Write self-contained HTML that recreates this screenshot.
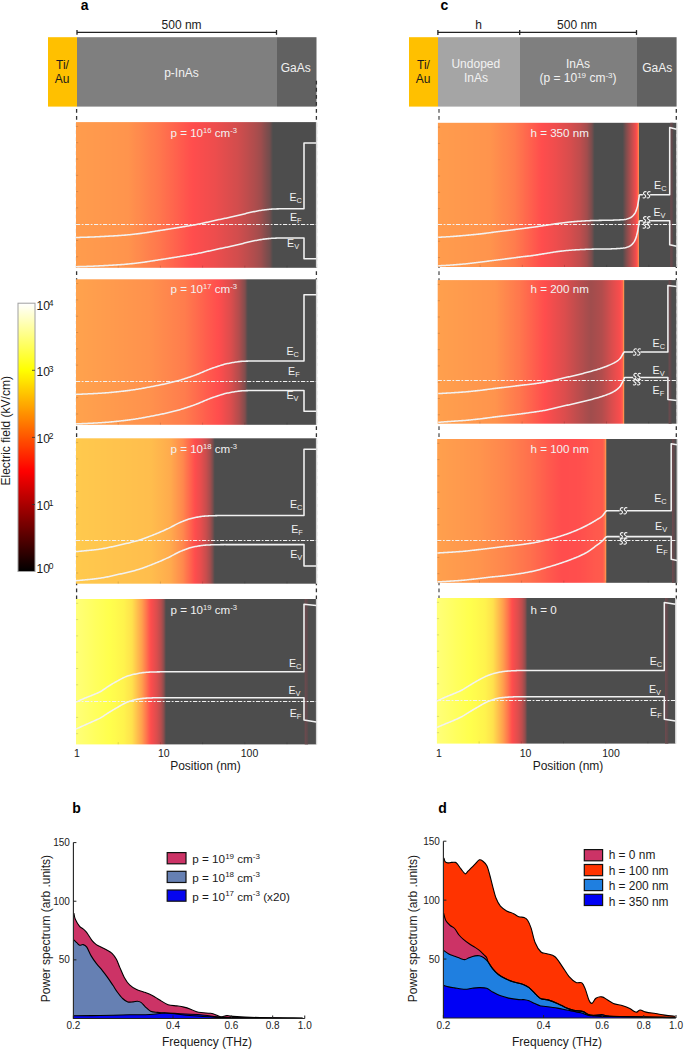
<!DOCTYPE html>
<html><head><meta charset="utf-8"><style>
html,body{margin:0;padding:0;background:#fff;width:685px;height:1049px;overflow:hidden}
svg{display:block;font-family:"Liberation Sans", sans-serif}
</style></head><body>
<svg width="685" height="1049" viewBox="0 0 685 1049" font-family='"Liberation Sans", sans-serif'><defs>
<linearGradient id="cb" x1="0" y1="0" x2="0" y2="1"><stop offset="0.000" stop-color="#ffffff"/><stop offset="0.010" stop-color="#fffff5"/><stop offset="0.020" stop-color="#ffffeb"/><stop offset="0.030" stop-color="#ffffe0"/><stop offset="0.040" stop-color="#ffffd6"/><stop offset="0.050" stop-color="#ffffcc"/><stop offset="0.060" stop-color="#ffffc2"/><stop offset="0.070" stop-color="#ffffb8"/><stop offset="0.080" stop-color="#ffffad"/><stop offset="0.090" stop-color="#ffffa3"/><stop offset="0.100" stop-color="#ffff99"/><stop offset="0.110" stop-color="#ffff8f"/><stop offset="0.120" stop-color="#ffff85"/><stop offset="0.130" stop-color="#ffff7a"/><stop offset="0.140" stop-color="#ffff70"/><stop offset="0.150" stop-color="#ffff66"/><stop offset="0.160" stop-color="#ffff5c"/><stop offset="0.170" stop-color="#ffff52"/><stop offset="0.180" stop-color="#ffff47"/><stop offset="0.190" stop-color="#ffff3d"/><stop offset="0.200" stop-color="#ffff33"/><stop offset="0.210" stop-color="#ffff29"/><stop offset="0.220" stop-color="#ffff1f"/><stop offset="0.230" stop-color="#ffff14"/><stop offset="0.240" stop-color="#ffff0a"/><stop offset="0.250" stop-color="#ffff00"/><stop offset="0.260" stop-color="#fff800"/><stop offset="0.270" stop-color="#fff100"/><stop offset="0.280" stop-color="#ffeb00"/><stop offset="0.290" stop-color="#ffe400"/><stop offset="0.300" stop-color="#ffdd00"/><stop offset="0.310" stop-color="#ffd600"/><stop offset="0.320" stop-color="#ffcf00"/><stop offset="0.330" stop-color="#ffc900"/><stop offset="0.340" stop-color="#ffc200"/><stop offset="0.350" stop-color="#ffbb00"/><stop offset="0.360" stop-color="#ffb400"/><stop offset="0.370" stop-color="#ffad00"/><stop offset="0.380" stop-color="#ffa700"/><stop offset="0.390" stop-color="#ffa000"/><stop offset="0.400" stop-color="#ff9900"/><stop offset="0.410" stop-color="#ff9200"/><stop offset="0.420" stop-color="#ff8b00"/><stop offset="0.430" stop-color="#ff8500"/><stop offset="0.440" stop-color="#ff7e00"/><stop offset="0.450" stop-color="#ff7700"/><stop offset="0.460" stop-color="#ff7000"/><stop offset="0.470" stop-color="#ff6900"/><stop offset="0.480" stop-color="#ff6300"/><stop offset="0.490" stop-color="#ff5c00"/><stop offset="0.500" stop-color="#ff5500"/><stop offset="0.510" stop-color="#ff4e00"/><stop offset="0.520" stop-color="#ff4700"/><stop offset="0.530" stop-color="#ff4100"/><stop offset="0.540" stop-color="#ff3a00"/><stop offset="0.550" stop-color="#ff3300"/><stop offset="0.560" stop-color="#ff2c00"/><stop offset="0.570" stop-color="#ff2500"/><stop offset="0.580" stop-color="#ff1f00"/><stop offset="0.590" stop-color="#ff1800"/><stop offset="0.600" stop-color="#ff1100"/><stop offset="0.610" stop-color="#ff0a00"/><stop offset="0.620" stop-color="#ff0300"/><stop offset="0.630" stop-color="#fc0000"/><stop offset="0.640" stop-color="#f50000"/><stop offset="0.650" stop-color="#ee0000"/><stop offset="0.660" stop-color="#e70000"/><stop offset="0.670" stop-color="#e00000"/><stop offset="0.680" stop-color="#da0000"/><stop offset="0.690" stop-color="#d30000"/><stop offset="0.700" stop-color="#cc0000"/><stop offset="0.710" stop-color="#c50000"/><stop offset="0.720" stop-color="#be0000"/><stop offset="0.730" stop-color="#b80000"/><stop offset="0.740" stop-color="#b10000"/><stop offset="0.750" stop-color="#aa0000"/><stop offset="0.760" stop-color="#a30000"/><stop offset="0.770" stop-color="#9c0000"/><stop offset="0.780" stop-color="#960000"/><stop offset="0.790" stop-color="#8f0000"/><stop offset="0.800" stop-color="#880000"/><stop offset="0.810" stop-color="#810000"/><stop offset="0.820" stop-color="#7a0000"/><stop offset="0.830" stop-color="#740000"/><stop offset="0.840" stop-color="#6d0000"/><stop offset="0.850" stop-color="#660000"/><stop offset="0.860" stop-color="#5f0000"/><stop offset="0.870" stop-color="#580000"/><stop offset="0.880" stop-color="#520000"/><stop offset="0.890" stop-color="#4b0000"/><stop offset="0.900" stop-color="#440000"/><stop offset="0.910" stop-color="#3d0000"/><stop offset="0.920" stop-color="#360000"/><stop offset="0.930" stop-color="#300000"/><stop offset="0.940" stop-color="#290000"/><stop offset="0.950" stop-color="#220000"/><stop offset="0.960" stop-color="#1b0000"/><stop offset="0.970" stop-color="#140000"/><stop offset="0.980" stop-color="#0e0000"/><stop offset="0.990" stop-color="#070000"/><stop offset="1.000" stop-color="#000000"/></linearGradient>
<linearGradient id="g1" x1="0" y1="0" x2="1" y2="0"><stop offset="0.0000" stop-color="#ff9c4d"/><stop offset="0.0042" stop-color="#ff9c4d"/><stop offset="0.0083" stop-color="#ff9c4d"/><stop offset="0.0125" stop-color="#ff9c4d"/><stop offset="0.0167" stop-color="#ff9c4d"/><stop offset="0.0208" stop-color="#ff9b4d"/><stop offset="0.0250" stop-color="#ff9b4d"/><stop offset="0.0292" stop-color="#ff9b4d"/><stop offset="0.0333" stop-color="#ff9b4d"/><stop offset="0.0375" stop-color="#ff9b4d"/><stop offset="0.0417" stop-color="#ff9b4d"/><stop offset="0.0458" stop-color="#ff9a4d"/><stop offset="0.0500" stop-color="#ff9a4d"/><stop offset="0.0542" stop-color="#ff9a4d"/><stop offset="0.0583" stop-color="#ff9a4d"/><stop offset="0.0625" stop-color="#ff9a4d"/><stop offset="0.0667" stop-color="#ff9a4d"/><stop offset="0.0708" stop-color="#ff9a4d"/><stop offset="0.0750" stop-color="#ff994d"/><stop offset="0.0792" stop-color="#ff994d"/><stop offset="0.0833" stop-color="#ff994d"/><stop offset="0.0875" stop-color="#ff994d"/><stop offset="0.0917" stop-color="#ff994d"/><stop offset="0.0958" stop-color="#ff994d"/><stop offset="0.1000" stop-color="#ff984d"/><stop offset="0.1042" stop-color="#ff984d"/><stop offset="0.1083" stop-color="#ff984d"/><stop offset="0.1125" stop-color="#ff984d"/><stop offset="0.1167" stop-color="#ff984d"/><stop offset="0.1208" stop-color="#ff984d"/><stop offset="0.1250" stop-color="#ff974d"/><stop offset="0.1292" stop-color="#ff974d"/><stop offset="0.1333" stop-color="#ff974d"/><stop offset="0.1375" stop-color="#ff974d"/><stop offset="0.1417" stop-color="#ff974d"/><stop offset="0.1458" stop-color="#ff974d"/><stop offset="0.1500" stop-color="#ff964d"/><stop offset="0.1542" stop-color="#ff964d"/><stop offset="0.1583" stop-color="#ff964d"/><stop offset="0.1625" stop-color="#ff964d"/><stop offset="0.1667" stop-color="#ff964d"/><stop offset="0.1708" stop-color="#ff964d"/><stop offset="0.1750" stop-color="#ff954d"/><stop offset="0.1792" stop-color="#ff954d"/><stop offset="0.1833" stop-color="#ff954d"/><stop offset="0.1875" stop-color="#ff954d"/><stop offset="0.1917" stop-color="#ff954d"/><stop offset="0.1958" stop-color="#ff954d"/><stop offset="0.2000" stop-color="#ff954d"/><stop offset="0.2042" stop-color="#ff944d"/><stop offset="0.2083" stop-color="#ff944d"/><stop offset="0.2125" stop-color="#ff944d"/><stop offset="0.2167" stop-color="#ff944d"/><stop offset="0.2208" stop-color="#ff934d"/><stop offset="0.2250" stop-color="#ff924d"/><stop offset="0.2292" stop-color="#ff914d"/><stop offset="0.2333" stop-color="#ff904d"/><stop offset="0.2375" stop-color="#ff8f4d"/><stop offset="0.2417" stop-color="#ff8e4d"/><stop offset="0.2458" stop-color="#ff8d4d"/><stop offset="0.2500" stop-color="#ff8c4d"/><stop offset="0.2542" stop-color="#ff8b4d"/><stop offset="0.2583" stop-color="#ff8b4d"/><stop offset="0.2625" stop-color="#ff8a4d"/><stop offset="0.2667" stop-color="#ff894d"/><stop offset="0.2708" stop-color="#ff884d"/><stop offset="0.2750" stop-color="#ff874d"/><stop offset="0.2792" stop-color="#ff864d"/><stop offset="0.2833" stop-color="#ff854d"/><stop offset="0.2875" stop-color="#ff844d"/><stop offset="0.2917" stop-color="#ff834d"/><stop offset="0.2958" stop-color="#ff824d"/><stop offset="0.3000" stop-color="#ff814d"/><stop offset="0.3042" stop-color="#ff804d"/><stop offset="0.3083" stop-color="#ff7f4d"/><stop offset="0.3125" stop-color="#ff7e4d"/><stop offset="0.3167" stop-color="#ff7d4d"/><stop offset="0.3208" stop-color="#ff7d4d"/><stop offset="0.3250" stop-color="#ff7c4d"/><stop offset="0.3292" stop-color="#ff7b4d"/><stop offset="0.3333" stop-color="#ff7a4d"/><stop offset="0.3375" stop-color="#ff794d"/><stop offset="0.3417" stop-color="#ff784d"/><stop offset="0.3458" stop-color="#ff774d"/><stop offset="0.3500" stop-color="#ff764d"/><stop offset="0.3542" stop-color="#ff754d"/><stop offset="0.3583" stop-color="#ff734d"/><stop offset="0.3625" stop-color="#ff724d"/><stop offset="0.3667" stop-color="#ff714d"/><stop offset="0.3708" stop-color="#ff704d"/><stop offset="0.3750" stop-color="#ff6e4d"/><stop offset="0.3792" stop-color="#ff6d4d"/><stop offset="0.3833" stop-color="#ff6c4d"/><stop offset="0.3875" stop-color="#ff6b4d"/><stop offset="0.3917" stop-color="#ff694d"/><stop offset="0.3958" stop-color="#ff684d"/><stop offset="0.4000" stop-color="#ff674d"/><stop offset="0.4042" stop-color="#ff664d"/><stop offset="0.4083" stop-color="#ff644d"/><stop offset="0.4125" stop-color="#ff634d"/><stop offset="0.4167" stop-color="#ff624d"/><stop offset="0.4208" stop-color="#ff614d"/><stop offset="0.4250" stop-color="#ff5f4d"/><stop offset="0.4292" stop-color="#ff5e4d"/><stop offset="0.4333" stop-color="#ff5d4d"/><stop offset="0.4375" stop-color="#ff5b4d"/><stop offset="0.4417" stop-color="#ff5a4d"/><stop offset="0.4458" stop-color="#ff594d"/><stop offset="0.4500" stop-color="#ff584d"/><stop offset="0.4542" stop-color="#ff564d"/><stop offset="0.4583" stop-color="#ff554d"/><stop offset="0.4625" stop-color="#ff544d"/><stop offset="0.4667" stop-color="#ff534d"/><stop offset="0.4708" stop-color="#ff514d"/><stop offset="0.4750" stop-color="#ff504d"/><stop offset="0.4792" stop-color="#ff4f4d"/><stop offset="0.4833" stop-color="#ff4e4d"/><stop offset="0.4875" stop-color="#ff4d4d"/><stop offset="0.4917" stop-color="#fe4d4d"/><stop offset="0.4958" stop-color="#fd4d4d"/><stop offset="0.5000" stop-color="#fc4d4d"/><stop offset="0.5042" stop-color="#fc4d4d"/><stop offset="0.5083" stop-color="#fb4d4d"/><stop offset="0.5125" stop-color="#fa4d4d"/><stop offset="0.5167" stop-color="#f94d4d"/><stop offset="0.5208" stop-color="#f84d4d"/><stop offset="0.5250" stop-color="#f84d4d"/><stop offset="0.5292" stop-color="#f74d4d"/><stop offset="0.5333" stop-color="#f64d4d"/><stop offset="0.5375" stop-color="#f54d4d"/><stop offset="0.5417" stop-color="#f44d4d"/><stop offset="0.5458" stop-color="#f44d4d"/><stop offset="0.5500" stop-color="#f34d4d"/><stop offset="0.5542" stop-color="#f24d4d"/><stop offset="0.5583" stop-color="#f14d4d"/><stop offset="0.5625" stop-color="#f04d4d"/><stop offset="0.5667" stop-color="#ef4d4d"/><stop offset="0.5708" stop-color="#ef4d4d"/><stop offset="0.5750" stop-color="#ee4d4d"/><stop offset="0.5792" stop-color="#ed4d4d"/><stop offset="0.5833" stop-color="#ec4d4d"/><stop offset="0.5875" stop-color="#eb4d4d"/><stop offset="0.5917" stop-color="#e94d4d"/><stop offset="0.5958" stop-color="#e84d4d"/><stop offset="0.6000" stop-color="#e74d4d"/><stop offset="0.6042" stop-color="#e64d4d"/><stop offset="0.6083" stop-color="#e54d4d"/><stop offset="0.6125" stop-color="#e34d4d"/><stop offset="0.6167" stop-color="#e24d4d"/><stop offset="0.6208" stop-color="#e14d4d"/><stop offset="0.6250" stop-color="#e04d4d"/><stop offset="0.6292" stop-color="#df4d4d"/><stop offset="0.6333" stop-color="#dd4d4d"/><stop offset="0.6375" stop-color="#dc4d4d"/><stop offset="0.6417" stop-color="#db4d4d"/><stop offset="0.6458" stop-color="#da4d4d"/><stop offset="0.6500" stop-color="#d94d4d"/><stop offset="0.6542" stop-color="#d74d4d"/><stop offset="0.6583" stop-color="#d64d4d"/><stop offset="0.6625" stop-color="#d54d4d"/><stop offset="0.6667" stop-color="#d44d4d"/><stop offset="0.6708" stop-color="#d34d4d"/><stop offset="0.6750" stop-color="#d14d4d"/><stop offset="0.6792" stop-color="#cf4d4d"/><stop offset="0.6833" stop-color="#cd4d4d"/><stop offset="0.6875" stop-color="#cb4d4d"/><stop offset="0.6917" stop-color="#c94d4d"/><stop offset="0.6958" stop-color="#c74d4d"/><stop offset="0.7000" stop-color="#c54d4d"/><stop offset="0.7042" stop-color="#c34d4d"/><stop offset="0.7083" stop-color="#c14d4d"/><stop offset="0.7125" stop-color="#bf4d4d"/><stop offset="0.7167" stop-color="#bd4d4d"/><stop offset="0.7208" stop-color="#ba4d4d"/><stop offset="0.7250" stop-color="#b84d4d"/><stop offset="0.7292" stop-color="#b64d4d"/><stop offset="0.7333" stop-color="#b44d4d"/><stop offset="0.7375" stop-color="#b24d4d"/><stop offset="0.7417" stop-color="#b04d4d"/><stop offset="0.7458" stop-color="#ad4d4d"/><stop offset="0.7500" stop-color="#ab4d4d"/><stop offset="0.7542" stop-color="#a84d4d"/><stop offset="0.7583" stop-color="#a54d4d"/><stop offset="0.7625" stop-color="#a24d4d"/><stop offset="0.7667" stop-color="#a04d4d"/><stop offset="0.7708" stop-color="#9c4d4d"/><stop offset="0.7750" stop-color="#974d4d"/><stop offset="0.7792" stop-color="#914d4d"/><stop offset="0.7833" stop-color="#8c4d4d"/><stop offset="0.7875" stop-color="#874d4d"/><stop offset="0.7917" stop-color="#824d4d"/><stop offset="0.7958" stop-color="#7d4d4d"/><stop offset="0.8000" stop-color="#794d4d"/><stop offset="0.8042" stop-color="#744d4d"/><stop offset="0.8083" stop-color="#6d4d4d"/><stop offset="0.8125" stop-color="#614d4d"/><stop offset="0.8167" stop-color="#554d4d"/><stop offset="0.8208" stop-color="#4d4d4d"/><stop offset="0.8250" stop-color="#4d4d4d"/><stop offset="0.8292" stop-color="#4d4d4d"/><stop offset="0.8333" stop-color="#4d4d4d"/><stop offset="0.8375" stop-color="#4d4d4d"/><stop offset="0.8417" stop-color="#4d4d4d"/><stop offset="0.8458" stop-color="#4d4d4d"/><stop offset="0.8500" stop-color="#4d4d4d"/><stop offset="0.8542" stop-color="#4d4d4d"/><stop offset="0.8583" stop-color="#4d4d4d"/><stop offset="0.8625" stop-color="#4d4d4d"/><stop offset="0.8667" stop-color="#4d4d4d"/><stop offset="0.8708" stop-color="#4d4d4d"/><stop offset="0.8750" stop-color="#4d4d4d"/><stop offset="0.8792" stop-color="#4d4d4d"/><stop offset="0.8833" stop-color="#4d4d4d"/><stop offset="0.8875" stop-color="#4d4d4d"/><stop offset="0.8917" stop-color="#4d4d4d"/><stop offset="0.8958" stop-color="#4d4d4d"/><stop offset="0.9000" stop-color="#4d4d4d"/><stop offset="0.9042" stop-color="#4d4d4d"/><stop offset="0.9083" stop-color="#4d4d4d"/><stop offset="0.9125" stop-color="#4d4d4d"/><stop offset="0.9167" stop-color="#4d4d4d"/><stop offset="0.9208" stop-color="#4d4d4d"/><stop offset="0.9250" stop-color="#4d4d4d"/><stop offset="0.9292" stop-color="#4d4d4d"/><stop offset="0.9333" stop-color="#4d4d4d"/><stop offset="0.9375" stop-color="#4d4d4d"/><stop offset="0.9417" stop-color="#4d4d4d"/><stop offset="0.9458" stop-color="#4d4d4d"/><stop offset="0.9500" stop-color="#4d4d4d"/><stop offset="0.9542" stop-color="#4d4d4d"/><stop offset="0.9583" stop-color="#4d4d4d"/><stop offset="0.9625" stop-color="#4d4d4d"/><stop offset="0.9667" stop-color="#4d4d4d"/><stop offset="0.9708" stop-color="#4d4d4d"/><stop offset="0.9750" stop-color="#4d4d4d"/><stop offset="0.9792" stop-color="#4d4d4d"/><stop offset="0.9833" stop-color="#4d4d4d"/><stop offset="0.9875" stop-color="#4d4d4d"/><stop offset="0.9917" stop-color="#4d4d4d"/><stop offset="0.9958" stop-color="#4d4d4d"/><stop offset="1.0000" stop-color="#4d4d4d"/></linearGradient>
<linearGradient id="g2" x1="0" y1="0" x2="1" y2="0"><stop offset="0.0000" stop-color="#ffa24d"/><stop offset="0.0042" stop-color="#ffa24d"/><stop offset="0.0083" stop-color="#ffa24d"/><stop offset="0.0125" stop-color="#ffa24d"/><stop offset="0.0167" stop-color="#ffa14d"/><stop offset="0.0208" stop-color="#ffa14d"/><stop offset="0.0250" stop-color="#ffa14d"/><stop offset="0.0292" stop-color="#ffa14d"/><stop offset="0.0333" stop-color="#ffa04d"/><stop offset="0.0375" stop-color="#ffa04d"/><stop offset="0.0417" stop-color="#ffa04d"/><stop offset="0.0458" stop-color="#ffa04d"/><stop offset="0.0500" stop-color="#ff9f4d"/><stop offset="0.0542" stop-color="#ff9f4d"/><stop offset="0.0583" stop-color="#ff9f4d"/><stop offset="0.0625" stop-color="#ff9f4d"/><stop offset="0.0667" stop-color="#ff9f4d"/><stop offset="0.0708" stop-color="#ff9e4d"/><stop offset="0.0750" stop-color="#ff9e4d"/><stop offset="0.0792" stop-color="#ff9e4d"/><stop offset="0.0833" stop-color="#ff9e4d"/><stop offset="0.0875" stop-color="#ff9d4d"/><stop offset="0.0917" stop-color="#ff9d4d"/><stop offset="0.0958" stop-color="#ff9d4d"/><stop offset="0.1000" stop-color="#ff9d4d"/><stop offset="0.1042" stop-color="#ff9d4d"/><stop offset="0.1083" stop-color="#ff9c4d"/><stop offset="0.1125" stop-color="#ff9c4d"/><stop offset="0.1167" stop-color="#ff9c4d"/><stop offset="0.1208" stop-color="#ff9c4d"/><stop offset="0.1250" stop-color="#ff9b4d"/><stop offset="0.1292" stop-color="#ff9b4d"/><stop offset="0.1333" stop-color="#ff9b4d"/><stop offset="0.1375" stop-color="#ff9b4d"/><stop offset="0.1417" stop-color="#ff9b4d"/><stop offset="0.1458" stop-color="#ff9a4d"/><stop offset="0.1500" stop-color="#ff9a4d"/><stop offset="0.1542" stop-color="#ff9a4d"/><stop offset="0.1583" stop-color="#ff9a4d"/><stop offset="0.1625" stop-color="#ff994d"/><stop offset="0.1667" stop-color="#ff994d"/><stop offset="0.1708" stop-color="#ff994d"/><stop offset="0.1750" stop-color="#ff994d"/><stop offset="0.1792" stop-color="#ff984d"/><stop offset="0.1833" stop-color="#ff984d"/><stop offset="0.1875" stop-color="#ff984d"/><stop offset="0.1917" stop-color="#ff984d"/><stop offset="0.1958" stop-color="#ff984d"/><stop offset="0.2000" stop-color="#ff974d"/><stop offset="0.2042" stop-color="#ff974d"/><stop offset="0.2083" stop-color="#ff974d"/><stop offset="0.2125" stop-color="#ff974d"/><stop offset="0.2167" stop-color="#ff964d"/><stop offset="0.2208" stop-color="#ff964d"/><stop offset="0.2250" stop-color="#ff964d"/><stop offset="0.2292" stop-color="#ff964d"/><stop offset="0.2333" stop-color="#ff964d"/><stop offset="0.2375" stop-color="#ff954d"/><stop offset="0.2417" stop-color="#ff954d"/><stop offset="0.2458" stop-color="#ff954d"/><stop offset="0.2500" stop-color="#ff954d"/><stop offset="0.2542" stop-color="#ff944d"/><stop offset="0.2583" stop-color="#ff944d"/><stop offset="0.2625" stop-color="#ff944d"/><stop offset="0.2667" stop-color="#ff944d"/><stop offset="0.2708" stop-color="#ff944d"/><stop offset="0.2750" stop-color="#ff934d"/><stop offset="0.2792" stop-color="#ff934d"/><stop offset="0.2833" stop-color="#ff934d"/><stop offset="0.2875" stop-color="#ff934d"/><stop offset="0.2917" stop-color="#ff924d"/><stop offset="0.2958" stop-color="#ff924d"/><stop offset="0.3000" stop-color="#ff924d"/><stop offset="0.3042" stop-color="#ff924d"/><stop offset="0.3083" stop-color="#ff914d"/><stop offset="0.3125" stop-color="#ff914d"/><stop offset="0.3167" stop-color="#ff904d"/><stop offset="0.3208" stop-color="#ff904d"/><stop offset="0.3250" stop-color="#ff8f4d"/><stop offset="0.3292" stop-color="#ff8e4d"/><stop offset="0.3333" stop-color="#ff8e4d"/><stop offset="0.3375" stop-color="#ff8d4d"/><stop offset="0.3417" stop-color="#ff8d4d"/><stop offset="0.3458" stop-color="#ff8c4d"/><stop offset="0.3500" stop-color="#ff8b4d"/><stop offset="0.3542" stop-color="#ff8b4d"/><stop offset="0.3583" stop-color="#ff8a4d"/><stop offset="0.3625" stop-color="#ff894d"/><stop offset="0.3667" stop-color="#ff894d"/><stop offset="0.3708" stop-color="#ff884d"/><stop offset="0.3750" stop-color="#ff884d"/><stop offset="0.3792" stop-color="#ff874d"/><stop offset="0.3833" stop-color="#ff864d"/><stop offset="0.3875" stop-color="#ff864d"/><stop offset="0.3917" stop-color="#ff854d"/><stop offset="0.3958" stop-color="#ff854d"/><stop offset="0.4000" stop-color="#ff844d"/><stop offset="0.4042" stop-color="#ff834d"/><stop offset="0.4083" stop-color="#ff834d"/><stop offset="0.4125" stop-color="#ff824d"/><stop offset="0.4167" stop-color="#ff824d"/><stop offset="0.4208" stop-color="#ff814d"/><stop offset="0.4250" stop-color="#ff804d"/><stop offset="0.4292" stop-color="#ff804d"/><stop offset="0.4333" stop-color="#ff7f4d"/><stop offset="0.4375" stop-color="#ff7e4d"/><stop offset="0.4417" stop-color="#ff7e4d"/><stop offset="0.4458" stop-color="#ff7d4d"/><stop offset="0.4500" stop-color="#ff7d4d"/><stop offset="0.4542" stop-color="#ff7c4d"/><stop offset="0.4583" stop-color="#ff7a4d"/><stop offset="0.4625" stop-color="#ff794d"/><stop offset="0.4667" stop-color="#ff784d"/><stop offset="0.4708" stop-color="#ff764d"/><stop offset="0.4750" stop-color="#ff754d"/><stop offset="0.4792" stop-color="#ff734d"/><stop offset="0.4833" stop-color="#ff724d"/><stop offset="0.4875" stop-color="#ff704d"/><stop offset="0.4917" stop-color="#ff6f4d"/><stop offset="0.4958" stop-color="#ff6e4d"/><stop offset="0.5000" stop-color="#ff6c4d"/><stop offset="0.5042" stop-color="#ff6b4d"/><stop offset="0.5083" stop-color="#ff694d"/><stop offset="0.5125" stop-color="#ff684d"/><stop offset="0.5167" stop-color="#ff664d"/><stop offset="0.5208" stop-color="#ff654d"/><stop offset="0.5250" stop-color="#ff644d"/><stop offset="0.5292" stop-color="#ff624d"/><stop offset="0.5333" stop-color="#ff614d"/><stop offset="0.5375" stop-color="#ff5f4d"/><stop offset="0.5417" stop-color="#ff5e4d"/><stop offset="0.5458" stop-color="#ff5c4d"/><stop offset="0.5500" stop-color="#ff5b4d"/><stop offset="0.5542" stop-color="#ff5a4d"/><stop offset="0.5583" stop-color="#ff584d"/><stop offset="0.5625" stop-color="#ff574d"/><stop offset="0.5667" stop-color="#ff564d"/><stop offset="0.5708" stop-color="#ff544d"/><stop offset="0.5750" stop-color="#ff534d"/><stop offset="0.5792" stop-color="#ff524d"/><stop offset="0.5833" stop-color="#ff504d"/><stop offset="0.5875" stop-color="#ff4f4d"/><stop offset="0.5917" stop-color="#ff4e4d"/><stop offset="0.5958" stop-color="#fe4d4d"/><stop offset="0.6000" stop-color="#fb4d4d"/><stop offset="0.6042" stop-color="#f94d4d"/><stop offset="0.6083" stop-color="#f64d4d"/><stop offset="0.6125" stop-color="#f34d4d"/><stop offset="0.6167" stop-color="#f04d4d"/><stop offset="0.6208" stop-color="#ed4d4d"/><stop offset="0.6250" stop-color="#ea4d4d"/><stop offset="0.6292" stop-color="#e74d4d"/><stop offset="0.6333" stop-color="#e44d4d"/><stop offset="0.6375" stop-color="#e14d4d"/><stop offset="0.6417" stop-color="#de4d4d"/><stop offset="0.6458" stop-color="#da4d4d"/><stop offset="0.6500" stop-color="#d54d4d"/><stop offset="0.6542" stop-color="#d04d4d"/><stop offset="0.6583" stop-color="#cb4d4d"/><stop offset="0.6625" stop-color="#c54d4d"/><stop offset="0.6667" stop-color="#c04d4d"/><stop offset="0.6708" stop-color="#bb4d4d"/><stop offset="0.6750" stop-color="#b64d4d"/><stop offset="0.6792" stop-color="#b04d4d"/><stop offset="0.6833" stop-color="#a84d4d"/><stop offset="0.6875" stop-color="#a04d4d"/><stop offset="0.6917" stop-color="#984d4d"/><stop offset="0.6958" stop-color="#904d4d"/><stop offset="0.7000" stop-color="#884d4d"/><stop offset="0.7042" stop-color="#7e4d4d"/><stop offset="0.7083" stop-color="#694d4d"/><stop offset="0.7125" stop-color="#554d4d"/><stop offset="0.7167" stop-color="#4d4d4d"/><stop offset="0.7208" stop-color="#4d4d4d"/><stop offset="0.7250" stop-color="#4d4d4d"/><stop offset="0.7292" stop-color="#4d4d4d"/><stop offset="0.7333" stop-color="#4d4d4d"/><stop offset="0.7375" stop-color="#4d4d4d"/><stop offset="0.7417" stop-color="#4d4d4d"/><stop offset="0.7458" stop-color="#4d4d4d"/><stop offset="0.7500" stop-color="#4d4d4d"/><stop offset="0.7542" stop-color="#4d4d4d"/><stop offset="0.7583" stop-color="#4d4d4d"/><stop offset="0.7625" stop-color="#4d4d4d"/><stop offset="0.7667" stop-color="#4d4d4d"/><stop offset="0.7708" stop-color="#4d4d4d"/><stop offset="0.7750" stop-color="#4d4d4d"/><stop offset="0.7792" stop-color="#4d4d4d"/><stop offset="0.7833" stop-color="#4d4d4d"/><stop offset="0.7875" stop-color="#4d4d4d"/><stop offset="0.7917" stop-color="#4d4d4d"/><stop offset="0.7958" stop-color="#4d4d4d"/><stop offset="0.8000" stop-color="#4d4d4d"/><stop offset="0.8042" stop-color="#4d4d4d"/><stop offset="0.8083" stop-color="#4d4d4d"/><stop offset="0.8125" stop-color="#4d4d4d"/><stop offset="0.8167" stop-color="#4d4d4d"/><stop offset="0.8208" stop-color="#4d4d4d"/><stop offset="0.8250" stop-color="#4d4d4d"/><stop offset="0.8292" stop-color="#4d4d4d"/><stop offset="0.8333" stop-color="#4d4d4d"/><stop offset="0.8375" stop-color="#4d4d4d"/><stop offset="0.8417" stop-color="#4d4d4d"/><stop offset="0.8458" stop-color="#4d4d4d"/><stop offset="0.8500" stop-color="#4d4d4d"/><stop offset="0.8542" stop-color="#4d4d4d"/><stop offset="0.8583" stop-color="#4d4d4d"/><stop offset="0.8625" stop-color="#4d4d4d"/><stop offset="0.8667" stop-color="#4d4d4d"/><stop offset="0.8708" stop-color="#4d4d4d"/><stop offset="0.8750" stop-color="#4d4d4d"/><stop offset="0.8792" stop-color="#4d4d4d"/><stop offset="0.8833" stop-color="#4d4d4d"/><stop offset="0.8875" stop-color="#4d4d4d"/><stop offset="0.8917" stop-color="#4d4d4d"/><stop offset="0.8958" stop-color="#4d4d4d"/><stop offset="0.9000" stop-color="#4d4d4d"/><stop offset="0.9042" stop-color="#4d4d4d"/><stop offset="0.9083" stop-color="#4d4d4d"/><stop offset="0.9125" stop-color="#4d4d4d"/><stop offset="0.9167" stop-color="#4d4d4d"/><stop offset="0.9208" stop-color="#4d4d4d"/><stop offset="0.9250" stop-color="#4d4d4d"/><stop offset="0.9292" stop-color="#4d4d4d"/><stop offset="0.9333" stop-color="#4d4d4d"/><stop offset="0.9375" stop-color="#4d4d4d"/><stop offset="0.9417" stop-color="#4d4d4d"/><stop offset="0.9458" stop-color="#4d4d4d"/><stop offset="0.9500" stop-color="#4d4d4d"/><stop offset="0.9542" stop-color="#4d4d4d"/><stop offset="0.9583" stop-color="#4d4d4d"/><stop offset="0.9625" stop-color="#4d4d4d"/><stop offset="0.9667" stop-color="#4d4d4d"/><stop offset="0.9708" stop-color="#4d4d4d"/><stop offset="0.9750" stop-color="#4d4d4d"/><stop offset="0.9792" stop-color="#4d4d4d"/><stop offset="0.9833" stop-color="#4d4d4d"/><stop offset="0.9875" stop-color="#4d4d4d"/><stop offset="0.9917" stop-color="#4d4d4d"/><stop offset="0.9958" stop-color="#4d4d4d"/><stop offset="1.0000" stop-color="#4d4d4d"/></linearGradient>
<linearGradient id="g3" x1="0" y1="0" x2="1" y2="0"><stop offset="0.0000" stop-color="#ffc94d"/><stop offset="0.0042" stop-color="#ffc94d"/><stop offset="0.0083" stop-color="#ffc94d"/><stop offset="0.0125" stop-color="#ffc94d"/><stop offset="0.0167" stop-color="#ffc94d"/><stop offset="0.0208" stop-color="#ffc94d"/><stop offset="0.0250" stop-color="#ffc84d"/><stop offset="0.0292" stop-color="#ffc84d"/><stop offset="0.0333" stop-color="#ffc84d"/><stop offset="0.0375" stop-color="#ffc84d"/><stop offset="0.0417" stop-color="#ffc84d"/><stop offset="0.0458" stop-color="#ffc84d"/><stop offset="0.0500" stop-color="#ffc84d"/><stop offset="0.0542" stop-color="#ffc74d"/><stop offset="0.0583" stop-color="#ffc74d"/><stop offset="0.0625" stop-color="#ffc74d"/><stop offset="0.0667" stop-color="#ffc74d"/><stop offset="0.0708" stop-color="#ffc74d"/><stop offset="0.0750" stop-color="#ffc74d"/><stop offset="0.0792" stop-color="#ffc64d"/><stop offset="0.0833" stop-color="#ffc64d"/><stop offset="0.0875" stop-color="#ffc64d"/><stop offset="0.0917" stop-color="#ffc64d"/><stop offset="0.0958" stop-color="#ffc64d"/><stop offset="0.1000" stop-color="#ffc64d"/><stop offset="0.1042" stop-color="#ffc54d"/><stop offset="0.1083" stop-color="#ffc54d"/><stop offset="0.1125" stop-color="#ffc54d"/><stop offset="0.1167" stop-color="#ffc54d"/><stop offset="0.1208" stop-color="#ffc54d"/><stop offset="0.1250" stop-color="#ffc54d"/><stop offset="0.1292" stop-color="#ffc44d"/><stop offset="0.1333" stop-color="#ffc44d"/><stop offset="0.1375" stop-color="#ffc44d"/><stop offset="0.1417" stop-color="#ffc44d"/><stop offset="0.1458" stop-color="#ffc44d"/><stop offset="0.1500" stop-color="#ffc44d"/><stop offset="0.1542" stop-color="#ffc34d"/><stop offset="0.1583" stop-color="#ffc34d"/><stop offset="0.1625" stop-color="#ffc34d"/><stop offset="0.1667" stop-color="#ffc34d"/><stop offset="0.1708" stop-color="#ffc34d"/><stop offset="0.1750" stop-color="#ffc34d"/><stop offset="0.1792" stop-color="#ffc34d"/><stop offset="0.1833" stop-color="#ffc24d"/><stop offset="0.1875" stop-color="#ffc24d"/><stop offset="0.1917" stop-color="#ffc24d"/><stop offset="0.1958" stop-color="#ffc24d"/><stop offset="0.2000" stop-color="#ffc24d"/><stop offset="0.2042" stop-color="#ffc24d"/><stop offset="0.2083" stop-color="#ffc14d"/><stop offset="0.2125" stop-color="#ffc14d"/><stop offset="0.2167" stop-color="#ffc14d"/><stop offset="0.2208" stop-color="#ffc14d"/><stop offset="0.2250" stop-color="#ffc14d"/><stop offset="0.2292" stop-color="#ffc14d"/><stop offset="0.2333" stop-color="#ffc04d"/><stop offset="0.2375" stop-color="#ffc04d"/><stop offset="0.2417" stop-color="#ffc04d"/><stop offset="0.2458" stop-color="#ffc04d"/><stop offset="0.2500" stop-color="#ffc04d"/><stop offset="0.2542" stop-color="#ffc04d"/><stop offset="0.2583" stop-color="#ffbf4d"/><stop offset="0.2625" stop-color="#ffbf4d"/><stop offset="0.2667" stop-color="#ffbf4d"/><stop offset="0.2708" stop-color="#ffbf4d"/><stop offset="0.2750" stop-color="#ffbf4d"/><stop offset="0.2792" stop-color="#ffbf4d"/><stop offset="0.2833" stop-color="#ffbf4d"/><stop offset="0.2875" stop-color="#ffbe4d"/><stop offset="0.2917" stop-color="#ffbe4d"/><stop offset="0.2958" stop-color="#ffbe4d"/><stop offset="0.3000" stop-color="#ffbe4d"/><stop offset="0.3042" stop-color="#ffbe4d"/><stop offset="0.3083" stop-color="#ffbd4d"/><stop offset="0.3125" stop-color="#ffbd4d"/><stop offset="0.3167" stop-color="#ffbc4d"/><stop offset="0.3208" stop-color="#ffbb4d"/><stop offset="0.3250" stop-color="#ffba4d"/><stop offset="0.3292" stop-color="#ffb94d"/><stop offset="0.3333" stop-color="#ffb84d"/><stop offset="0.3375" stop-color="#ffb74d"/><stop offset="0.3417" stop-color="#ffb64d"/><stop offset="0.3458" stop-color="#ffb54d"/><stop offset="0.3500" stop-color="#ffb54d"/><stop offset="0.3542" stop-color="#ffb44d"/><stop offset="0.3583" stop-color="#ffb34d"/><stop offset="0.3625" stop-color="#ffb24d"/><stop offset="0.3667" stop-color="#ffb14d"/><stop offset="0.3708" stop-color="#ffb04d"/><stop offset="0.3750" stop-color="#ffaf4d"/><stop offset="0.3792" stop-color="#ffae4d"/><stop offset="0.3833" stop-color="#ffad4d"/><stop offset="0.3875" stop-color="#ffac4d"/><stop offset="0.3917" stop-color="#ffab4d"/><stop offset="0.3958" stop-color="#ffa94d"/><stop offset="0.4000" stop-color="#ffa64d"/><stop offset="0.4042" stop-color="#ffa34d"/><stop offset="0.4083" stop-color="#ffa04d"/><stop offset="0.4125" stop-color="#ff9e4d"/><stop offset="0.4167" stop-color="#ff9b4d"/><stop offset="0.4208" stop-color="#ff984d"/><stop offset="0.4250" stop-color="#ff954d"/><stop offset="0.4292" stop-color="#ff934d"/><stop offset="0.4333" stop-color="#ff904d"/><stop offset="0.4375" stop-color="#ff8d4d"/><stop offset="0.4417" stop-color="#ff8a4d"/><stop offset="0.4458" stop-color="#ff874d"/><stop offset="0.4500" stop-color="#ff824d"/><stop offset="0.4542" stop-color="#ff7d4d"/><stop offset="0.4583" stop-color="#ff784d"/><stop offset="0.4625" stop-color="#ff734d"/><stop offset="0.4667" stop-color="#ff6f4d"/><stop offset="0.4708" stop-color="#ff6a4d"/><stop offset="0.4750" stop-color="#ff654d"/><stop offset="0.4792" stop-color="#ff604d"/><stop offset="0.4833" stop-color="#ff5b4d"/><stop offset="0.4875" stop-color="#ff564d"/><stop offset="0.4917" stop-color="#ff514d"/><stop offset="0.4958" stop-color="#fe4d4d"/><stop offset="0.5000" stop-color="#fa4d4d"/><stop offset="0.5042" stop-color="#f64d4d"/><stop offset="0.5083" stop-color="#f24d4d"/><stop offset="0.5125" stop-color="#ef4d4d"/><stop offset="0.5167" stop-color="#eb4d4d"/><stop offset="0.5208" stop-color="#e64d4d"/><stop offset="0.5250" stop-color="#e04d4d"/><stop offset="0.5292" stop-color="#da4d4d"/><stop offset="0.5333" stop-color="#d44d4d"/><stop offset="0.5375" stop-color="#ce4d4d"/><stop offset="0.5417" stop-color="#c84d4d"/><stop offset="0.5458" stop-color="#bf4d4d"/><stop offset="0.5500" stop-color="#b64d4d"/><stop offset="0.5542" stop-color="#ad4d4d"/><stop offset="0.5583" stop-color="#a34d4d"/><stop offset="0.5625" stop-color="#934d4d"/><stop offset="0.5667" stop-color="#834d4d"/><stop offset="0.5708" stop-color="#724d4d"/><stop offset="0.5750" stop-color="#574d4d"/><stop offset="0.5792" stop-color="#4d4d4d"/><stop offset="0.5833" stop-color="#4d4d4d"/><stop offset="0.5875" stop-color="#4d4d4d"/><stop offset="0.5917" stop-color="#4d4d4d"/><stop offset="0.5958" stop-color="#4d4d4d"/><stop offset="0.6000" stop-color="#4d4d4d"/><stop offset="0.6042" stop-color="#4d4d4d"/><stop offset="0.6083" stop-color="#4d4d4d"/><stop offset="0.6125" stop-color="#4d4d4d"/><stop offset="0.6167" stop-color="#4d4d4d"/><stop offset="0.6208" stop-color="#4d4d4d"/><stop offset="0.6250" stop-color="#4d4d4d"/><stop offset="0.6292" stop-color="#4d4d4d"/><stop offset="0.6333" stop-color="#4d4d4d"/><stop offset="0.6375" stop-color="#4d4d4d"/><stop offset="0.6417" stop-color="#4d4d4d"/><stop offset="0.6458" stop-color="#4d4d4d"/><stop offset="0.6500" stop-color="#4d4d4d"/><stop offset="0.6542" stop-color="#4d4d4d"/><stop offset="0.6583" stop-color="#4d4d4d"/><stop offset="0.6625" stop-color="#4d4d4d"/><stop offset="0.6667" stop-color="#4d4d4d"/><stop offset="0.6708" stop-color="#4d4d4d"/><stop offset="0.6750" stop-color="#4d4d4d"/><stop offset="0.6792" stop-color="#4d4d4d"/><stop offset="0.6833" stop-color="#4d4d4d"/><stop offset="0.6875" stop-color="#4d4d4d"/><stop offset="0.6917" stop-color="#4d4d4d"/><stop offset="0.6958" stop-color="#4d4d4d"/><stop offset="0.7000" stop-color="#4d4d4d"/><stop offset="0.7042" stop-color="#4d4d4d"/><stop offset="0.7083" stop-color="#4d4d4d"/><stop offset="0.7125" stop-color="#4d4d4d"/><stop offset="0.7167" stop-color="#4d4d4d"/><stop offset="0.7208" stop-color="#4d4d4d"/><stop offset="0.7250" stop-color="#4d4d4d"/><stop offset="0.7292" stop-color="#4d4d4d"/><stop offset="0.7333" stop-color="#4d4d4d"/><stop offset="0.7375" stop-color="#4d4d4d"/><stop offset="0.7417" stop-color="#4d4d4d"/><stop offset="0.7458" stop-color="#4d4d4d"/><stop offset="0.7500" stop-color="#4d4d4d"/><stop offset="0.7542" stop-color="#4d4d4d"/><stop offset="0.7583" stop-color="#4d4d4d"/><stop offset="0.7625" stop-color="#4d4d4d"/><stop offset="0.7667" stop-color="#4d4d4d"/><stop offset="0.7708" stop-color="#4d4d4d"/><stop offset="0.7750" stop-color="#4d4d4d"/><stop offset="0.7792" stop-color="#4d4d4d"/><stop offset="0.7833" stop-color="#4d4d4d"/><stop offset="0.7875" stop-color="#4d4d4d"/><stop offset="0.7917" stop-color="#4d4d4d"/><stop offset="0.7958" stop-color="#4d4d4d"/><stop offset="0.8000" stop-color="#4d4d4d"/><stop offset="0.8042" stop-color="#4d4d4d"/><stop offset="0.8083" stop-color="#4d4d4d"/><stop offset="0.8125" stop-color="#4d4d4d"/><stop offset="0.8167" stop-color="#4d4d4d"/><stop offset="0.8208" stop-color="#4d4d4d"/><stop offset="0.8250" stop-color="#4d4d4d"/><stop offset="0.8292" stop-color="#4d4d4d"/><stop offset="0.8333" stop-color="#4d4d4d"/><stop offset="0.8375" stop-color="#4d4d4d"/><stop offset="0.8417" stop-color="#4d4d4d"/><stop offset="0.8458" stop-color="#4d4d4d"/><stop offset="0.8500" stop-color="#4d4d4d"/><stop offset="0.8542" stop-color="#4d4d4d"/><stop offset="0.8583" stop-color="#4d4d4d"/><stop offset="0.8625" stop-color="#4d4d4d"/><stop offset="0.8667" stop-color="#4d4d4d"/><stop offset="0.8708" stop-color="#4d4d4d"/><stop offset="0.8750" stop-color="#4d4d4d"/><stop offset="0.8792" stop-color="#4d4d4d"/><stop offset="0.8833" stop-color="#4d4d4d"/><stop offset="0.8875" stop-color="#4d4d4d"/><stop offset="0.8917" stop-color="#4d4d4d"/><stop offset="0.8958" stop-color="#4d4d4d"/><stop offset="0.9000" stop-color="#4d4d4d"/><stop offset="0.9042" stop-color="#4d4d4d"/><stop offset="0.9083" stop-color="#4d4d4d"/><stop offset="0.9125" stop-color="#4d4d4d"/><stop offset="0.9167" stop-color="#4d4d4d"/><stop offset="0.9208" stop-color="#4d4d4d"/><stop offset="0.9250" stop-color="#4d4d4d"/><stop offset="0.9292" stop-color="#4d4d4d"/><stop offset="0.9333" stop-color="#4d4d4d"/><stop offset="0.9375" stop-color="#4d4d4d"/><stop offset="0.9417" stop-color="#4d4d4d"/><stop offset="0.9458" stop-color="#4d4d4d"/><stop offset="0.9500" stop-color="#4d4d4d"/><stop offset="0.9542" stop-color="#4d4d4d"/><stop offset="0.9583" stop-color="#4d4d4d"/><stop offset="0.9625" stop-color="#4d4d4d"/><stop offset="0.9667" stop-color="#4d4d4d"/><stop offset="0.9708" stop-color="#4d4d4d"/><stop offset="0.9750" stop-color="#4d4d4d"/><stop offset="0.9792" stop-color="#4d4d4d"/><stop offset="0.9833" stop-color="#4d4d4d"/><stop offset="0.9875" stop-color="#4d4d4d"/><stop offset="0.9917" stop-color="#4d4d4d"/><stop offset="0.9958" stop-color="#4d4d4d"/><stop offset="1.0000" stop-color="#4d4d4d"/></linearGradient>
<linearGradient id="g4" x1="0" y1="0" x2="1" y2="0"><stop offset="0.0000" stop-color="#ffff79"/><stop offset="0.0042" stop-color="#ffff78"/><stop offset="0.0083" stop-color="#ffff76"/><stop offset="0.0125" stop-color="#ffff75"/><stop offset="0.0167" stop-color="#ffff73"/><stop offset="0.0208" stop-color="#ffff72"/><stop offset="0.0250" stop-color="#ffff71"/><stop offset="0.0292" stop-color="#ffff6f"/><stop offset="0.0333" stop-color="#ffff6e"/><stop offset="0.0375" stop-color="#ffff6c"/><stop offset="0.0417" stop-color="#ffff6b"/><stop offset="0.0458" stop-color="#ffff6a"/><stop offset="0.0500" stop-color="#ffff68"/><stop offset="0.0542" stop-color="#ffff67"/><stop offset="0.0583" stop-color="#ffff65"/><stop offset="0.0625" stop-color="#ffff64"/><stop offset="0.0667" stop-color="#ffff63"/><stop offset="0.0708" stop-color="#ffff61"/><stop offset="0.0750" stop-color="#ffff60"/><stop offset="0.0792" stop-color="#ffff5e"/><stop offset="0.0833" stop-color="#ffff5d"/><stop offset="0.0875" stop-color="#ffff5c"/><stop offset="0.0917" stop-color="#ffff5b"/><stop offset="0.0958" stop-color="#ffff5a"/><stop offset="0.1000" stop-color="#ffff58"/><stop offset="0.1042" stop-color="#ffff57"/><stop offset="0.1083" stop-color="#ffff56"/><stop offset="0.1125" stop-color="#ffff55"/><stop offset="0.1167" stop-color="#ffff54"/><stop offset="0.1208" stop-color="#ffff52"/><stop offset="0.1250" stop-color="#ffff51"/><stop offset="0.1292" stop-color="#ffff50"/><stop offset="0.1333" stop-color="#ffff4f"/><stop offset="0.1375" stop-color="#ffff4e"/><stop offset="0.1417" stop-color="#ffff4d"/><stop offset="0.1458" stop-color="#fffe4d"/><stop offset="0.1500" stop-color="#fffd4d"/><stop offset="0.1542" stop-color="#fffc4d"/><stop offset="0.1583" stop-color="#fffc4d"/><stop offset="0.1625" stop-color="#fffb4d"/><stop offset="0.1667" stop-color="#fffa4d"/><stop offset="0.1708" stop-color="#fff94d"/><stop offset="0.1750" stop-color="#fff84d"/><stop offset="0.1792" stop-color="#fff74d"/><stop offset="0.1833" stop-color="#fff64d"/><stop offset="0.1875" stop-color="#fff64d"/><stop offset="0.1917" stop-color="#fff54d"/><stop offset="0.1958" stop-color="#fff44d"/><stop offset="0.2000" stop-color="#fff34d"/><stop offset="0.2042" stop-color="#fff14d"/><stop offset="0.2083" stop-color="#ffee4d"/><stop offset="0.2125" stop-color="#ffec4d"/><stop offset="0.2167" stop-color="#ffea4d"/><stop offset="0.2208" stop-color="#ffe84d"/><stop offset="0.2250" stop-color="#ffe64d"/><stop offset="0.2292" stop-color="#ffe34d"/><stop offset="0.2333" stop-color="#ffe14d"/><stop offset="0.2375" stop-color="#ffda4d"/><stop offset="0.2417" stop-color="#ffd44d"/><stop offset="0.2458" stop-color="#ffcd4d"/><stop offset="0.2500" stop-color="#ffc74d"/><stop offset="0.2542" stop-color="#ffc04d"/><stop offset="0.2583" stop-color="#ffb94d"/><stop offset="0.2625" stop-color="#ffb34d"/><stop offset="0.2667" stop-color="#ffac4d"/><stop offset="0.2708" stop-color="#ffa64d"/><stop offset="0.2750" stop-color="#ff9f4d"/><stop offset="0.2792" stop-color="#ff954d"/><stop offset="0.2833" stop-color="#ff8c4d"/><stop offset="0.2875" stop-color="#ff824d"/><stop offset="0.2917" stop-color="#ff794d"/><stop offset="0.2958" stop-color="#ff6f4d"/><stop offset="0.3000" stop-color="#ff654d"/><stop offset="0.3042" stop-color="#ff5b4d"/><stop offset="0.3083" stop-color="#ff524d"/><stop offset="0.3125" stop-color="#fc4d4d"/><stop offset="0.3167" stop-color="#f64d4d"/><stop offset="0.3208" stop-color="#f14d4d"/><stop offset="0.3250" stop-color="#eb4d4d"/><stop offset="0.3292" stop-color="#e54d4d"/><stop offset="0.3333" stop-color="#df4d4d"/><stop offset="0.3375" stop-color="#d94d4d"/><stop offset="0.3417" stop-color="#d04d4d"/><stop offset="0.3458" stop-color="#c84d4d"/><stop offset="0.3500" stop-color="#bf4d4d"/><stop offset="0.3542" stop-color="#b64d4d"/><stop offset="0.3583" stop-color="#a64d4d"/><stop offset="0.3625" stop-color="#964d4d"/><stop offset="0.3667" stop-color="#844d4d"/><stop offset="0.3708" stop-color="#634d4d"/><stop offset="0.3750" stop-color="#4d4d4d"/><stop offset="0.3792" stop-color="#4d4d4d"/><stop offset="0.3833" stop-color="#4d4d4d"/><stop offset="0.3875" stop-color="#4d4d4d"/><stop offset="0.3917" stop-color="#4d4d4d"/><stop offset="0.3958" stop-color="#4d4d4d"/><stop offset="0.4000" stop-color="#4d4d4d"/><stop offset="0.4042" stop-color="#4d4d4d"/><stop offset="0.4083" stop-color="#4d4d4d"/><stop offset="0.4125" stop-color="#4d4d4d"/><stop offset="0.4167" stop-color="#4d4d4d"/><stop offset="0.4208" stop-color="#4d4d4d"/><stop offset="0.4250" stop-color="#4d4d4d"/><stop offset="0.4292" stop-color="#4d4d4d"/><stop offset="0.4333" stop-color="#4d4d4d"/><stop offset="0.4375" stop-color="#4d4d4d"/><stop offset="0.4417" stop-color="#4d4d4d"/><stop offset="0.4458" stop-color="#4d4d4d"/><stop offset="0.4500" stop-color="#4d4d4d"/><stop offset="0.4542" stop-color="#4d4d4d"/><stop offset="0.4583" stop-color="#4d4d4d"/><stop offset="0.4625" stop-color="#4d4d4d"/><stop offset="0.4667" stop-color="#4d4d4d"/><stop offset="0.4708" stop-color="#4d4d4d"/><stop offset="0.4750" stop-color="#4d4d4d"/><stop offset="0.4792" stop-color="#4d4d4d"/><stop offset="0.4833" stop-color="#4d4d4d"/><stop offset="0.4875" stop-color="#4d4d4d"/><stop offset="0.4917" stop-color="#4d4d4d"/><stop offset="0.4958" stop-color="#4d4d4d"/><stop offset="0.5000" stop-color="#4d4d4d"/><stop offset="0.5042" stop-color="#4d4d4d"/><stop offset="0.5083" stop-color="#4d4d4d"/><stop offset="0.5125" stop-color="#4d4d4d"/><stop offset="0.5167" stop-color="#4d4d4d"/><stop offset="0.5208" stop-color="#4d4d4d"/><stop offset="0.5250" stop-color="#4d4d4d"/><stop offset="0.5292" stop-color="#4d4d4d"/><stop offset="0.5333" stop-color="#4d4d4d"/><stop offset="0.5375" stop-color="#4d4d4d"/><stop offset="0.5417" stop-color="#4d4d4d"/><stop offset="0.5458" stop-color="#4d4d4d"/><stop offset="0.5500" stop-color="#4d4d4d"/><stop offset="0.5542" stop-color="#4d4d4d"/><stop offset="0.5583" stop-color="#4d4d4d"/><stop offset="0.5625" stop-color="#4d4d4d"/><stop offset="0.5667" stop-color="#4d4d4d"/><stop offset="0.5708" stop-color="#4d4d4d"/><stop offset="0.5750" stop-color="#4d4d4d"/><stop offset="0.5792" stop-color="#4d4d4d"/><stop offset="0.5833" stop-color="#4d4d4d"/><stop offset="0.5875" stop-color="#4d4d4d"/><stop offset="0.5917" stop-color="#4d4d4d"/><stop offset="0.5958" stop-color="#4d4d4d"/><stop offset="0.6000" stop-color="#4d4d4d"/><stop offset="0.6042" stop-color="#4d4d4d"/><stop offset="0.6083" stop-color="#4d4d4d"/><stop offset="0.6125" stop-color="#4d4d4d"/><stop offset="0.6167" stop-color="#4d4d4d"/><stop offset="0.6208" stop-color="#4d4d4d"/><stop offset="0.6250" stop-color="#4d4d4d"/><stop offset="0.6292" stop-color="#4d4d4d"/><stop offset="0.6333" stop-color="#4d4d4d"/><stop offset="0.6375" stop-color="#4d4d4d"/><stop offset="0.6417" stop-color="#4d4d4d"/><stop offset="0.6458" stop-color="#4d4d4d"/><stop offset="0.6500" stop-color="#4d4d4d"/><stop offset="0.6542" stop-color="#4d4d4d"/><stop offset="0.6583" stop-color="#4d4d4d"/><stop offset="0.6625" stop-color="#4d4d4d"/><stop offset="0.6667" stop-color="#4d4d4d"/><stop offset="0.6708" stop-color="#4d4d4d"/><stop offset="0.6750" stop-color="#4d4d4d"/><stop offset="0.6792" stop-color="#4d4d4d"/><stop offset="0.6833" stop-color="#4d4d4d"/><stop offset="0.6875" stop-color="#4d4d4d"/><stop offset="0.6917" stop-color="#4d4d4d"/><stop offset="0.6958" stop-color="#4d4d4d"/><stop offset="0.7000" stop-color="#4d4d4d"/><stop offset="0.7042" stop-color="#4d4d4d"/><stop offset="0.7083" stop-color="#4d4d4d"/><stop offset="0.7125" stop-color="#4d4d4d"/><stop offset="0.7167" stop-color="#4d4d4d"/><stop offset="0.7208" stop-color="#4d4d4d"/><stop offset="0.7250" stop-color="#4d4d4d"/><stop offset="0.7292" stop-color="#4d4d4d"/><stop offset="0.7333" stop-color="#4d4d4d"/><stop offset="0.7375" stop-color="#4d4d4d"/><stop offset="0.7417" stop-color="#4d4d4d"/><stop offset="0.7458" stop-color="#4d4d4d"/><stop offset="0.7500" stop-color="#4d4d4d"/><stop offset="0.7542" stop-color="#4d4d4d"/><stop offset="0.7583" stop-color="#4d4d4d"/><stop offset="0.7625" stop-color="#4d4d4d"/><stop offset="0.7667" stop-color="#4d4d4d"/><stop offset="0.7708" stop-color="#4d4d4d"/><stop offset="0.7750" stop-color="#4d4d4d"/><stop offset="0.7792" stop-color="#4d4d4d"/><stop offset="0.7833" stop-color="#4d4d4d"/><stop offset="0.7875" stop-color="#4d4d4d"/><stop offset="0.7917" stop-color="#4d4d4d"/><stop offset="0.7958" stop-color="#4d4d4d"/><stop offset="0.8000" stop-color="#4d4d4d"/><stop offset="0.8042" stop-color="#4d4d4d"/><stop offset="0.8083" stop-color="#4d4d4d"/><stop offset="0.8125" stop-color="#4d4d4d"/><stop offset="0.8167" stop-color="#4d4d4d"/><stop offset="0.8208" stop-color="#4d4d4d"/><stop offset="0.8250" stop-color="#4d4d4d"/><stop offset="0.8292" stop-color="#4d4d4d"/><stop offset="0.8333" stop-color="#4d4d4d"/><stop offset="0.8375" stop-color="#4d4d4d"/><stop offset="0.8417" stop-color="#4d4d4d"/><stop offset="0.8458" stop-color="#4d4d4d"/><stop offset="0.8500" stop-color="#4d4d4d"/><stop offset="0.8542" stop-color="#4d4d4d"/><stop offset="0.8583" stop-color="#4d4d4d"/><stop offset="0.8625" stop-color="#4d4d4d"/><stop offset="0.8667" stop-color="#4d4d4d"/><stop offset="0.8708" stop-color="#4d4d4d"/><stop offset="0.8750" stop-color="#4d4d4d"/><stop offset="0.8792" stop-color="#4d4d4d"/><stop offset="0.8833" stop-color="#4d4d4d"/><stop offset="0.8875" stop-color="#4d4d4d"/><stop offset="0.8917" stop-color="#4d4d4d"/><stop offset="0.8958" stop-color="#4d4d4d"/><stop offset="0.9000" stop-color="#4d4d4d"/><stop offset="0.9042" stop-color="#4d4d4d"/><stop offset="0.9083" stop-color="#4d4d4d"/><stop offset="0.9125" stop-color="#4d4d4d"/><stop offset="0.9167" stop-color="#4d4d4d"/><stop offset="0.9208" stop-color="#4d4d4d"/><stop offset="0.9250" stop-color="#4d4d4d"/><stop offset="0.9292" stop-color="#4d4d4d"/><stop offset="0.9333" stop-color="#4d4d4d"/><stop offset="0.9375" stop-color="#4d4d4d"/><stop offset="0.9417" stop-color="#4d4d4d"/><stop offset="0.9458" stop-color="#4d4d4d"/><stop offset="0.9500" stop-color="#4d4d4d"/><stop offset="0.9542" stop-color="#4d4d4d"/><stop offset="0.9583" stop-color="#4d4d4d"/><stop offset="0.9625" stop-color="#4d4d4d"/><stop offset="0.9667" stop-color="#4d4d4d"/><stop offset="0.9708" stop-color="#4d4d4d"/><stop offset="0.9750" stop-color="#4d4d4d"/><stop offset="0.9792" stop-color="#4d4d4d"/><stop offset="0.9833" stop-color="#4d4d4d"/><stop offset="0.9875" stop-color="#4d4d4d"/><stop offset="0.9917" stop-color="#4d4d4d"/><stop offset="0.9958" stop-color="#4d4d4d"/><stop offset="1.0000" stop-color="#4d4d4d"/></linearGradient>
<linearGradient id="g5" x1="0" y1="0" x2="1" y2="0"><stop offset="0.0000" stop-color="#ff9c4d"/><stop offset="0.0042" stop-color="#ff9c4d"/><stop offset="0.0084" stop-color="#ff9c4d"/><stop offset="0.0126" stop-color="#ff9c4d"/><stop offset="0.0168" stop-color="#ff9b4d"/><stop offset="0.0210" stop-color="#ff9b4d"/><stop offset="0.0252" stop-color="#ff9b4d"/><stop offset="0.0294" stop-color="#ff9b4d"/><stop offset="0.0336" stop-color="#ff9b4d"/><stop offset="0.0378" stop-color="#ff9b4d"/><stop offset="0.0420" stop-color="#ff9b4d"/><stop offset="0.0462" stop-color="#ff9a4d"/><stop offset="0.0504" stop-color="#ff9a4d"/><stop offset="0.0546" stop-color="#ff9a4d"/><stop offset="0.0588" stop-color="#ff9a4d"/><stop offset="0.0630" stop-color="#ff9a4d"/><stop offset="0.0672" stop-color="#ff9a4d"/><stop offset="0.0714" stop-color="#ff994d"/><stop offset="0.0756" stop-color="#ff994d"/><stop offset="0.0798" stop-color="#ff994d"/><stop offset="0.0840" stop-color="#ff994d"/><stop offset="0.0882" stop-color="#ff994d"/><stop offset="0.0924" stop-color="#ff994d"/><stop offset="0.0966" stop-color="#ff984d"/><stop offset="0.1008" stop-color="#ff984d"/><stop offset="0.1050" stop-color="#ff984d"/><stop offset="0.1092" stop-color="#ff984d"/><stop offset="0.1134" stop-color="#ff984d"/><stop offset="0.1176" stop-color="#ff984d"/><stop offset="0.1218" stop-color="#ff984d"/><stop offset="0.1261" stop-color="#ff974d"/><stop offset="0.1303" stop-color="#ff974d"/><stop offset="0.1345" stop-color="#ff974d"/><stop offset="0.1387" stop-color="#ff974d"/><stop offset="0.1429" stop-color="#ff974d"/><stop offset="0.1471" stop-color="#ff974d"/><stop offset="0.1513" stop-color="#ff964d"/><stop offset="0.1555" stop-color="#ff964d"/><stop offset="0.1597" stop-color="#ff964d"/><stop offset="0.1639" stop-color="#ff964d"/><stop offset="0.1681" stop-color="#ff964d"/><stop offset="0.1723" stop-color="#ff964d"/><stop offset="0.1765" stop-color="#ff954d"/><stop offset="0.1807" stop-color="#ff954d"/><stop offset="0.1849" stop-color="#ff954d"/><stop offset="0.1891" stop-color="#ff954d"/><stop offset="0.1933" stop-color="#ff954d"/><stop offset="0.1975" stop-color="#ff954d"/><stop offset="0.2017" stop-color="#ff954d"/><stop offset="0.2059" stop-color="#ff944d"/><stop offset="0.2101" stop-color="#ff944d"/><stop offset="0.2143" stop-color="#ff944d"/><stop offset="0.2185" stop-color="#ff944d"/><stop offset="0.2227" stop-color="#ff934d"/><stop offset="0.2269" stop-color="#ff924d"/><stop offset="0.2311" stop-color="#ff914d"/><stop offset="0.2353" stop-color="#ff904d"/><stop offset="0.2395" stop-color="#ff8f4d"/><stop offset="0.2437" stop-color="#ff8e4d"/><stop offset="0.2479" stop-color="#ff8d4d"/><stop offset="0.2521" stop-color="#ff8c4d"/><stop offset="0.2563" stop-color="#ff8b4d"/><stop offset="0.2605" stop-color="#ff8a4d"/><stop offset="0.2647" stop-color="#ff894d"/><stop offset="0.2689" stop-color="#ff884d"/><stop offset="0.2731" stop-color="#ff874d"/><stop offset="0.2773" stop-color="#ff864d"/><stop offset="0.2815" stop-color="#ff864d"/><stop offset="0.2857" stop-color="#ff854d"/><stop offset="0.2899" stop-color="#ff844d"/><stop offset="0.2941" stop-color="#ff834d"/><stop offset="0.2983" stop-color="#ff824d"/><stop offset="0.3025" stop-color="#ff814d"/><stop offset="0.3067" stop-color="#ff804d"/><stop offset="0.3109" stop-color="#ff7f4d"/><stop offset="0.3151" stop-color="#ff7e4d"/><stop offset="0.3193" stop-color="#ff7d4d"/><stop offset="0.3235" stop-color="#ff7c4d"/><stop offset="0.3277" stop-color="#ff7a4d"/><stop offset="0.3319" stop-color="#ff784d"/><stop offset="0.3361" stop-color="#ff774d"/><stop offset="0.3403" stop-color="#ff754d"/><stop offset="0.3445" stop-color="#ff734d"/><stop offset="0.3487" stop-color="#ff714d"/><stop offset="0.3529" stop-color="#ff704d"/><stop offset="0.3571" stop-color="#ff6e4d"/><stop offset="0.3613" stop-color="#ff6c4d"/><stop offset="0.3655" stop-color="#ff6a4d"/><stop offset="0.3697" stop-color="#ff684d"/><stop offset="0.3739" stop-color="#ff674d"/><stop offset="0.3782" stop-color="#ff654d"/><stop offset="0.3824" stop-color="#ff634d"/><stop offset="0.3866" stop-color="#ff614d"/><stop offset="0.3908" stop-color="#ff604d"/><stop offset="0.3950" stop-color="#ff5e4d"/><stop offset="0.3992" stop-color="#ff5c4d"/><stop offset="0.4034" stop-color="#ff5a4d"/><stop offset="0.4076" stop-color="#ff594d"/><stop offset="0.4118" stop-color="#ff574d"/><stop offset="0.4160" stop-color="#ff554d"/><stop offset="0.4202" stop-color="#ff534d"/><stop offset="0.4244" stop-color="#ff514d"/><stop offset="0.4286" stop-color="#ff504d"/><stop offset="0.4328" stop-color="#ff4e4d"/><stop offset="0.4370" stop-color="#ff4d4d"/><stop offset="0.4412" stop-color="#fe4d4d"/><stop offset="0.4454" stop-color="#fc4d4d"/><stop offset="0.4496" stop-color="#fb4d4d"/><stop offset="0.4538" stop-color="#fa4d4d"/><stop offset="0.4580" stop-color="#f94d4d"/><stop offset="0.4622" stop-color="#f84d4d"/><stop offset="0.4664" stop-color="#f64d4d"/><stop offset="0.4706" stop-color="#f54d4d"/><stop offset="0.4748" stop-color="#f44d4d"/><stop offset="0.4790" stop-color="#f34d4d"/><stop offset="0.4832" stop-color="#f24d4d"/><stop offset="0.4874" stop-color="#f04d4d"/><stop offset="0.4916" stop-color="#ef4d4d"/><stop offset="0.4958" stop-color="#ee4d4d"/><stop offset="0.5000" stop-color="#ec4d4d"/><stop offset="0.5042" stop-color="#ea4d4d"/><stop offset="0.5084" stop-color="#e94d4d"/><stop offset="0.5126" stop-color="#e74d4d"/><stop offset="0.5168" stop-color="#e64d4d"/><stop offset="0.5210" stop-color="#e44d4d"/><stop offset="0.5252" stop-color="#e24d4d"/><stop offset="0.5294" stop-color="#e14d4d"/><stop offset="0.5336" stop-color="#df4d4d"/><stop offset="0.5378" stop-color="#de4d4d"/><stop offset="0.5420" stop-color="#dc4d4d"/><stop offset="0.5462" stop-color="#da4d4d"/><stop offset="0.5504" stop-color="#d94d4d"/><stop offset="0.5546" stop-color="#d74d4d"/><stop offset="0.5588" stop-color="#d54d4d"/><stop offset="0.5630" stop-color="#d24d4d"/><stop offset="0.5672" stop-color="#d04d4d"/><stop offset="0.5714" stop-color="#cd4d4d"/><stop offset="0.5756" stop-color="#cb4d4d"/><stop offset="0.5798" stop-color="#c94d4d"/><stop offset="0.5840" stop-color="#c64d4d"/><stop offset="0.5882" stop-color="#c44d4d"/><stop offset="0.5924" stop-color="#c24d4d"/><stop offset="0.5966" stop-color="#bf4d4d"/><stop offset="0.6008" stop-color="#ba4d4d"/><stop offset="0.6050" stop-color="#b64d4d"/><stop offset="0.6092" stop-color="#b24d4d"/><stop offset="0.6134" stop-color="#ae4d4d"/><stop offset="0.6176" stop-color="#a94d4d"/><stop offset="0.6218" stop-color="#a54d4d"/><stop offset="0.6261" stop-color="#9f4d4d"/><stop offset="0.6303" stop-color="#964d4d"/><stop offset="0.6345" stop-color="#8e4d4d"/><stop offset="0.6387" stop-color="#854d4d"/><stop offset="0.6429" stop-color="#7c4d4d"/><stop offset="0.6471" stop-color="#704d4d"/><stop offset="0.6513" stop-color="#604d4d"/><stop offset="0.6555" stop-color="#504d4d"/><stop offset="0.6597" stop-color="#4d4d4d"/><stop offset="0.6639" stop-color="#4d4d4d"/><stop offset="0.6681" stop-color="#4d4d4d"/><stop offset="0.6723" stop-color="#4d4d4d"/><stop offset="0.6765" stop-color="#4d4d4d"/><stop offset="0.6807" stop-color="#4d4d4d"/><stop offset="0.6849" stop-color="#4d4d4d"/><stop offset="0.6891" stop-color="#4d4d4d"/><stop offset="0.6933" stop-color="#4d4d4d"/><stop offset="0.6975" stop-color="#4d4d4d"/><stop offset="0.7017" stop-color="#4d4d4d"/><stop offset="0.7059" stop-color="#4d4d4d"/><stop offset="0.7101" stop-color="#4d4d4d"/><stop offset="0.7143" stop-color="#4d4d4d"/><stop offset="0.7185" stop-color="#4d4d4d"/><stop offset="0.7227" stop-color="#4d4d4d"/><stop offset="0.7269" stop-color="#4d4d4d"/><stop offset="0.7311" stop-color="#4d4d4d"/><stop offset="0.7353" stop-color="#4d4d4d"/><stop offset="0.7395" stop-color="#4d4d4d"/><stop offset="0.7437" stop-color="#4d4d4d"/><stop offset="0.7479" stop-color="#4d4d4d"/><stop offset="0.7521" stop-color="#4d4d4d"/><stop offset="0.7563" stop-color="#4d4d4d"/><stop offset="0.7605" stop-color="#4d4d4d"/><stop offset="0.7647" stop-color="#4d4d4d"/><stop offset="0.7689" stop-color="#4d4d4d"/><stop offset="0.7731" stop-color="#4d4d4d"/><stop offset="0.7773" stop-color="#584d4d"/><stop offset="0.7815" stop-color="#664d4d"/><stop offset="0.7857" stop-color="#744d4d"/><stop offset="0.7899" stop-color="#814d4d"/><stop offset="0.7941" stop-color="#8d4d4d"/><stop offset="0.7983" stop-color="#994d4d"/><stop offset="0.8025" stop-color="#a54d4d"/><stop offset="0.8067" stop-color="#b14d4d"/><stop offset="0.8109" stop-color="#bd4d4d"/><stop offset="0.8151" stop-color="#c94d4d"/><stop offset="0.8193" stop-color="#d54d4d"/><stop offset="0.8235" stop-color="#e14d4d"/><stop offset="0.8277" stop-color="#ed4d4d"/><stop offset="0.8319" stop-color="#fe4d4d"/><stop offset="0.8361" stop-color="#ff614d"/><stop offset="0.8403" stop-color="#ff844d"/><stop offset="0.8445" stop-color="#4d4d4d"/><stop offset="0.8487" stop-color="#4d4d4d"/><stop offset="0.8529" stop-color="#4d4d4d"/><stop offset="0.8571" stop-color="#4d4d4d"/><stop offset="0.8613" stop-color="#4d4d4d"/><stop offset="0.8655" stop-color="#4d4d4d"/><stop offset="0.8697" stop-color="#4d4d4d"/><stop offset="0.8739" stop-color="#4d4d4d"/><stop offset="0.8782" stop-color="#4d4d4d"/><stop offset="0.8824" stop-color="#4d4d4d"/><stop offset="0.8866" stop-color="#4d4d4d"/><stop offset="0.8908" stop-color="#4d4d4d"/><stop offset="0.8950" stop-color="#4d4d4d"/><stop offset="0.8992" stop-color="#4d4d4d"/><stop offset="0.9034" stop-color="#4d4d4d"/><stop offset="0.9076" stop-color="#4d4d4d"/><stop offset="0.9118" stop-color="#4d4d4d"/><stop offset="0.9160" stop-color="#4d4d4d"/><stop offset="0.9202" stop-color="#4d4d4d"/><stop offset="0.9244" stop-color="#4d4d4d"/><stop offset="0.9286" stop-color="#4d4d4d"/><stop offset="0.9328" stop-color="#4d4d4d"/><stop offset="0.9370" stop-color="#4d4d4d"/><stop offset="0.9412" stop-color="#4d4d4d"/><stop offset="0.9454" stop-color="#4d4d4d"/><stop offset="0.9496" stop-color="#4d4d4d"/><stop offset="0.9538" stop-color="#4d4d4d"/><stop offset="0.9580" stop-color="#4d4d4d"/><stop offset="0.9622" stop-color="#4d4d4d"/><stop offset="0.9664" stop-color="#4d4d4d"/><stop offset="0.9706" stop-color="#4d4d4d"/><stop offset="0.9748" stop-color="#4d4d4d"/><stop offset="0.9790" stop-color="#4d4d4d"/><stop offset="0.9832" stop-color="#4d4d4d"/><stop offset="0.9874" stop-color="#4d4d4d"/><stop offset="0.9916" stop-color="#4d4d4d"/><stop offset="0.9958" stop-color="#4d4d4d"/><stop offset="1.0000" stop-color="#4d4d4d"/></linearGradient>
<linearGradient id="g6" x1="0" y1="0" x2="1" y2="0"><stop offset="0.0000" stop-color="#ffa04d"/><stop offset="0.0042" stop-color="#ff9f4d"/><stop offset="0.0084" stop-color="#ff9f4d"/><stop offset="0.0126" stop-color="#ff9f4d"/><stop offset="0.0167" stop-color="#ff9f4d"/><stop offset="0.0209" stop-color="#ff9f4d"/><stop offset="0.0251" stop-color="#ff9e4d"/><stop offset="0.0293" stop-color="#ff9e4d"/><stop offset="0.0335" stop-color="#ff9e4d"/><stop offset="0.0377" stop-color="#ff9e4d"/><stop offset="0.0418" stop-color="#ff9e4d"/><stop offset="0.0460" stop-color="#ff9d4d"/><stop offset="0.0502" stop-color="#ff9d4d"/><stop offset="0.0544" stop-color="#ff9d4d"/><stop offset="0.0586" stop-color="#ff9d4d"/><stop offset="0.0628" stop-color="#ff9d4d"/><stop offset="0.0669" stop-color="#ff9c4d"/><stop offset="0.0711" stop-color="#ff9c4d"/><stop offset="0.0753" stop-color="#ff9c4d"/><stop offset="0.0795" stop-color="#ff9c4d"/><stop offset="0.0837" stop-color="#ff9c4d"/><stop offset="0.0879" stop-color="#ff9b4d"/><stop offset="0.0921" stop-color="#ff9b4d"/><stop offset="0.0962" stop-color="#ff9b4d"/><stop offset="0.1004" stop-color="#ff9b4d"/><stop offset="0.1046" stop-color="#ff9b4d"/><stop offset="0.1088" stop-color="#ff9a4d"/><stop offset="0.1130" stop-color="#ff9a4d"/><stop offset="0.1172" stop-color="#ff9a4d"/><stop offset="0.1213" stop-color="#ff9a4d"/><stop offset="0.1255" stop-color="#ff9a4d"/><stop offset="0.1297" stop-color="#ff994d"/><stop offset="0.1339" stop-color="#ff994d"/><stop offset="0.1381" stop-color="#ff994d"/><stop offset="0.1423" stop-color="#ff994d"/><stop offset="0.1464" stop-color="#ff984d"/><stop offset="0.1506" stop-color="#ff984d"/><stop offset="0.1548" stop-color="#ff984d"/><stop offset="0.1590" stop-color="#ff984d"/><stop offset="0.1632" stop-color="#ff984d"/><stop offset="0.1674" stop-color="#ff974d"/><stop offset="0.1715" stop-color="#ff974d"/><stop offset="0.1757" stop-color="#ff974d"/><stop offset="0.1799" stop-color="#ff974d"/><stop offset="0.1841" stop-color="#ff974d"/><stop offset="0.1883" stop-color="#ff964d"/><stop offset="0.1925" stop-color="#ff964d"/><stop offset="0.1967" stop-color="#ff964d"/><stop offset="0.2008" stop-color="#ff964d"/><stop offset="0.2050" stop-color="#ff964d"/><stop offset="0.2092" stop-color="#ff954d"/><stop offset="0.2134" stop-color="#ff954d"/><stop offset="0.2176" stop-color="#ff954d"/><stop offset="0.2218" stop-color="#ff954d"/><stop offset="0.2259" stop-color="#ff954d"/><stop offset="0.2301" stop-color="#ff944d"/><stop offset="0.2343" stop-color="#ff944d"/><stop offset="0.2385" stop-color="#ff944d"/><stop offset="0.2427" stop-color="#ff934d"/><stop offset="0.2469" stop-color="#ff924d"/><stop offset="0.2510" stop-color="#ff914d"/><stop offset="0.2552" stop-color="#ff8f4d"/><stop offset="0.2594" stop-color="#ff8e4d"/><stop offset="0.2636" stop-color="#ff8d4d"/><stop offset="0.2678" stop-color="#ff8c4d"/><stop offset="0.2720" stop-color="#ff8b4d"/><stop offset="0.2762" stop-color="#ff8a4d"/><stop offset="0.2803" stop-color="#ff884d"/><stop offset="0.2845" stop-color="#ff874d"/><stop offset="0.2887" stop-color="#ff864d"/><stop offset="0.2929" stop-color="#ff854d"/><stop offset="0.2971" stop-color="#ff844d"/><stop offset="0.3013" stop-color="#ff824d"/><stop offset="0.3054" stop-color="#ff814d"/><stop offset="0.3096" stop-color="#ff804d"/><stop offset="0.3138" stop-color="#ff7f4d"/><stop offset="0.3180" stop-color="#ff7e4d"/><stop offset="0.3222" stop-color="#ff7c4d"/><stop offset="0.3264" stop-color="#ff7b4d"/><stop offset="0.3305" stop-color="#ff7a4d"/><stop offset="0.3347" stop-color="#ff794d"/><stop offset="0.3389" stop-color="#ff784d"/><stop offset="0.3431" stop-color="#ff774d"/><stop offset="0.3473" stop-color="#ff754d"/><stop offset="0.3515" stop-color="#ff734d"/><stop offset="0.3556" stop-color="#ff724d"/><stop offset="0.3598" stop-color="#ff704d"/><stop offset="0.3640" stop-color="#ff6e4d"/><stop offset="0.3682" stop-color="#ff6d4d"/><stop offset="0.3724" stop-color="#ff6b4d"/><stop offset="0.3766" stop-color="#ff694d"/><stop offset="0.3808" stop-color="#ff684d"/><stop offset="0.3849" stop-color="#ff664d"/><stop offset="0.3891" stop-color="#ff644d"/><stop offset="0.3933" stop-color="#ff634d"/><stop offset="0.3975" stop-color="#ff614d"/><stop offset="0.4017" stop-color="#ff5f4d"/><stop offset="0.4059" stop-color="#ff5e4d"/><stop offset="0.4100" stop-color="#ff5c4d"/><stop offset="0.4142" stop-color="#ff5a4d"/><stop offset="0.4184" stop-color="#ff594d"/><stop offset="0.4226" stop-color="#ff574d"/><stop offset="0.4268" stop-color="#ff554d"/><stop offset="0.4310" stop-color="#ff544d"/><stop offset="0.4351" stop-color="#ff524d"/><stop offset="0.4393" stop-color="#ff504d"/><stop offset="0.4435" stop-color="#ff4f4d"/><stop offset="0.4477" stop-color="#ff4d4d"/><stop offset="0.4519" stop-color="#fe4d4d"/><stop offset="0.4561" stop-color="#fc4d4d"/><stop offset="0.4603" stop-color="#fa4d4d"/><stop offset="0.4644" stop-color="#f84d4d"/><stop offset="0.4686" stop-color="#f74d4d"/><stop offset="0.4728" stop-color="#f54d4d"/><stop offset="0.4770" stop-color="#f34d4d"/><stop offset="0.4812" stop-color="#f14d4d"/><stop offset="0.4854" stop-color="#ef4d4d"/><stop offset="0.4895" stop-color="#ee4d4d"/><stop offset="0.4937" stop-color="#ec4d4d"/><stop offset="0.4979" stop-color="#ea4d4d"/><stop offset="0.5021" stop-color="#e84d4d"/><stop offset="0.5063" stop-color="#e74d4d"/><stop offset="0.5105" stop-color="#e54d4d"/><stop offset="0.5146" stop-color="#e34d4d"/><stop offset="0.5188" stop-color="#e14d4d"/><stop offset="0.5230" stop-color="#df4d4d"/><stop offset="0.5272" stop-color="#de4d4d"/><stop offset="0.5314" stop-color="#dc4d4d"/><stop offset="0.5356" stop-color="#da4d4d"/><stop offset="0.5397" stop-color="#d74d4d"/><stop offset="0.5439" stop-color="#d54d4d"/><stop offset="0.5481" stop-color="#d24d4d"/><stop offset="0.5523" stop-color="#d04d4d"/><stop offset="0.5565" stop-color="#ce4d4d"/><stop offset="0.5607" stop-color="#cb4d4d"/><stop offset="0.5649" stop-color="#c94d4d"/><stop offset="0.5690" stop-color="#c74d4d"/><stop offset="0.5732" stop-color="#c44d4d"/><stop offset="0.5774" stop-color="#c24d4d"/><stop offset="0.5816" stop-color="#bf4d4d"/><stop offset="0.5858" stop-color="#bd4d4d"/><stop offset="0.5900" stop-color="#bb4d4d"/><stop offset="0.5941" stop-color="#b84d4d"/><stop offset="0.5983" stop-color="#b64d4d"/><stop offset="0.6025" stop-color="#b44d4d"/><stop offset="0.6067" stop-color="#b24d4d"/><stop offset="0.6109" stop-color="#b04d4d"/><stop offset="0.6151" stop-color="#ad4d4d"/><stop offset="0.6192" stop-color="#ab4d4d"/><stop offset="0.6234" stop-color="#a94d4d"/><stop offset="0.6276" stop-color="#a74d4d"/><stop offset="0.6318" stop-color="#a54d4d"/><stop offset="0.6360" stop-color="#a34d4d"/><stop offset="0.6402" stop-color="#a04d4d"/><stop offset="0.6444" stop-color="#a14d4d"/><stop offset="0.6485" stop-color="#a34d4d"/><stop offset="0.6527" stop-color="#a44d4d"/><stop offset="0.6569" stop-color="#a64d4d"/><stop offset="0.6611" stop-color="#a74d4d"/><stop offset="0.6653" stop-color="#a94d4d"/><stop offset="0.6695" stop-color="#ab4d4d"/><stop offset="0.6736" stop-color="#ac4d4d"/><stop offset="0.6778" stop-color="#ae4d4d"/><stop offset="0.6820" stop-color="#b04d4d"/><stop offset="0.6862" stop-color="#b14d4d"/><stop offset="0.6904" stop-color="#b54d4d"/><stop offset="0.6946" stop-color="#b94d4d"/><stop offset="0.6987" stop-color="#bd4d4d"/><stop offset="0.7029" stop-color="#c14d4d"/><stop offset="0.7071" stop-color="#c54d4d"/><stop offset="0.7113" stop-color="#c94d4d"/><stop offset="0.7155" stop-color="#ce4d4d"/><stop offset="0.7197" stop-color="#d24d4d"/><stop offset="0.7238" stop-color="#d64d4d"/><stop offset="0.7280" stop-color="#da4d4d"/><stop offset="0.7322" stop-color="#de4d4d"/><stop offset="0.7364" stop-color="#e24d4d"/><stop offset="0.7406" stop-color="#e54d4d"/><stop offset="0.7448" stop-color="#e94d4d"/><stop offset="0.7490" stop-color="#ed4d4d"/><stop offset="0.7531" stop-color="#f04d4d"/><stop offset="0.7573" stop-color="#f44d4d"/><stop offset="0.7615" stop-color="#f84d4d"/><stop offset="0.7657" stop-color="#ff4d4d"/><stop offset="0.7699" stop-color="#ff574d"/><stop offset="0.7741" stop-color="#ff614d"/><stop offset="0.7782" stop-color="#ff984d"/><stop offset="0.7824" stop-color="#4d4d4d"/><stop offset="0.7866" stop-color="#4d4d4d"/><stop offset="0.7908" stop-color="#4d4d4d"/><stop offset="0.7950" stop-color="#4d4d4d"/><stop offset="0.7992" stop-color="#4d4d4d"/><stop offset="0.8033" stop-color="#4d4d4d"/><stop offset="0.8075" stop-color="#4d4d4d"/><stop offset="0.8117" stop-color="#4d4d4d"/><stop offset="0.8159" stop-color="#4d4d4d"/><stop offset="0.8201" stop-color="#4d4d4d"/><stop offset="0.8243" stop-color="#4d4d4d"/><stop offset="0.8285" stop-color="#4d4d4d"/><stop offset="0.8326" stop-color="#4d4d4d"/><stop offset="0.8368" stop-color="#4d4d4d"/><stop offset="0.8410" stop-color="#4d4d4d"/><stop offset="0.8452" stop-color="#4d4d4d"/><stop offset="0.8494" stop-color="#4d4d4d"/><stop offset="0.8536" stop-color="#4d4d4d"/><stop offset="0.8577" stop-color="#4d4d4d"/><stop offset="0.8619" stop-color="#4d4d4d"/><stop offset="0.8661" stop-color="#4d4d4d"/><stop offset="0.8703" stop-color="#4d4d4d"/><stop offset="0.8745" stop-color="#4d4d4d"/><stop offset="0.8787" stop-color="#4d4d4d"/><stop offset="0.8828" stop-color="#4d4d4d"/><stop offset="0.8870" stop-color="#4d4d4d"/><stop offset="0.8912" stop-color="#4d4d4d"/><stop offset="0.8954" stop-color="#4d4d4d"/><stop offset="0.8996" stop-color="#4d4d4d"/><stop offset="0.9038" stop-color="#4d4d4d"/><stop offset="0.9079" stop-color="#4d4d4d"/><stop offset="0.9121" stop-color="#4d4d4d"/><stop offset="0.9163" stop-color="#4d4d4d"/><stop offset="0.9205" stop-color="#4d4d4d"/><stop offset="0.9247" stop-color="#4d4d4d"/><stop offset="0.9289" stop-color="#4d4d4d"/><stop offset="0.9331" stop-color="#4d4d4d"/><stop offset="0.9372" stop-color="#4d4d4d"/><stop offset="0.9414" stop-color="#4d4d4d"/><stop offset="0.9456" stop-color="#4d4d4d"/><stop offset="0.9498" stop-color="#4d4d4d"/><stop offset="0.9540" stop-color="#4d4d4d"/><stop offset="0.9582" stop-color="#4d4d4d"/><stop offset="0.9623" stop-color="#4d4d4d"/><stop offset="0.9665" stop-color="#4d4d4d"/><stop offset="0.9707" stop-color="#4d4d4d"/><stop offset="0.9749" stop-color="#4d4d4d"/><stop offset="0.9791" stop-color="#4d4d4d"/><stop offset="0.9833" stop-color="#4d4d4d"/><stop offset="0.9874" stop-color="#4d4d4d"/><stop offset="0.9916" stop-color="#4d4d4d"/><stop offset="0.9958" stop-color="#4d4d4d"/><stop offset="1.0000" stop-color="#4d4d4d"/></linearGradient>
<linearGradient id="g7" x1="0" y1="0" x2="1" y2="0"><stop offset="0.0000" stop-color="#ffa04d"/><stop offset="0.0042" stop-color="#ff9f4d"/><stop offset="0.0084" stop-color="#ff9f4d"/><stop offset="0.0126" stop-color="#ff9f4d"/><stop offset="0.0167" stop-color="#ff9f4d"/><stop offset="0.0209" stop-color="#ff9e4d"/><stop offset="0.0251" stop-color="#ff9e4d"/><stop offset="0.0293" stop-color="#ff9e4d"/><stop offset="0.0335" stop-color="#ff9e4d"/><stop offset="0.0377" stop-color="#ff9d4d"/><stop offset="0.0418" stop-color="#ff9d4d"/><stop offset="0.0460" stop-color="#ff9d4d"/><stop offset="0.0502" stop-color="#ff9c4d"/><stop offset="0.0544" stop-color="#ff9c4d"/><stop offset="0.0586" stop-color="#ff9c4d"/><stop offset="0.0628" stop-color="#ff9c4d"/><stop offset="0.0669" stop-color="#ff9b4d"/><stop offset="0.0711" stop-color="#ff9b4d"/><stop offset="0.0753" stop-color="#ff9b4d"/><stop offset="0.0795" stop-color="#ff9a4d"/><stop offset="0.0837" stop-color="#ff9a4d"/><stop offset="0.0879" stop-color="#ff9a4d"/><stop offset="0.0921" stop-color="#ff9a4d"/><stop offset="0.0962" stop-color="#ff994d"/><stop offset="0.1004" stop-color="#ff994d"/><stop offset="0.1046" stop-color="#ff994d"/><stop offset="0.1088" stop-color="#ff994d"/><stop offset="0.1130" stop-color="#ff984d"/><stop offset="0.1172" stop-color="#ff984d"/><stop offset="0.1213" stop-color="#ff984d"/><stop offset="0.1255" stop-color="#ff974d"/><stop offset="0.1297" stop-color="#ff974d"/><stop offset="0.1339" stop-color="#ff974d"/><stop offset="0.1381" stop-color="#ff974d"/><stop offset="0.1423" stop-color="#ff964d"/><stop offset="0.1464" stop-color="#ff964d"/><stop offset="0.1506" stop-color="#ff964d"/><stop offset="0.1548" stop-color="#ff954d"/><stop offset="0.1590" stop-color="#ff954d"/><stop offset="0.1632" stop-color="#ff954d"/><stop offset="0.1674" stop-color="#ff954d"/><stop offset="0.1715" stop-color="#ff944d"/><stop offset="0.1757" stop-color="#ff944d"/><stop offset="0.1799" stop-color="#ff944d"/><stop offset="0.1841" stop-color="#ff934d"/><stop offset="0.1883" stop-color="#ff934d"/><stop offset="0.1925" stop-color="#ff924d"/><stop offset="0.1967" stop-color="#ff914d"/><stop offset="0.2008" stop-color="#ff914d"/><stop offset="0.2050" stop-color="#ff904d"/><stop offset="0.2092" stop-color="#ff904d"/><stop offset="0.2134" stop-color="#ff8f4d"/><stop offset="0.2176" stop-color="#ff8f4d"/><stop offset="0.2218" stop-color="#ff8e4d"/><stop offset="0.2259" stop-color="#ff8d4d"/><stop offset="0.2301" stop-color="#ff8d4d"/><stop offset="0.2343" stop-color="#ff8c4d"/><stop offset="0.2385" stop-color="#ff8c4d"/><stop offset="0.2427" stop-color="#ff8b4d"/><stop offset="0.2469" stop-color="#ff8b4d"/><stop offset="0.2510" stop-color="#ff8a4d"/><stop offset="0.2552" stop-color="#ff894d"/><stop offset="0.2594" stop-color="#ff894d"/><stop offset="0.2636" stop-color="#ff884d"/><stop offset="0.2678" stop-color="#ff884d"/><stop offset="0.2720" stop-color="#ff874d"/><stop offset="0.2762" stop-color="#ff874d"/><stop offset="0.2803" stop-color="#ff864d"/><stop offset="0.2845" stop-color="#ff854d"/><stop offset="0.2887" stop-color="#ff844d"/><stop offset="0.2929" stop-color="#ff844d"/><stop offset="0.2971" stop-color="#ff834d"/><stop offset="0.3013" stop-color="#ff824d"/><stop offset="0.3054" stop-color="#ff814d"/><stop offset="0.3096" stop-color="#ff804d"/><stop offset="0.3138" stop-color="#ff7f4d"/><stop offset="0.3180" stop-color="#ff7e4d"/><stop offset="0.3222" stop-color="#ff7e4d"/><stop offset="0.3264" stop-color="#ff7d4d"/><stop offset="0.3305" stop-color="#ff7c4d"/><stop offset="0.3347" stop-color="#ff7b4d"/><stop offset="0.3389" stop-color="#ff7a4d"/><stop offset="0.3431" stop-color="#ff794d"/><stop offset="0.3473" stop-color="#ff784d"/><stop offset="0.3515" stop-color="#ff774d"/><stop offset="0.3556" stop-color="#ff774d"/><stop offset="0.3598" stop-color="#ff764d"/><stop offset="0.3640" stop-color="#ff754d"/><stop offset="0.3682" stop-color="#ff744d"/><stop offset="0.3724" stop-color="#ff734d"/><stop offset="0.3766" stop-color="#ff724d"/><stop offset="0.3808" stop-color="#ff714d"/><stop offset="0.3849" stop-color="#ff714d"/><stop offset="0.3891" stop-color="#ff704d"/><stop offset="0.3933" stop-color="#ff6e4d"/><stop offset="0.3975" stop-color="#ff6d4d"/><stop offset="0.4017" stop-color="#ff6c4d"/><stop offset="0.4059" stop-color="#ff6b4d"/><stop offset="0.4100" stop-color="#ff6a4d"/><stop offset="0.4142" stop-color="#ff684d"/><stop offset="0.4184" stop-color="#ff674d"/><stop offset="0.4226" stop-color="#ff664d"/><stop offset="0.4268" stop-color="#ff654d"/><stop offset="0.4310" stop-color="#ff644d"/><stop offset="0.4351" stop-color="#ff624d"/><stop offset="0.4393" stop-color="#ff614d"/><stop offset="0.4435" stop-color="#ff604d"/><stop offset="0.4477" stop-color="#ff5f4d"/><stop offset="0.4519" stop-color="#ff5e4d"/><stop offset="0.4561" stop-color="#ff5c4d"/><stop offset="0.4603" stop-color="#ff5b4d"/><stop offset="0.4644" stop-color="#ff5a4d"/><stop offset="0.4686" stop-color="#ff594d"/><stop offset="0.4728" stop-color="#ff584d"/><stop offset="0.4770" stop-color="#ff574d"/><stop offset="0.4812" stop-color="#ff564d"/><stop offset="0.4854" stop-color="#ff554d"/><stop offset="0.4895" stop-color="#ff544d"/><stop offset="0.4937" stop-color="#ff534d"/><stop offset="0.4979" stop-color="#ff524d"/><stop offset="0.5021" stop-color="#ff514d"/><stop offset="0.5063" stop-color="#ff504d"/><stop offset="0.5105" stop-color="#ff4f4d"/><stop offset="0.5146" stop-color="#ff4e4d"/><stop offset="0.5188" stop-color="#ff4d4d"/><stop offset="0.5230" stop-color="#ff4d4d"/><stop offset="0.5272" stop-color="#ff4d4d"/><stop offset="0.5314" stop-color="#ff4d4d"/><stop offset="0.5356" stop-color="#ff4d4d"/><stop offset="0.5397" stop-color="#ff4d4d"/><stop offset="0.5439" stop-color="#ff4d4d"/><stop offset="0.5481" stop-color="#ff4d4d"/><stop offset="0.5523" stop-color="#ff4e4d"/><stop offset="0.5565" stop-color="#ff4e4d"/><stop offset="0.5607" stop-color="#ff4e4d"/><stop offset="0.5649" stop-color="#ff4e4d"/><stop offset="0.5690" stop-color="#ff4e4d"/><stop offset="0.5732" stop-color="#ff4e4d"/><stop offset="0.5774" stop-color="#ff4e4d"/><stop offset="0.5816" stop-color="#ff4e4d"/><stop offset="0.5858" stop-color="#ff4f4d"/><stop offset="0.5900" stop-color="#ff4f4d"/><stop offset="0.5941" stop-color="#ff4f4d"/><stop offset="0.5983" stop-color="#ff4f4d"/><stop offset="0.6025" stop-color="#ff504d"/><stop offset="0.6067" stop-color="#ff514d"/><stop offset="0.6109" stop-color="#ff514d"/><stop offset="0.6151" stop-color="#ff524d"/><stop offset="0.6192" stop-color="#ff524d"/><stop offset="0.6234" stop-color="#ff534d"/><stop offset="0.6276" stop-color="#ff544d"/><stop offset="0.6318" stop-color="#ff544d"/><stop offset="0.6360" stop-color="#ff554d"/><stop offset="0.6402" stop-color="#ff564d"/><stop offset="0.6444" stop-color="#ff564d"/><stop offset="0.6485" stop-color="#ff574d"/><stop offset="0.6527" stop-color="#ff584d"/><stop offset="0.6569" stop-color="#ff584d"/><stop offset="0.6611" stop-color="#ff594d"/><stop offset="0.6653" stop-color="#ff594d"/><stop offset="0.6695" stop-color="#ff594d"/><stop offset="0.6736" stop-color="#ff5a4d"/><stop offset="0.6778" stop-color="#ff5a4d"/><stop offset="0.6820" stop-color="#ff5a4d"/><stop offset="0.6862" stop-color="#ff5a4d"/><stop offset="0.6904" stop-color="#ff5b4d"/><stop offset="0.6946" stop-color="#ff664d"/><stop offset="0.6987" stop-color="#ff744d"/><stop offset="0.7029" stop-color="#ff984d"/><stop offset="0.7071" stop-color="#4d4d4d"/><stop offset="0.7113" stop-color="#4d4d4d"/><stop offset="0.7155" stop-color="#4d4d4d"/><stop offset="0.7197" stop-color="#4d4d4d"/><stop offset="0.7238" stop-color="#4d4d4d"/><stop offset="0.7280" stop-color="#4d4d4d"/><stop offset="0.7322" stop-color="#4d4d4d"/><stop offset="0.7364" stop-color="#4d4d4d"/><stop offset="0.7406" stop-color="#4d4d4d"/><stop offset="0.7448" stop-color="#4d4d4d"/><stop offset="0.7490" stop-color="#4d4d4d"/><stop offset="0.7531" stop-color="#4d4d4d"/><stop offset="0.7573" stop-color="#4d4d4d"/><stop offset="0.7615" stop-color="#4d4d4d"/><stop offset="0.7657" stop-color="#4d4d4d"/><stop offset="0.7699" stop-color="#4d4d4d"/><stop offset="0.7741" stop-color="#4d4d4d"/><stop offset="0.7782" stop-color="#4d4d4d"/><stop offset="0.7824" stop-color="#4d4d4d"/><stop offset="0.7866" stop-color="#4d4d4d"/><stop offset="0.7908" stop-color="#4d4d4d"/><stop offset="0.7950" stop-color="#4d4d4d"/><stop offset="0.7992" stop-color="#4d4d4d"/><stop offset="0.8033" stop-color="#4d4d4d"/><stop offset="0.8075" stop-color="#4d4d4d"/><stop offset="0.8117" stop-color="#4d4d4d"/><stop offset="0.8159" stop-color="#4d4d4d"/><stop offset="0.8201" stop-color="#4d4d4d"/><stop offset="0.8243" stop-color="#4d4d4d"/><stop offset="0.8285" stop-color="#4d4d4d"/><stop offset="0.8326" stop-color="#4d4d4d"/><stop offset="0.8368" stop-color="#4d4d4d"/><stop offset="0.8410" stop-color="#4d4d4d"/><stop offset="0.8452" stop-color="#4d4d4d"/><stop offset="0.8494" stop-color="#4d4d4d"/><stop offset="0.8536" stop-color="#4d4d4d"/><stop offset="0.8577" stop-color="#4d4d4d"/><stop offset="0.8619" stop-color="#4d4d4d"/><stop offset="0.8661" stop-color="#4d4d4d"/><stop offset="0.8703" stop-color="#4d4d4d"/><stop offset="0.8745" stop-color="#4d4d4d"/><stop offset="0.8787" stop-color="#4d4d4d"/><stop offset="0.8828" stop-color="#4d4d4d"/><stop offset="0.8870" stop-color="#4d4d4d"/><stop offset="0.8912" stop-color="#4d4d4d"/><stop offset="0.8954" stop-color="#4d4d4d"/><stop offset="0.8996" stop-color="#4d4d4d"/><stop offset="0.9038" stop-color="#4d4d4d"/><stop offset="0.9079" stop-color="#4d4d4d"/><stop offset="0.9121" stop-color="#4d4d4d"/><stop offset="0.9163" stop-color="#4d4d4d"/><stop offset="0.9205" stop-color="#4d4d4d"/><stop offset="0.9247" stop-color="#4d4d4d"/><stop offset="0.9289" stop-color="#4d4d4d"/><stop offset="0.9331" stop-color="#4d4d4d"/><stop offset="0.9372" stop-color="#4d4d4d"/><stop offset="0.9414" stop-color="#4d4d4d"/><stop offset="0.9456" stop-color="#4d4d4d"/><stop offset="0.9498" stop-color="#4d4d4d"/><stop offset="0.9540" stop-color="#4d4d4d"/><stop offset="0.9582" stop-color="#4d4d4d"/><stop offset="0.9623" stop-color="#4d4d4d"/><stop offset="0.9665" stop-color="#4d4d4d"/><stop offset="0.9707" stop-color="#4d4d4d"/><stop offset="0.9749" stop-color="#4d4d4d"/><stop offset="0.9791" stop-color="#4d4d4d"/><stop offset="0.9833" stop-color="#4d4d4d"/><stop offset="0.9874" stop-color="#4d4d4d"/><stop offset="0.9916" stop-color="#4d4d4d"/><stop offset="0.9958" stop-color="#4d4d4d"/><stop offset="1.0000" stop-color="#4d4d4d"/></linearGradient>
<linearGradient id="g8" x1="0" y1="0" x2="1" y2="0"><stop offset="0.0000" stop-color="#ffff79"/><stop offset="0.0042" stop-color="#ffff78"/><stop offset="0.0084" stop-color="#ffff76"/><stop offset="0.0126" stop-color="#ffff75"/><stop offset="0.0168" stop-color="#ffff74"/><stop offset="0.0210" stop-color="#ffff72"/><stop offset="0.0252" stop-color="#ffff71"/><stop offset="0.0294" stop-color="#ffff6f"/><stop offset="0.0336" stop-color="#ffff6e"/><stop offset="0.0378" stop-color="#ffff6d"/><stop offset="0.0420" stop-color="#ffff6b"/><stop offset="0.0462" stop-color="#ffff6a"/><stop offset="0.0504" stop-color="#ffff68"/><stop offset="0.0546" stop-color="#ffff67"/><stop offset="0.0588" stop-color="#ffff65"/><stop offset="0.0630" stop-color="#ffff64"/><stop offset="0.0672" stop-color="#ffff63"/><stop offset="0.0714" stop-color="#ffff61"/><stop offset="0.0756" stop-color="#ffff60"/><stop offset="0.0798" stop-color="#ffff5e"/><stop offset="0.0840" stop-color="#ffff5d"/><stop offset="0.0882" stop-color="#ffff5c"/><stop offset="0.0924" stop-color="#ffff5b"/><stop offset="0.0966" stop-color="#ffff5a"/><stop offset="0.1008" stop-color="#ffff58"/><stop offset="0.1050" stop-color="#ffff57"/><stop offset="0.1092" stop-color="#ffff56"/><stop offset="0.1134" stop-color="#ffff55"/><stop offset="0.1176" stop-color="#ffff54"/><stop offset="0.1218" stop-color="#ffff52"/><stop offset="0.1261" stop-color="#ffff51"/><stop offset="0.1303" stop-color="#ffff50"/><stop offset="0.1345" stop-color="#ffff4f"/><stop offset="0.1387" stop-color="#ffff4e"/><stop offset="0.1429" stop-color="#ffff4d"/><stop offset="0.1471" stop-color="#fffe4d"/><stop offset="0.1513" stop-color="#fffd4d"/><stop offset="0.1555" stop-color="#fffc4d"/><stop offset="0.1597" stop-color="#fffc4d"/><stop offset="0.1639" stop-color="#fffb4d"/><stop offset="0.1681" stop-color="#fffa4d"/><stop offset="0.1723" stop-color="#fff94d"/><stop offset="0.1765" stop-color="#fff84d"/><stop offset="0.1807" stop-color="#fff74d"/><stop offset="0.1849" stop-color="#fff64d"/><stop offset="0.1891" stop-color="#fff64d"/><stop offset="0.1933" stop-color="#fff54d"/><stop offset="0.1975" stop-color="#fff44d"/><stop offset="0.2017" stop-color="#fff34d"/><stop offset="0.2059" stop-color="#fff14d"/><stop offset="0.2101" stop-color="#ffef4d"/><stop offset="0.2143" stop-color="#ffec4d"/><stop offset="0.2185" stop-color="#ffea4d"/><stop offset="0.2227" stop-color="#ffe84d"/><stop offset="0.2269" stop-color="#ffe64d"/><stop offset="0.2311" stop-color="#ffe34d"/><stop offset="0.2353" stop-color="#ffe14d"/><stop offset="0.2395" stop-color="#ffda4d"/><stop offset="0.2437" stop-color="#ffd44d"/><stop offset="0.2479" stop-color="#ffcd4d"/><stop offset="0.2521" stop-color="#ffc74d"/><stop offset="0.2563" stop-color="#ffc04d"/><stop offset="0.2605" stop-color="#ffba4d"/><stop offset="0.2647" stop-color="#ffb34d"/><stop offset="0.2689" stop-color="#ffac4d"/><stop offset="0.2731" stop-color="#ffa64d"/><stop offset="0.2773" stop-color="#ff9f4d"/><stop offset="0.2815" stop-color="#ff974d"/><stop offset="0.2857" stop-color="#ff8e4d"/><stop offset="0.2899" stop-color="#ff854d"/><stop offset="0.2941" stop-color="#ff7d4d"/><stop offset="0.2983" stop-color="#ff744d"/><stop offset="0.3025" stop-color="#ff6a4d"/><stop offset="0.3067" stop-color="#ff604d"/><stop offset="0.3109" stop-color="#ff564d"/><stop offset="0.3151" stop-color="#ff4d4d"/><stop offset="0.3193" stop-color="#f94d4d"/><stop offset="0.3235" stop-color="#f34d4d"/><stop offset="0.3277" stop-color="#ee4d4d"/><stop offset="0.3319" stop-color="#e84d4d"/><stop offset="0.3361" stop-color="#e34d4d"/><stop offset="0.3403" stop-color="#dd4d4d"/><stop offset="0.3445" stop-color="#d54d4d"/><stop offset="0.3487" stop-color="#cd4d4d"/><stop offset="0.3529" stop-color="#c54d4d"/><stop offset="0.3571" stop-color="#bc4d4d"/><stop offset="0.3613" stop-color="#ad4d4d"/><stop offset="0.3655" stop-color="#9f4d4d"/><stop offset="0.3697" stop-color="#914d4d"/><stop offset="0.3739" stop-color="#734d4d"/><stop offset="0.3782" stop-color="#524d4d"/><stop offset="0.3824" stop-color="#4d4d4d"/><stop offset="0.3866" stop-color="#4d4d4d"/><stop offset="0.3908" stop-color="#4d4d4d"/><stop offset="0.3950" stop-color="#4d4d4d"/><stop offset="0.3992" stop-color="#4d4d4d"/><stop offset="0.4034" stop-color="#4d4d4d"/><stop offset="0.4076" stop-color="#4d4d4d"/><stop offset="0.4118" stop-color="#4d4d4d"/><stop offset="0.4160" stop-color="#4d4d4d"/><stop offset="0.4202" stop-color="#4d4d4d"/><stop offset="0.4244" stop-color="#4d4d4d"/><stop offset="0.4286" stop-color="#4d4d4d"/><stop offset="0.4328" stop-color="#4d4d4d"/><stop offset="0.4370" stop-color="#4d4d4d"/><stop offset="0.4412" stop-color="#4d4d4d"/><stop offset="0.4454" stop-color="#4d4d4d"/><stop offset="0.4496" stop-color="#4d4d4d"/><stop offset="0.4538" stop-color="#4d4d4d"/><stop offset="0.4580" stop-color="#4d4d4d"/><stop offset="0.4622" stop-color="#4d4d4d"/><stop offset="0.4664" stop-color="#4d4d4d"/><stop offset="0.4706" stop-color="#4d4d4d"/><stop offset="0.4748" stop-color="#4d4d4d"/><stop offset="0.4790" stop-color="#4d4d4d"/><stop offset="0.4832" stop-color="#4d4d4d"/><stop offset="0.4874" stop-color="#4d4d4d"/><stop offset="0.4916" stop-color="#4d4d4d"/><stop offset="0.4958" stop-color="#4d4d4d"/><stop offset="0.5000" stop-color="#4d4d4d"/><stop offset="0.5042" stop-color="#4d4d4d"/><stop offset="0.5084" stop-color="#4d4d4d"/><stop offset="0.5126" stop-color="#4d4d4d"/><stop offset="0.5168" stop-color="#4d4d4d"/><stop offset="0.5210" stop-color="#4d4d4d"/><stop offset="0.5252" stop-color="#4d4d4d"/><stop offset="0.5294" stop-color="#4d4d4d"/><stop offset="0.5336" stop-color="#4d4d4d"/><stop offset="0.5378" stop-color="#4d4d4d"/><stop offset="0.5420" stop-color="#4d4d4d"/><stop offset="0.5462" stop-color="#4d4d4d"/><stop offset="0.5504" stop-color="#4d4d4d"/><stop offset="0.5546" stop-color="#4d4d4d"/><stop offset="0.5588" stop-color="#4d4d4d"/><stop offset="0.5630" stop-color="#4d4d4d"/><stop offset="0.5672" stop-color="#4d4d4d"/><stop offset="0.5714" stop-color="#4d4d4d"/><stop offset="0.5756" stop-color="#4d4d4d"/><stop offset="0.5798" stop-color="#4d4d4d"/><stop offset="0.5840" stop-color="#4d4d4d"/><stop offset="0.5882" stop-color="#4d4d4d"/><stop offset="0.5924" stop-color="#4d4d4d"/><stop offset="0.5966" stop-color="#4d4d4d"/><stop offset="0.6008" stop-color="#4d4d4d"/><stop offset="0.6050" stop-color="#4d4d4d"/><stop offset="0.6092" stop-color="#4d4d4d"/><stop offset="0.6134" stop-color="#4d4d4d"/><stop offset="0.6176" stop-color="#4d4d4d"/><stop offset="0.6218" stop-color="#4d4d4d"/><stop offset="0.6261" stop-color="#4d4d4d"/><stop offset="0.6303" stop-color="#4d4d4d"/><stop offset="0.6345" stop-color="#4d4d4d"/><stop offset="0.6387" stop-color="#4d4d4d"/><stop offset="0.6429" stop-color="#4d4d4d"/><stop offset="0.6471" stop-color="#4d4d4d"/><stop offset="0.6513" stop-color="#4d4d4d"/><stop offset="0.6555" stop-color="#4d4d4d"/><stop offset="0.6597" stop-color="#4d4d4d"/><stop offset="0.6639" stop-color="#4d4d4d"/><stop offset="0.6681" stop-color="#4d4d4d"/><stop offset="0.6723" stop-color="#4d4d4d"/><stop offset="0.6765" stop-color="#4d4d4d"/><stop offset="0.6807" stop-color="#4d4d4d"/><stop offset="0.6849" stop-color="#4d4d4d"/><stop offset="0.6891" stop-color="#4d4d4d"/><stop offset="0.6933" stop-color="#4d4d4d"/><stop offset="0.6975" stop-color="#4d4d4d"/><stop offset="0.7017" stop-color="#4d4d4d"/><stop offset="0.7059" stop-color="#4d4d4d"/><stop offset="0.7101" stop-color="#4d4d4d"/><stop offset="0.7143" stop-color="#4d4d4d"/><stop offset="0.7185" stop-color="#4d4d4d"/><stop offset="0.7227" stop-color="#4d4d4d"/><stop offset="0.7269" stop-color="#4d4d4d"/><stop offset="0.7311" stop-color="#4d4d4d"/><stop offset="0.7353" stop-color="#4d4d4d"/><stop offset="0.7395" stop-color="#4d4d4d"/><stop offset="0.7437" stop-color="#4d4d4d"/><stop offset="0.7479" stop-color="#4d4d4d"/><stop offset="0.7521" stop-color="#4d4d4d"/><stop offset="0.7563" stop-color="#4d4d4d"/><stop offset="0.7605" stop-color="#4d4d4d"/><stop offset="0.7647" stop-color="#4d4d4d"/><stop offset="0.7689" stop-color="#4d4d4d"/><stop offset="0.7731" stop-color="#4d4d4d"/><stop offset="0.7773" stop-color="#4d4d4d"/><stop offset="0.7815" stop-color="#4d4d4d"/><stop offset="0.7857" stop-color="#4d4d4d"/><stop offset="0.7899" stop-color="#4d4d4d"/><stop offset="0.7941" stop-color="#4d4d4d"/><stop offset="0.7983" stop-color="#4d4d4d"/><stop offset="0.8025" stop-color="#4d4d4d"/><stop offset="0.8067" stop-color="#4d4d4d"/><stop offset="0.8109" stop-color="#4d4d4d"/><stop offset="0.8151" stop-color="#4d4d4d"/><stop offset="0.8193" stop-color="#4d4d4d"/><stop offset="0.8235" stop-color="#4d4d4d"/><stop offset="0.8277" stop-color="#4d4d4d"/><stop offset="0.8319" stop-color="#4d4d4d"/><stop offset="0.8361" stop-color="#4d4d4d"/><stop offset="0.8403" stop-color="#4d4d4d"/><stop offset="0.8445" stop-color="#4d4d4d"/><stop offset="0.8487" stop-color="#4d4d4d"/><stop offset="0.8529" stop-color="#4d4d4d"/><stop offset="0.8571" stop-color="#4d4d4d"/><stop offset="0.8613" stop-color="#4d4d4d"/><stop offset="0.8655" stop-color="#4d4d4d"/><stop offset="0.8697" stop-color="#4d4d4d"/><stop offset="0.8739" stop-color="#4d4d4d"/><stop offset="0.8782" stop-color="#4d4d4d"/><stop offset="0.8824" stop-color="#4d4d4d"/><stop offset="0.8866" stop-color="#4d4d4d"/><stop offset="0.8908" stop-color="#4d4d4d"/><stop offset="0.8950" stop-color="#4d4d4d"/><stop offset="0.8992" stop-color="#4d4d4d"/><stop offset="0.9034" stop-color="#4d4d4d"/><stop offset="0.9076" stop-color="#4d4d4d"/><stop offset="0.9118" stop-color="#4d4d4d"/><stop offset="0.9160" stop-color="#4d4d4d"/><stop offset="0.9202" stop-color="#4d4d4d"/><stop offset="0.9244" stop-color="#4d4d4d"/><stop offset="0.9286" stop-color="#4d4d4d"/><stop offset="0.9328" stop-color="#4d4d4d"/><stop offset="0.9370" stop-color="#4d4d4d"/><stop offset="0.9412" stop-color="#4d4d4d"/><stop offset="0.9454" stop-color="#4d4d4d"/><stop offset="0.9496" stop-color="#4d4d4d"/><stop offset="0.9538" stop-color="#4d4d4d"/><stop offset="0.9580" stop-color="#4d4d4d"/><stop offset="0.9622" stop-color="#4d4d4d"/><stop offset="0.9664" stop-color="#4d4d4d"/><stop offset="0.9706" stop-color="#4d4d4d"/><stop offset="0.9748" stop-color="#4d4d4d"/><stop offset="0.9790" stop-color="#4d4d4d"/><stop offset="0.9832" stop-color="#4d4d4d"/><stop offset="0.9874" stop-color="#4d4d4d"/><stop offset="0.9916" stop-color="#4d4d4d"/><stop offset="0.9958" stop-color="#4d4d4d"/><stop offset="1.0000" stop-color="#4d4d4d"/></linearGradient>
<linearGradient id="spk" x1="0" y1="0" x2="1" y2="0"><stop offset="0" stop-color="#6e4a4e"/><stop offset="1" stop-color="#584a4c"/></linearGradient>
</defs>
<rect x="0" y="0" width="685" height="1049" fill="#ffffff"/>
<rect x="48" y="37.20" width="29" height="69.40" fill="#ffc000"/>
<rect x="77" y="37.20" width="200" height="69.40" fill="#7f7f7f"/>
<rect x="277" y="37.20" width="39.5" height="69.40" fill="#616161"/>
<line x1="77.00" y1="32.30" x2="276.50" y2="32.30" stroke="#222" stroke-width="1.2"/>
<line x1="77.00" y1="30.00" x2="77.00" y2="34.80" stroke="#222" stroke-width="1.3"/>
<line x1="276.50" y1="30.00" x2="276.50" y2="34.80" stroke="#222" stroke-width="1.3"/>
<text x="181.60" y="29.00" font-size="12.00" fill="#1a1a1a" text-anchor="middle" font-weight="normal" >500 nm</text>
<text x="62.50" y="68.70" font-size="12.00" fill="#1a1a1a" text-anchor="middle" font-weight="normal" >Ti/</text>
<text x="62.20" y="83.30" font-size="12.00" fill="#1a1a1a" text-anchor="middle" font-weight="normal" >Au</text>
<text x="181.50" y="77.00" font-size="12.00" fill="#f2f2f2" text-anchor="middle" font-weight="normal" >p-InAs</text>
<text x="295.80" y="71.50" font-size="12.00" fill="#f2f2f2" text-anchor="middle" font-weight="normal" >GaAs</text>
<text x="80.70" y="9.50" font-size="14.00" fill="#000" text-anchor="start" font-weight="bold" >a</text>
<rect x="409" y="37.20" width="29" height="69.40" fill="#ffc000"/>
<rect x="438" y="37.20" width="82" height="69.40" fill="#a5a5a5"/>
<rect x="520" y="37.20" width="117" height="69.40" fill="#7f7f7f"/>
<rect x="637" y="37.20" width="39.6" height="69.40" fill="#616161"/>
<line x1="437.90" y1="32.40" x2="636.50" y2="32.40" stroke="#222" stroke-width="1.2"/>
<line x1="437.90" y1="30.10" x2="437.90" y2="34.90" stroke="#222" stroke-width="1.3"/>
<line x1="636.50" y1="30.10" x2="636.50" y2="34.90" stroke="#222" stroke-width="1.3"/>
<line x1="519.7" y1="30.1" x2="519.7" y2="34.9" stroke="#222" stroke-width="1.3"/>
<text x="478.70" y="28.90" font-size="12.00" fill="#1a1a1a" text-anchor="middle" font-weight="normal" >h</text>
<text x="577.10" y="28.90" font-size="12.00" fill="#1a1a1a" text-anchor="middle" font-weight="normal" >500 nm</text>
<text x="423.50" y="68.70" font-size="12.00" fill="#1a1a1a" text-anchor="middle" font-weight="normal" >Ti/</text>
<text x="423.20" y="83.30" font-size="12.00" fill="#1a1a1a" text-anchor="middle" font-weight="normal" >Au</text>
<text x="475.80" y="67.50" font-size="12.00" fill="#f2f2f2" text-anchor="middle" font-weight="normal" >Undoped</text>
<text x="476.00" y="82.00" font-size="12.00" fill="#f2f2f2" text-anchor="middle" font-weight="normal" >InAs</text>
<text x="578.00" y="68.00" font-size="12.00" fill="#f2f2f2" text-anchor="middle" font-weight="normal" >InAs</text>
<text x="578.00" y="82.40" font-size="12.00" fill="#f2f2f2" text-anchor="middle" font-weight="normal" >(p = 10<tspan font-size="8" dy="-4">19</tspan><tspan dy="4"> cm</tspan><tspan font-size="8" dy="-4">-3</tspan><tspan dy="4">)</tspan></text>
<text x="657.20" y="71.50" font-size="12.00" fill="#f2f2f2" text-anchor="middle" font-weight="normal" >GaAs</text>
<text x="440.50" y="9.50" font-size="14.00" fill="#000" text-anchor="start" font-weight="bold" >c</text>
<line x1="76.60" y1="109.00" x2="76.60" y2="599.50" stroke="#333" stroke-width="1.3" stroke-dasharray="3.8 3.25"/>
<line x1="316.40" y1="80.80" x2="316.40" y2="599.50" stroke="#333" stroke-width="1.3" stroke-dasharray="3.8 3.25"/>
<line x1="439.00" y1="109.00" x2="439.00" y2="599.50" stroke="#555" stroke-width="1.3" stroke-dasharray="3.8 3.25"/>
<line x1="676.30" y1="109.00" x2="676.30" y2="599.50" stroke="#333" stroke-width="1.3" stroke-dasharray="3.8 3.25"/>
<rect x="76.00" y="122.10" width="240.30" height="145.70" fill="url(#g1)"/>
<path d="M76.00 126.40h2.2 M76.00 142.70h2.2 M76.00 159.00h2.2 M76.00 175.30h2.2 M76.00 191.60h2.2 M76.00 207.90h2.2 M76.00 224.20h2.2 M76.00 240.50h2.2 M76.00 256.80h2.2 M118.20 267.80v-2.2 M160.40 267.80v-2.2 M202.60 267.80v-2.2 M244.80 267.80v-2.2 M287.00 267.80v-2.2" stroke="#000" stroke-opacity="0.15" stroke-width="0.9" fill="none"/>
<rect x="315.90" y="122.10" width="1.3" height="145.70" fill="#d6d6d6"/>
<g fill="none" stroke="#f2f2f2" stroke-width="1.55" stroke-linejoin="round">
<path d="M76.00 237.50 L77.00 237.47 L78.00 237.44 L79.00 237.41 L80.00 237.38 L81.00 237.35 L82.00 237.32 L83.00 237.29 L84.00 237.26 L85.00 237.23 L86.00 237.20 L87.00 237.17 L88.00 237.14 L89.00 237.11 L90.00 237.07 L91.00 237.04 L92.00 237.00 L93.00 236.96 L94.00 236.92 L95.00 236.88 L96.00 236.83 L97.00 236.78 L98.00 236.73 L99.00 236.69 L100.00 236.63 L101.00 236.58 L102.00 236.53 L103.00 236.48 L104.00 236.42 L105.00 236.37 L106.00 236.31 L107.00 236.26 L108.00 236.20 L109.00 236.14 L110.00 236.09 L111.00 236.03 L112.00 235.98 L113.00 235.92 L114.00 235.86 L115.00 235.81 L116.00 235.75 L117.00 235.69 L118.00 235.62 L119.00 235.56 L120.00 235.49 L121.00 235.42 L122.00 235.35 L123.00 235.28 L124.00 235.20 L125.00 235.12 L126.00 235.03 L127.00 234.94 L128.00 234.85 L129.00 234.75 L130.00 234.65 L131.00 234.55 L132.00 234.44 L133.00 234.33 L134.00 234.22 L135.00 234.10 L136.00 233.99 L137.00 233.87 L138.00 233.75 L139.00 233.62 L140.00 233.50 L141.00 233.37 L142.00 233.24 L143.00 233.10 L144.00 232.96 L145.00 232.81 L146.00 232.66 L147.00 232.51 L148.00 232.36 L149.00 232.20 L150.00 232.04 L151.00 231.88 L152.00 231.73 L153.00 231.57 L154.00 231.41 L155.00 231.25 L156.00 231.10 L157.00 230.95 L158.00 230.79 L159.00 230.64 L160.00 230.48 L161.00 230.33 L162.00 230.17 L163.00 230.02 L164.00 229.86 L165.00 229.71 L166.00 229.55 L167.00 229.39 L168.00 229.24 L169.00 229.08 L170.00 228.92 L171.00 228.76 L172.00 228.60 L173.00 228.44 L174.00 228.28 L175.00 228.12 L176.00 227.96 L177.00 227.79 L178.00 227.63 L179.00 227.47 L180.00 227.30 L181.03 227.13 L182.06 226.96 L183.09 226.79 L184.12 226.62 L185.15 226.45 L186.18 226.28 L187.21 226.11 L188.24 225.94 L189.26 225.77 L190.29 225.60 L191.32 225.42 L192.35 225.24 L193.38 225.06 L194.41 224.88 L195.44 224.69 L196.47 224.50 L197.50 224.30 L198.50 224.10 L199.50 223.90 L200.50 223.69 L201.50 223.48 L202.50 223.26 L203.50 223.04 L204.50 222.82 L205.50 222.59 L206.50 222.37 L207.50 222.14 L208.50 221.92 L209.50 221.70 L210.56 221.47 L211.61 221.23 L212.67 221.00 L213.72 220.76 L214.78 220.53 L215.83 220.29 L216.89 220.06 L217.94 219.83 L219.00 219.60 L220.00 219.39 L221.00 219.18 L222.00 218.97 L223.00 218.76 L224.00 218.56 L225.00 218.35 L226.00 218.15 L227.00 217.94 L228.00 217.73 L229.00 217.52 L230.00 217.30 L231.10 217.06 L232.20 216.82 L233.30 216.57 L234.40 216.32 L235.50 216.07 L236.60 215.82 L237.70 215.56 L238.80 215.30 L239.89 215.03 L240.98 214.76 L242.06 214.48 L243.15 214.19 L244.24 213.91 L245.32 213.63 L246.41 213.36 L247.50 213.10 L248.60 212.84 L249.70 212.59 L250.80 212.34 L251.90 212.10 L253.00 211.86 L254.10 211.63 L255.20 211.41 L256.30 211.20 L257.39 211.00 L258.48 210.80 L259.56 210.61 L260.65 210.43 L261.74 210.25 L262.82 210.09 L263.91 209.94 L265.00 209.80 L266.10 209.67 L267.20 209.55 L268.30 209.43 L269.40 209.31 L270.50 209.21 L271.60 209.12 L272.70 209.05 L273.80 209.00 L274.89 208.96 L275.98 208.92 L277.06 208.89 L278.15 208.86 L279.24 208.84 L280.32 208.82 L281.41 208.80 L282.50 208.80 L283.52 208.80 L284.55 208.80 L285.57 208.80 L286.60 208.80 L287.62 208.80 L288.64 208.80 L289.67 208.80 L290.69 208.80 L291.71 208.80 L292.74 208.80 L293.76 208.80 L294.79 208.80 L295.81 208.80 L296.83 208.80 L297.86 208.80 L298.88 208.80 L299.90 208.80 L300.93 208.80 L301.95 208.80 L302.98 208.80 L304.00 208.80 V142.90 L316.30 142.90"/>
<path d="M76.00 266.70 L77.00 266.67 L78.00 266.64 L79.00 266.61 L80.00 266.58 L81.00 266.55 L82.00 266.52 L83.00 266.49 L84.00 266.46 L85.00 266.43 L86.00 266.40 L87.00 266.37 L88.00 266.34 L89.00 266.31 L90.00 266.27 L91.00 266.24 L92.00 266.20 L93.00 266.16 L94.00 266.12 L95.00 266.08 L96.00 266.03 L97.00 265.98 L98.00 265.93 L99.00 265.89 L100.00 265.83 L101.00 265.78 L102.00 265.73 L103.00 265.68 L104.00 265.62 L105.00 265.57 L106.00 265.51 L107.00 265.46 L108.00 265.40 L109.00 265.34 L110.00 265.29 L111.00 265.23 L112.00 265.18 L113.00 265.12 L114.00 265.06 L115.00 265.01 L116.00 264.95 L117.00 264.89 L118.00 264.82 L119.00 264.76 L120.00 264.69 L121.00 264.62 L122.00 264.55 L123.00 264.48 L124.00 264.40 L125.00 264.32 L126.00 264.23 L127.00 264.14 L128.00 264.05 L129.00 263.95 L130.00 263.85 L131.00 263.75 L132.00 263.64 L133.00 263.53 L134.00 263.42 L135.00 263.30 L136.00 263.19 L137.00 263.07 L138.00 262.95 L139.00 262.82 L140.00 262.70 L141.00 262.57 L142.00 262.44 L143.00 262.30 L144.00 262.16 L145.00 262.01 L146.00 261.86 L147.00 261.71 L148.00 261.56 L149.00 261.40 L150.00 261.24 L151.00 261.08 L152.00 260.93 L153.00 260.77 L154.00 260.61 L155.00 260.45 L156.00 260.30 L157.00 260.15 L158.00 259.99 L159.00 259.84 L160.00 259.68 L161.00 259.53 L162.00 259.37 L163.00 259.22 L164.00 259.06 L165.00 258.91 L166.00 258.75 L167.00 258.59 L168.00 258.44 L169.00 258.28 L170.00 258.12 L171.00 257.96 L172.00 257.80 L173.00 257.64 L174.00 257.48 L175.00 257.32 L176.00 257.16 L177.00 256.99 L178.00 256.83 L179.00 256.67 L180.00 256.50 L181.03 256.33 L182.06 256.16 L183.09 255.99 L184.12 255.82 L185.15 255.65 L186.18 255.48 L187.21 255.31 L188.24 255.14 L189.26 254.97 L190.29 254.80 L191.32 254.62 L192.35 254.44 L193.38 254.26 L194.41 254.08 L195.44 253.89 L196.47 253.70 L197.50 253.50 L198.50 253.30 L199.50 253.10 L200.50 252.89 L201.50 252.68 L202.50 252.46 L203.50 252.24 L204.50 252.02 L205.50 251.79 L206.50 251.57 L207.50 251.34 L208.50 251.12 L209.50 250.90 L210.56 250.67 L211.61 250.43 L212.67 250.20 L213.72 249.96 L214.78 249.73 L215.83 249.49 L216.89 249.26 L217.94 249.03 L219.00 248.80 L220.00 248.59 L221.00 248.38 L222.00 248.17 L223.00 247.96 L224.00 247.76 L225.00 247.55 L226.00 247.35 L227.00 247.14 L228.00 246.93 L229.00 246.72 L230.00 246.50 L231.10 246.26 L232.20 246.02 L233.30 245.77 L234.40 245.52 L235.50 245.27 L236.60 245.02 L237.70 244.76 L238.80 244.50 L239.89 244.23 L240.98 243.96 L242.06 243.68 L243.15 243.39 L244.24 243.11 L245.32 242.83 L246.41 242.56 L247.50 242.30 L248.60 242.04 L249.70 241.79 L250.80 241.54 L251.90 241.30 L253.00 241.06 L254.10 240.83 L255.20 240.61 L256.30 240.40 L257.39 240.20 L258.48 240.00 L259.56 239.81 L260.65 239.63 L261.74 239.45 L262.82 239.29 L263.91 239.14 L265.00 239.00 L266.10 238.87 L267.20 238.75 L268.30 238.63 L269.40 238.51 L270.50 238.41 L271.60 238.32 L272.70 238.25 L273.80 238.20 L274.89 238.16 L275.98 238.12 L277.06 238.09 L278.15 238.06 L279.24 238.04 L280.32 238.02 L281.41 238.00 L282.50 238.00 L283.52 238.00 L284.55 238.00 L285.57 238.00 L286.60 238.00 L287.62 238.00 L288.64 238.00 L289.67 238.00 L290.69 238.00 L291.71 238.00 L292.74 238.00 L293.76 238.00 L294.79 238.00 L295.81 238.00 L296.83 238.00 L297.86 238.00 L298.88 238.00 L299.90 238.00 L300.93 238.00 L301.95 238.00 L302.98 238.00 L304.00 238.00 V258.70 L316.30 258.70"/>
</g>
<line x1="76.00" y1="224.50" x2="316.30" y2="224.50" stroke="#f2f2f2" stroke-width="1.1" stroke-dasharray="4.2 1.5 1.8 1.5"/>
<text x="289.50" y="200.80" font-size="10.60" fill="#f2f2f2" text-anchor="start" font-weight="normal" >E<tspan font-size="7.4" dy="2.0">C</tspan></text>
<text x="289.90" y="220.80" font-size="10.60" fill="#f2f2f2" text-anchor="start" font-weight="normal" >E<tspan font-size="7.4" dy="2.0">F</tspan></text>
<text x="287.10" y="247.00" font-size="10.60" fill="#f2f2f2" text-anchor="start" font-weight="normal" >E<tspan font-size="7.4" dy="2.0">V</tspan></text>
<text x="170.50" y="137.05" font-size="11.60" fill="#f2f2f2" text-anchor="start" font-weight="normal" >p = 10<tspan font-size="7.6" dy="-4.2">16</tspan><tspan dy="4.2"> cm</tspan><tspan font-size="7.6" dy="-4.2">-3</tspan></text>
<rect x="76.00" y="279.30" width="240.30" height="145.50" fill="url(#g2)"/>
<path d="M76.00 283.60h2.2 M76.00 299.90h2.2 M76.00 316.20h2.2 M76.00 332.50h2.2 M76.00 348.80h2.2 M76.00 365.10h2.2 M76.00 381.40h2.2 M76.00 397.70h2.2 M76.00 414.00h2.2 M118.20 424.80v-2.2 M160.40 424.80v-2.2 M202.60 424.80v-2.2 M244.80 424.80v-2.2 M287.00 424.80v-2.2" stroke="#000" stroke-opacity="0.15" stroke-width="0.9" fill="none"/>
<rect x="315.90" y="279.30" width="1.3" height="145.50" fill="#d6d6d6"/>
<g fill="none" stroke="#f2f2f2" stroke-width="1.55" stroke-linejoin="round">
<path d="M76.00 394.40 L77.01 394.35 L78.02 394.30 L79.03 394.26 L80.05 394.21 L81.06 394.16 L82.07 394.12 L83.08 394.07 L84.09 394.03 L85.10 393.98 L86.12 393.94 L87.13 393.90 L88.14 393.85 L89.15 393.80 L90.16 393.76 L91.17 393.71 L92.18 393.66 L93.20 393.61 L94.21 393.56 L95.22 393.51 L96.23 393.46 L97.24 393.40 L98.25 393.35 L99.27 393.29 L100.28 393.23 L101.29 393.17 L102.30 393.10 L103.31 393.03 L104.32 392.96 L105.32 392.89 L106.33 392.81 L107.34 392.73 L108.35 392.65 L109.35 392.56 L110.36 392.47 L111.37 392.38 L112.38 392.29 L113.38 392.19 L114.39 392.10 L115.40 392.00 L116.41 391.89 L117.42 391.79 L118.42 391.68 L119.43 391.57 L120.44 391.46 L121.45 391.35 L122.45 391.23 L123.46 391.11 L124.47 390.99 L125.48 390.87 L126.48 390.75 L127.49 390.63 L128.50 390.50 L129.51 390.37 L130.52 390.24 L131.53 390.10 L132.55 389.95 L133.56 389.80 L134.57 389.65 L135.58 389.49 L136.59 389.33 L137.60 389.17 L138.62 389.00 L139.63 388.83 L140.64 388.66 L141.65 388.48 L142.66 388.30 L143.67 388.12 L144.68 387.93 L145.70 387.74 L146.71 387.56 L147.72 387.36 L148.73 387.17 L149.74 386.98 L150.75 386.79 L151.77 386.59 L152.78 386.39 L153.79 386.20 L154.80 386.00 L155.80 385.80 L156.80 385.61 L157.80 385.41 L158.80 385.20 L159.80 385.00 L160.80 384.79 L161.80 384.58 L162.80 384.37 L163.80 384.16 L164.80 383.94 L165.80 383.72 L166.80 383.49 L167.80 383.26 L168.80 383.03 L169.80 382.80 L170.80 382.56 L171.80 382.32 L172.80 382.07 L173.80 381.82 L174.80 381.56 L175.80 381.30 L176.82 381.03 L177.84 380.75 L178.87 380.46 L179.89 380.17 L180.91 379.87 L181.93 379.56 L182.96 379.25 L183.98 378.93 L185.00 378.61 L186.02 378.28 L187.04 377.95 L188.07 377.61 L189.09 377.27 L190.11 376.92 L191.13 376.57 L192.16 376.22 L193.18 375.86 L194.20 375.50 L195.22 375.13 L196.24 374.74 L197.27 374.34 L198.29 373.93 L199.31 373.51 L200.33 373.08 L201.36 372.65 L202.38 372.21 L203.40 371.77 L204.42 371.33 L205.44 370.90 L206.47 370.47 L207.49 370.04 L208.51 369.63 L209.53 369.22 L210.56 368.83 L211.58 368.46 L212.60 368.10 L213.65 367.74 L214.71 367.38 L215.76 367.02 L216.81 366.66 L217.87 366.31 L218.92 365.96 L219.97 365.62 L221.03 365.29 L222.08 364.97 L223.13 364.66 L224.19 364.37 L225.24 364.10 L226.29 363.85 L227.35 363.61 L228.40 363.40 L229.45 363.20 L230.51 363.00 L231.56 362.80 L232.61 362.61 L233.67 362.42 L234.72 362.24 L235.77 362.07 L236.83 361.90 L237.88 361.75 L238.93 361.62 L239.99 361.50 L241.04 361.39 L242.09 361.31 L243.15 361.24 L244.20 361.20 L245.27 361.17 L246.35 361.14 L247.42 361.11 L248.49 361.09 L249.56 361.07 L250.64 361.05 L251.71 361.03 L252.78 361.02 L253.85 361.01 L254.93 361.00 L256.00 361.00 L257.00 361.00 L258.00 361.00 L259.00 361.00 L260.00 361.00 L261.00 361.00 L262.00 361.00 L263.00 361.00 L264.00 361.00 L265.00 361.00 L266.00 361.00 L267.00 361.00 L268.00 361.00 L269.00 361.00 L270.00 361.00 L271.00 361.00 L272.00 361.00 L273.00 361.00 L274.00 361.00 L275.00 361.00 L276.00 361.00 L277.00 361.00 L278.00 361.00 L279.00 361.00 L280.00 361.00 L281.00 361.00 L282.00 361.00 L283.00 361.00 L284.00 361.00 L285.00 361.00 L286.00 361.00 L287.00 361.00 L288.00 361.00 L289.00 361.00 L290.00 361.00 L291.00 361.00 L292.00 361.00 L293.00 361.00 L294.00 361.00 L295.00 361.00 L296.00 361.00 L297.00 361.00 L298.00 361.00 L299.00 361.00 L300.00 361.00 L301.00 361.00 L302.00 361.00 L303.00 361.00 L304.00 361.00 V294.80 L316.30 294.80"/>
<path d="M76.00 423.90 L77.01 423.85 L78.02 423.80 L79.03 423.76 L80.05 423.71 L81.06 423.66 L82.07 423.62 L83.08 423.57 L84.09 423.53 L85.10 423.48 L86.12 423.44 L87.13 423.40 L88.14 423.35 L89.15 423.30 L90.16 423.26 L91.17 423.21 L92.18 423.16 L93.20 423.11 L94.21 423.06 L95.22 423.01 L96.23 422.96 L97.24 422.90 L98.25 422.85 L99.27 422.79 L100.28 422.73 L101.29 422.67 L102.30 422.60 L103.31 422.53 L104.32 422.46 L105.32 422.39 L106.33 422.31 L107.34 422.23 L108.35 422.15 L109.35 422.06 L110.36 421.97 L111.37 421.88 L112.38 421.79 L113.38 421.69 L114.39 421.60 L115.40 421.50 L116.41 421.39 L117.42 421.29 L118.42 421.18 L119.43 421.07 L120.44 420.96 L121.45 420.85 L122.45 420.73 L123.46 420.61 L124.47 420.49 L125.48 420.37 L126.48 420.25 L127.49 420.13 L128.50 420.00 L129.51 419.87 L130.52 419.74 L131.53 419.60 L132.55 419.45 L133.56 419.30 L134.57 419.15 L135.58 418.99 L136.59 418.83 L137.60 418.67 L138.62 418.50 L139.63 418.33 L140.64 418.16 L141.65 417.98 L142.66 417.80 L143.67 417.62 L144.68 417.43 L145.70 417.24 L146.71 417.06 L147.72 416.86 L148.73 416.67 L149.74 416.48 L150.75 416.29 L151.77 416.09 L152.78 415.89 L153.79 415.70 L154.80 415.50 L155.80 415.30 L156.80 415.11 L157.80 414.91 L158.80 414.70 L159.80 414.50 L160.80 414.29 L161.80 414.08 L162.80 413.87 L163.80 413.66 L164.80 413.44 L165.80 413.22 L166.80 412.99 L167.80 412.76 L168.80 412.53 L169.80 412.30 L170.80 412.06 L171.80 411.82 L172.80 411.57 L173.80 411.32 L174.80 411.06 L175.80 410.80 L176.82 410.53 L177.84 410.25 L178.87 409.96 L179.89 409.67 L180.91 409.37 L181.93 409.06 L182.96 408.75 L183.98 408.43 L185.00 408.11 L186.02 407.78 L187.04 407.45 L188.07 407.11 L189.09 406.77 L190.11 406.42 L191.13 406.07 L192.16 405.72 L193.18 405.36 L194.20 405.00 L195.22 404.63 L196.24 404.24 L197.27 403.84 L198.29 403.43 L199.31 403.01 L200.33 402.58 L201.36 402.15 L202.38 401.71 L203.40 401.27 L204.42 400.83 L205.44 400.40 L206.47 399.97 L207.49 399.54 L208.51 399.13 L209.53 398.72 L210.56 398.33 L211.58 397.96 L212.60 397.60 L213.65 397.24 L214.71 396.88 L215.76 396.52 L216.81 396.16 L217.87 395.81 L218.92 395.46 L219.97 395.12 L221.03 394.79 L222.08 394.47 L223.13 394.16 L224.19 393.87 L225.24 393.60 L226.29 393.35 L227.35 393.11 L228.40 392.90 L229.45 392.70 L230.51 392.50 L231.56 392.30 L232.61 392.11 L233.67 391.92 L234.72 391.74 L235.77 391.57 L236.83 391.40 L237.88 391.25 L238.93 391.12 L239.99 391.00 L241.04 390.89 L242.09 390.81 L243.15 390.74 L244.20 390.70 L245.27 390.67 L246.35 390.64 L247.42 390.61 L248.49 390.59 L249.56 390.57 L250.64 390.55 L251.71 390.53 L252.78 390.52 L253.85 390.51 L254.93 390.50 L256.00 390.50 L257.00 390.50 L258.00 390.50 L259.00 390.50 L260.00 390.50 L261.00 390.50 L262.00 390.50 L263.00 390.50 L264.00 390.50 L265.00 390.50 L266.00 390.50 L267.00 390.50 L268.00 390.50 L269.00 390.50 L270.00 390.50 L271.00 390.50 L272.00 390.50 L273.00 390.50 L274.00 390.50 L275.00 390.50 L276.00 390.50 L277.00 390.50 L278.00 390.50 L279.00 390.50 L280.00 390.50 L281.00 390.50 L282.00 390.50 L283.00 390.50 L284.00 390.50 L285.00 390.50 L286.00 390.50 L287.00 390.50 L288.00 390.50 L289.00 390.50 L290.00 390.50 L291.00 390.50 L292.00 390.50 L293.00 390.50 L294.00 390.50 L295.00 390.50 L296.00 390.50 L297.00 390.50 L298.00 390.50 L299.00 390.50 L300.00 390.50 L301.00 390.50 L302.00 390.50 L303.00 390.50 L304.00 390.50 V411.20 L316.30 411.20"/>
</g>
<line x1="76.00" y1="381.50" x2="316.30" y2="381.50" stroke="#f2f2f2" stroke-width="1.1" stroke-dasharray="4.2 1.5 1.8 1.5"/>
<text x="286.50" y="355.10" font-size="10.60" fill="#f2f2f2" text-anchor="start" font-weight="normal" >E<tspan font-size="7.4" dy="2.0">C</tspan></text>
<text x="288.10" y="375.00" font-size="10.60" fill="#f2f2f2" text-anchor="start" font-weight="normal" >E<tspan font-size="7.4" dy="2.0">F</tspan></text>
<text x="286.50" y="399.10" font-size="10.60" fill="#f2f2f2" text-anchor="start" font-weight="normal" >E<tspan font-size="7.4" dy="2.0">V</tspan></text>
<text x="170.50" y="293.00" font-size="11.60" fill="#f2f2f2" text-anchor="start" font-weight="normal" >p = 10<tspan font-size="7.6" dy="-4.2">17</tspan><tspan dy="4.2"> cm</tspan><tspan font-size="7.6" dy="-4.2">-3</tspan></text>
<rect x="76.00" y="438.30" width="240.30" height="145.40" fill="url(#g3)"/>
<path d="M76.00 442.60h2.2 M76.00 458.90h2.2 M76.00 475.20h2.2 M76.00 491.50h2.2 M76.00 507.80h2.2 M76.00 524.10h2.2 M76.00 540.40h2.2 M76.00 556.70h2.2 M76.00 573.00h2.2 M118.20 583.70v-2.2 M160.40 583.70v-2.2 M202.60 583.70v-2.2 M244.80 583.70v-2.2 M287.00 583.70v-2.2" stroke="#000" stroke-opacity="0.15" stroke-width="0.9" fill="none"/>
<rect x="315.90" y="438.30" width="1.3" height="145.40" fill="#d6d6d6"/>
<g fill="none" stroke="#f2f2f2" stroke-width="1.55" stroke-linejoin="round">
<path d="M76.00 551.60 L77.04 551.50 L78.09 551.40 L79.13 551.30 L80.17 551.20 L81.21 551.11 L82.26 551.01 L83.30 550.92 L84.34 550.83 L85.39 550.73 L86.43 550.64 L87.47 550.54 L88.51 550.45 L89.56 550.35 L90.60 550.24 L91.64 550.14 L92.69 550.03 L93.73 549.91 L94.77 549.79 L95.81 549.67 L96.86 549.54 L97.90 549.40 L98.94 549.25 L99.99 549.10 L101.03 548.93 L102.07 548.76 L103.11 548.57 L104.16 548.38 L105.20 548.18 L106.24 547.98 L107.29 547.77 L108.33 547.55 L109.37 547.33 L110.41 547.10 L111.46 546.88 L112.50 546.64 L113.54 546.41 L114.59 546.17 L115.63 545.94 L116.67 545.70 L117.71 545.47 L118.76 545.23 L119.80 545.00 L120.83 544.77 L121.86 544.54 L122.89 544.31 L123.92 544.08 L124.95 543.85 L125.98 543.61 L127.01 543.37 L128.04 543.13 L129.06 542.88 L130.09 542.63 L131.12 542.37 L132.15 542.11 L133.18 541.84 L134.21 541.57 L135.24 541.29 L136.27 541.00 L137.30 540.70 L138.32 540.39 L139.34 540.08 L140.36 539.75 L141.38 539.40 L142.40 539.05 L143.42 538.69 L144.44 538.32 L145.46 537.95 L146.48 537.57 L147.50 537.18 L148.52 536.79 L149.54 536.39 L150.56 536.00 L151.58 535.60 L152.60 535.20 L153.63 534.80 L154.65 534.39 L155.68 533.97 L156.71 533.55 L157.73 533.13 L158.76 532.70 L159.79 532.26 L160.81 531.82 L161.84 531.37 L162.87 530.92 L163.89 530.47 L164.92 530.01 L165.95 529.54 L166.97 529.07 L168.00 528.60 L169.01 528.12 L170.02 527.61 L171.02 527.09 L172.03 526.55 L173.04 526.01 L174.05 525.46 L175.05 524.92 L176.06 524.38 L177.07 523.86 L178.08 523.35 L179.08 522.87 L180.09 522.42 L181.10 522.00 L182.11 521.60 L183.12 521.20 L184.12 520.81 L185.13 520.43 L186.14 520.05 L187.15 519.69 L188.15 519.34 L189.16 519.01 L190.17 518.70 L191.18 518.41 L192.18 518.15 L193.19 517.91 L194.20 517.70 L195.22 517.51 L196.23 517.32 L197.25 517.13 L198.26 516.95 L199.28 516.78 L200.29 516.62 L201.31 516.47 L202.32 516.34 L203.34 516.22 L204.35 516.11 L205.37 516.02 L206.38 515.95 L207.40 515.90 L208.43 515.86 L209.47 515.82 L210.50 515.79 L211.53 515.75 L212.57 515.72 L213.60 515.69 L214.63 515.66 L215.67 515.63 L216.70 515.61 L217.73 515.59 L218.77 515.57 L219.80 515.55 L220.83 515.54 L221.87 515.52 L222.90 515.51 L223.93 515.51 L224.97 515.50 L226.00 515.50 L227.00 515.50 L228.00 515.50 L229.00 515.50 L230.00 515.50 L231.00 515.50 L232.00 515.50 L233.00 515.50 L234.00 515.50 L235.00 515.50 L236.00 515.50 L237.00 515.50 L238.00 515.50 L239.00 515.50 L240.00 515.50 L241.00 515.50 L242.00 515.50 L243.00 515.50 L244.00 515.50 L245.00 515.50 L246.00 515.50 L247.00 515.50 L248.00 515.50 L249.00 515.50 L250.00 515.50 L251.00 515.50 L252.00 515.50 L253.00 515.50 L254.00 515.50 L255.00 515.50 L256.00 515.50 L257.00 515.50 L258.00 515.50 L259.00 515.50 L260.00 515.50 L261.00 515.50 L262.00 515.50 L263.00 515.50 L264.00 515.50 L265.00 515.50 L266.00 515.50 L267.00 515.50 L268.00 515.50 L269.00 515.50 L270.00 515.50 L271.00 515.50 L272.00 515.50 L273.00 515.50 L274.00 515.50 L275.00 515.50 L276.00 515.50 L277.00 515.50 L278.00 515.50 L279.00 515.50 L280.00 515.50 L281.00 515.50 L282.00 515.50 L283.00 515.50 L284.00 515.50 L285.00 515.50 L286.00 515.50 L287.00 515.50 L288.00 515.50 L289.00 515.50 L290.00 515.50 L291.00 515.50 L292.00 515.50 L293.00 515.50 L294.00 515.50 L295.00 515.50 L296.00 515.50 L297.00 515.50 L298.00 515.50 L299.00 515.50 L300.00 515.50 L301.00 515.50 L302.00 515.50 L303.00 515.50 L304.00 515.50 V449.20 L316.30 449.20"/>
<path d="M76.00 580.70 L77.04 580.60 L78.09 580.50 L79.13 580.40 L80.17 580.30 L81.21 580.21 L82.26 580.11 L83.30 580.02 L84.34 579.93 L85.39 579.83 L86.43 579.74 L87.47 579.64 L88.51 579.55 L89.56 579.45 L90.60 579.34 L91.64 579.24 L92.69 579.13 L93.73 579.01 L94.77 578.89 L95.81 578.77 L96.86 578.64 L97.90 578.50 L98.94 578.35 L99.99 578.20 L101.03 578.03 L102.07 577.86 L103.11 577.67 L104.16 577.48 L105.20 577.28 L106.24 577.08 L107.29 576.87 L108.33 576.65 L109.37 576.43 L110.41 576.20 L111.46 575.98 L112.50 575.74 L113.54 575.51 L114.59 575.27 L115.63 575.04 L116.67 574.80 L117.71 574.57 L118.76 574.33 L119.80 574.10 L120.83 573.87 L121.86 573.64 L122.89 573.41 L123.92 573.18 L124.95 572.95 L125.98 572.71 L127.01 572.47 L128.04 572.23 L129.06 571.98 L130.09 571.73 L131.12 571.47 L132.15 571.21 L133.18 570.94 L134.21 570.67 L135.24 570.39 L136.27 570.10 L137.30 569.80 L138.32 569.49 L139.34 569.18 L140.36 568.85 L141.38 568.50 L142.40 568.15 L143.42 567.79 L144.44 567.42 L145.46 567.05 L146.48 566.67 L147.50 566.28 L148.52 565.89 L149.54 565.49 L150.56 565.10 L151.58 564.70 L152.60 564.30 L153.63 563.90 L154.65 563.49 L155.68 563.07 L156.71 562.65 L157.73 562.23 L158.76 561.80 L159.79 561.36 L160.81 560.92 L161.84 560.47 L162.87 560.02 L163.89 559.57 L164.92 559.11 L165.95 558.64 L166.97 558.17 L168.00 557.70 L169.01 557.22 L170.02 556.71 L171.02 556.19 L172.03 555.65 L173.04 555.11 L174.05 554.56 L175.05 554.02 L176.06 553.48 L177.07 552.96 L178.08 552.45 L179.08 551.97 L180.09 551.52 L181.10 551.10 L182.11 550.70 L183.12 550.30 L184.12 549.91 L185.13 549.53 L186.14 549.15 L187.15 548.79 L188.15 548.44 L189.16 548.11 L190.17 547.80 L191.18 547.51 L192.18 547.25 L193.19 547.01 L194.20 546.80 L195.22 546.61 L196.23 546.42 L197.25 546.23 L198.26 546.05 L199.28 545.88 L200.29 545.72 L201.31 545.57 L202.32 545.44 L203.34 545.32 L204.35 545.21 L205.37 545.12 L206.38 545.05 L207.40 545.00 L208.43 544.96 L209.47 544.92 L210.50 544.89 L211.53 544.85 L212.57 544.82 L213.60 544.79 L214.63 544.76 L215.67 544.73 L216.70 544.71 L217.73 544.69 L218.77 544.67 L219.80 544.65 L220.83 544.64 L221.87 544.62 L222.90 544.61 L223.93 544.61 L224.97 544.60 L226.00 544.60 L227.00 544.60 L228.00 544.60 L229.00 544.60 L230.00 544.60 L231.00 544.60 L232.00 544.60 L233.00 544.60 L234.00 544.60 L235.00 544.60 L236.00 544.60 L237.00 544.60 L238.00 544.60 L239.00 544.60 L240.00 544.60 L241.00 544.60 L242.00 544.60 L243.00 544.60 L244.00 544.60 L245.00 544.60 L246.00 544.60 L247.00 544.60 L248.00 544.60 L249.00 544.60 L250.00 544.60 L251.00 544.60 L252.00 544.60 L253.00 544.60 L254.00 544.60 L255.00 544.60 L256.00 544.60 L257.00 544.60 L258.00 544.60 L259.00 544.60 L260.00 544.60 L261.00 544.60 L262.00 544.60 L263.00 544.60 L264.00 544.60 L265.00 544.60 L266.00 544.60 L267.00 544.60 L268.00 544.60 L269.00 544.60 L270.00 544.60 L271.00 544.60 L272.00 544.60 L273.00 544.60 L274.00 544.60 L275.00 544.60 L276.00 544.60 L277.00 544.60 L278.00 544.60 L279.00 544.60 L280.00 544.60 L281.00 544.60 L282.00 544.60 L283.00 544.60 L284.00 544.60 L285.00 544.60 L286.00 544.60 L287.00 544.60 L288.00 544.60 L289.00 544.60 L290.00 544.60 L291.00 544.60 L292.00 544.60 L293.00 544.60 L294.00 544.60 L295.00 544.60 L296.00 544.60 L297.00 544.60 L298.00 544.60 L299.00 544.60 L300.00 544.60 L301.00 544.60 L302.00 544.60 L303.00 544.60 L304.00 544.60 V566.00 L316.30 566.00"/>
</g>
<line x1="76.00" y1="540.50" x2="316.30" y2="540.50" stroke="#f2f2f2" stroke-width="1.1" stroke-dasharray="4.2 1.5 1.8 1.5"/>
<text x="290.00" y="508.00" font-size="10.60" fill="#f2f2f2" text-anchor="start" font-weight="normal" >E<tspan font-size="7.4" dy="2.0">C</tspan></text>
<text x="291.20" y="533.40" font-size="10.60" fill="#f2f2f2" text-anchor="start" font-weight="normal" >E<tspan font-size="7.4" dy="2.0">F</tspan></text>
<text x="290.20" y="557.80" font-size="10.60" fill="#f2f2f2" text-anchor="start" font-weight="normal" >E<tspan font-size="7.4" dy="2.0">V</tspan></text>
<text x="170.50" y="453.05" font-size="11.60" fill="#f2f2f2" text-anchor="start" font-weight="normal" >p = 10<tspan font-size="7.6" dy="-4.2">18</tspan><tspan dy="4.2"> cm</tspan><tspan font-size="7.6" dy="-4.2">-3</tspan></text>
<rect x="76.00" y="599.00" width="240.30" height="145.40" fill="url(#g4)"/>
<rect x="304.70" y="599.00" width="3.40" height="145.40" fill="url(#spk)"/>
<path d="M76.00 603.30h2.2 M76.00 619.60h2.2 M76.00 635.90h2.2 M76.00 652.20h2.2 M76.00 668.50h2.2 M76.00 684.80h2.2 M76.00 701.10h2.2 M76.00 717.40h2.2 M76.00 733.70h2.2 M118.20 744.40v-2.2 M160.40 744.40v-2.2 M202.60 744.40v-2.2 M244.80 744.40v-2.2 M287.00 744.40v-2.2" stroke="#000" stroke-opacity="0.15" stroke-width="0.9" fill="none"/>
<rect x="315.90" y="599.00" width="1.3" height="145.40" fill="#d6d6d6"/>
<g fill="none" stroke="#f2f2f2" stroke-width="1.55" stroke-linejoin="round">
<path d="M76.00 702.10 L77.00 701.65 L78.00 701.19 L79.00 700.73 L80.00 700.27 L81.00 699.82 L82.00 699.37 L83.00 698.93 L84.00 698.50 L85.01 698.08 L86.03 697.68 L87.04 697.28 L88.05 696.89 L89.06 696.51 L90.07 696.11 L91.09 695.71 L92.10 695.30 L93.10 694.89 L94.10 694.48 L95.10 694.08 L96.10 693.66 L97.10 693.23 L98.10 692.78 L99.10 692.31 L100.10 691.80 L101.10 691.24 L102.10 690.62 L103.10 689.95 L104.10 689.25 L105.10 688.54 L106.10 687.84 L107.10 687.15 L108.10 686.50 L109.10 685.87 L110.10 685.25 L111.10 684.63 L112.10 684.02 L113.10 683.42 L114.10 682.83 L115.10 682.26 L116.10 681.70 L117.13 681.13 L118.15 680.56 L119.18 679.99 L120.21 679.42 L121.24 678.87 L122.26 678.33 L123.29 677.81 L124.32 677.33 L125.35 676.87 L126.37 676.46 L127.40 676.10 L128.47 675.76 L129.53 675.44 L130.60 675.15 L131.67 674.87 L132.73 674.61 L133.80 674.36 L134.87 674.13 L135.93 673.91 L137.00 673.70 L138.01 673.50 L139.03 673.30 L140.04 673.11 L141.05 672.93 L142.06 672.76 L143.07 672.61 L144.09 672.49 L145.10 672.40 L146.12 672.33 L147.14 672.26 L148.15 672.20 L149.17 672.14 L150.19 672.09 L151.21 672.05 L152.23 672.00 L153.25 671.97 L154.26 671.94 L155.28 671.92 L156.30 671.90 L157.32 671.89 L158.35 671.87 L159.37 671.86 L160.40 671.85 L161.42 671.84 L162.44 671.83 L163.47 671.82 L164.49 671.81 L165.52 671.80 L166.54 671.79 L167.57 671.78 L168.59 671.77 L169.61 671.76 L170.64 671.75 L171.66 671.75 L172.69 671.74 L173.71 671.74 L174.73 671.73 L175.76 671.72 L176.78 671.72 L177.81 671.72 L178.83 671.71 L179.86 671.71 L180.88 671.71 L181.90 671.70 L182.93 671.70 L183.95 671.70 L184.98 671.70 L186.00 671.70 L187.00 671.70 L188.00 671.70 L189.00 671.70 L190.00 671.70 L191.00 671.70 L192.00 671.70 L193.00 671.70 L194.00 671.70 L195.00 671.70 L196.00 671.70 L197.00 671.70 L198.00 671.70 L199.00 671.70 L200.00 671.70 L201.00 671.70 L202.00 671.70 L203.00 671.70 L204.00 671.70 L205.00 671.70 L206.00 671.70 L207.00 671.70 L208.00 671.70 L209.00 671.70 L210.00 671.70 L211.00 671.70 L212.00 671.70 L213.00 671.70 L214.00 671.70 L215.00 671.70 L216.00 671.70 L217.00 671.70 L218.00 671.70 L219.00 671.70 L220.00 671.70 L221.00 671.70 L222.00 671.70 L223.00 671.70 L224.00 671.70 L225.00 671.70 L226.00 671.70 L227.00 671.70 L228.00 671.70 L229.00 671.70 L230.00 671.70 L231.00 671.70 L232.00 671.70 L233.00 671.70 L234.00 671.70 L235.00 671.70 L236.00 671.70 L237.00 671.70 L238.00 671.70 L239.00 671.70 L240.00 671.70 L241.00 671.70 L242.00 671.70 L243.00 671.70 L244.00 671.70 L245.00 671.70 L246.00 671.70 L247.00 671.70 L248.00 671.70 L249.00 671.70 L250.00 671.70 L251.00 671.70 L252.00 671.70 L253.00 671.70 L254.00 671.70 L255.00 671.70 L256.00 671.70 L257.00 671.70 L258.00 671.70 L259.00 671.70 L260.00 671.70 L261.00 671.70 L262.00 671.70 L263.00 671.70 L264.00 671.70 L265.00 671.70 L266.00 671.70 L267.00 671.70 L268.00 671.70 L269.00 671.70 L270.00 671.70 L271.00 671.70 L272.00 671.70 L273.00 671.70 L274.00 671.70 L275.00 671.70 L276.00 671.70 L277.00 671.70 L278.00 671.70 L279.00 671.70 L280.00 671.70 L281.00 671.70 L282.00 671.70 L283.00 671.70 L284.00 671.70 L285.00 671.70 L286.00 671.70 L287.00 671.70 L288.00 671.70 L289.00 671.70 L290.00 671.70 L291.00 671.70 L292.00 671.70 L293.00 671.70 L294.00 671.70 L295.00 671.70 L296.00 671.70 L297.00 671.70 L298.00 671.70 L299.00 671.70 L300.00 671.70 L301.00 671.70 L302.00 671.70 L303.00 671.70 L304.00 671.70 V604.30 L316.30 605.60"/>
<path d="M76.00 729.10 L77.00 728.64 L78.00 728.17 L79.00 727.71 L80.00 727.24 L81.00 726.78 L82.00 726.31 L83.00 725.86 L84.00 725.40 L85.01 724.94 L86.03 724.49 L87.04 724.05 L88.05 723.60 L89.06 723.15 L90.07 722.71 L91.09 722.26 L92.10 721.80 L93.10 721.35 L94.10 720.91 L95.10 720.48 L96.10 720.03 L97.10 719.58 L98.10 719.11 L99.10 718.62 L100.10 718.10 L101.10 717.54 L102.10 716.93 L103.10 716.29 L104.10 715.63 L105.10 714.96 L106.10 714.29 L107.10 713.63 L108.10 713.00 L109.10 712.38 L110.10 711.77 L111.10 711.16 L112.10 710.55 L113.10 709.95 L114.10 709.36 L115.10 708.78 L116.10 708.20 L117.13 707.61 L118.15 707.00 L119.18 706.39 L120.21 705.78 L121.24 705.17 L122.26 704.58 L123.29 704.02 L124.32 703.48 L125.35 702.97 L126.37 702.51 L127.40 702.10 L128.47 701.71 L129.53 701.33 L130.60 700.97 L131.67 700.63 L132.73 700.31 L133.80 700.02 L134.87 699.75 L135.93 699.51 L137.00 699.30 L138.01 699.12 L139.03 698.94 L140.04 698.78 L141.05 698.62 L142.06 698.49 L143.07 698.37 L144.09 698.27 L145.10 698.20 L146.12 698.14 L147.14 698.09 L148.15 698.03 L149.17 697.98 L150.19 697.94 L151.21 697.90 L152.23 697.87 L153.25 697.84 L154.26 697.82 L155.28 697.80 L156.30 697.80 L157.32 697.80 L158.35 697.80 L159.37 697.80 L160.40 697.80 L161.42 697.80 L162.44 697.80 L163.47 697.80 L164.49 697.80 L165.52 697.80 L166.54 697.80 L167.57 697.80 L168.59 697.80 L169.61 697.80 L170.64 697.80 L171.66 697.80 L172.69 697.80 L173.71 697.80 L174.73 697.80 L175.76 697.80 L176.78 697.80 L177.81 697.80 L178.83 697.80 L179.86 697.80 L180.88 697.80 L181.90 697.80 L182.93 697.80 L183.95 697.80 L184.98 697.80 L186.00 697.80 L187.00 697.80 L188.00 697.80 L189.00 697.80 L190.00 697.80 L191.00 697.80 L192.00 697.80 L193.00 697.80 L194.00 697.80 L195.00 697.80 L196.00 697.80 L197.00 697.80 L198.00 697.80 L199.00 697.80 L200.00 697.80 L201.00 697.80 L202.00 697.80 L203.00 697.80 L204.00 697.80 L205.00 697.80 L206.00 697.80 L207.00 697.80 L208.00 697.80 L209.00 697.80 L210.00 697.80 L211.00 697.80 L212.00 697.80 L213.00 697.80 L214.00 697.80 L215.00 697.80 L216.00 697.80 L217.00 697.80 L218.00 697.80 L219.00 697.80 L220.00 697.80 L221.00 697.80 L222.00 697.80 L223.00 697.80 L224.00 697.80 L225.00 697.80 L226.00 697.80 L227.00 697.80 L228.00 697.80 L229.00 697.80 L230.00 697.80 L231.00 697.80 L232.00 697.80 L233.00 697.80 L234.00 697.80 L235.00 697.80 L236.00 697.80 L237.00 697.80 L238.00 697.80 L239.00 697.80 L240.00 697.80 L241.00 697.80 L242.00 697.80 L243.00 697.80 L244.00 697.80 L245.00 697.80 L246.00 697.80 L247.00 697.80 L248.00 697.80 L249.00 697.80 L250.00 697.80 L251.00 697.80 L252.00 697.80 L253.00 697.80 L254.00 697.80 L255.00 697.80 L256.00 697.80 L257.00 697.80 L258.00 697.80 L259.00 697.80 L260.00 697.80 L261.00 697.80 L262.00 697.80 L263.00 697.80 L264.00 697.80 L265.00 697.80 L266.00 697.80 L267.00 697.80 L268.00 697.80 L269.00 697.80 L270.00 697.80 L271.00 697.80 L272.00 697.80 L273.00 697.80 L274.00 697.80 L275.00 697.80 L276.00 697.80 L277.00 697.80 L278.00 697.80 L279.00 697.80 L280.00 697.80 L281.00 697.80 L282.00 697.80 L283.00 697.80 L284.00 697.80 L285.00 697.80 L286.00 697.80 L287.00 697.80 L288.00 697.80 L289.00 697.80 L290.00 697.80 L291.00 697.80 L292.00 697.80 L293.00 697.80 L294.00 697.80 L295.00 697.80 L296.00 697.80 L297.00 697.80 L298.00 697.80 L299.00 697.80 L300.00 697.80 L301.00 697.80 L302.00 697.80 L303.00 697.80 L304.00 697.80 V720.00 L316.30 721.90"/>
</g>
<line x1="76.00" y1="701.50" x2="316.30" y2="701.50" stroke="#f2f2f2" stroke-width="1.1" stroke-dasharray="4.2 1.5 1.8 1.5"/>
<text x="289.00" y="667.00" font-size="10.60" fill="#f2f2f2" text-anchor="start" font-weight="normal" >E<tspan font-size="7.4" dy="2.0">C</tspan></text>
<text x="288.40" y="694.20" font-size="10.60" fill="#f2f2f2" text-anchor="start" font-weight="normal" >E<tspan font-size="7.4" dy="2.0">V</tspan></text>
<text x="289.70" y="717.40" font-size="10.60" fill="#f2f2f2" text-anchor="start" font-weight="normal" >E<tspan font-size="7.4" dy="2.0">F</tspan></text>
<text x="170.50" y="614.05" font-size="11.60" fill="#f2f2f2" text-anchor="start" font-weight="normal" >p = 10<tspan font-size="7.6" dy="-4.2">19</tspan><tspan dy="4.2"> cm</tspan><tspan font-size="7.6" dy="-4.2">-3</tspan></text>
<rect x="437.90" y="122.80" width="238.70" height="144.20" fill="url(#g5)"/>
<rect x="670.30" y="122.80" width="3.00" height="144.20" fill="url(#spk)"/>
<path d="M437.90 127.10h2.2 M437.90 143.40h2.2 M437.90 159.70h2.2 M437.90 176.00h2.2 M437.90 192.30h2.2 M437.90 208.60h2.2 M437.90 224.90h2.2 M437.90 241.20h2.2 M437.90 257.50h2.2 M480.10 267.00v-2.2 M522.30 267.00v-2.2 M564.50 267.00v-2.2 M606.70 267.00v-2.2 M648.90 267.00v-2.2" stroke="#000" stroke-opacity="0.15" stroke-width="0.9" fill="none"/>
<rect x="676.20" y="122.80" width="1.3" height="144.20" fill="#d6d6d6"/>
<g fill="none" stroke="#f2f2f2" stroke-width="1.55" stroke-linejoin="round">
<path d="M438.20 237.30 L439.23 237.24 L440.27 237.19 L441.30 237.13 L442.33 237.08 L443.37 237.02 L444.40 236.97 L445.43 236.91 L446.47 236.85 L447.50 236.79 L448.53 236.73 L449.57 236.67 L450.60 236.60 L451.64 236.53 L452.69 236.45 L453.73 236.38 L454.77 236.30 L455.81 236.21 L456.86 236.13 L457.90 236.04 L458.94 235.95 L459.99 235.86 L461.03 235.77 L462.07 235.68 L463.11 235.59 L464.16 235.49 L465.20 235.40 L466.24 235.31 L467.29 235.22 L468.33 235.12 L469.37 235.03 L470.41 234.93 L471.46 234.84 L472.50 234.74 L473.54 234.64 L474.59 234.54 L475.63 234.44 L476.67 234.33 L477.71 234.22 L478.76 234.11 L479.80 234.00 L480.84 233.88 L481.89 233.76 L482.93 233.63 L483.97 233.50 L485.01 233.36 L486.06 233.22 L487.10 233.08 L488.14 232.94 L489.19 232.79 L490.23 232.65 L491.27 232.51 L492.31 232.37 L493.36 232.23 L494.40 232.10 L495.44 231.97 L496.49 231.84 L497.53 231.71 L498.57 231.58 L499.61 231.45 L500.66 231.33 L501.70 231.20 L502.74 231.07 L503.79 230.95 L504.83 230.82 L505.87 230.69 L506.91 230.56 L507.96 230.43 L509.00 230.30 L510.04 230.17 L511.09 230.03 L512.13 229.90 L513.17 229.76 L514.21 229.63 L515.26 229.49 L516.30 229.35 L517.34 229.21 L518.39 229.08 L519.43 228.94 L520.47 228.80 L521.51 228.67 L522.56 228.53 L523.60 228.40 L524.67 228.27 L525.73 228.13 L526.80 228.00 L527.87 227.87 L528.93 227.74 L530.00 227.60 L531.01 227.47 L532.01 227.33 L533.02 227.19 L534.02 227.05 L535.03 226.91 L536.04 226.77 L537.04 226.62 L538.05 226.48 L539.06 226.33 L540.06 226.19 L541.07 226.04 L542.08 225.89 L543.08 225.74 L544.09 225.60 L545.09 225.45 L546.10 225.30 L547.10 225.15 L548.10 225.00 L549.10 224.84 L550.10 224.69 L551.10 224.53 L552.10 224.37 L553.10 224.21 L554.10 224.05 L555.10 223.89 L556.10 223.73 L557.10 223.58 L558.10 223.43 L559.10 223.29 L560.10 223.15 L561.10 223.02 L562.10 222.90 L563.11 222.78 L564.11 222.66 L565.12 222.54 L566.12 222.43 L567.13 222.32 L568.14 222.21 L569.14 222.10 L570.15 221.99 L571.16 221.89 L572.16 221.79 L573.17 221.70 L574.18 221.61 L575.18 221.53 L576.19 221.44 L577.19 221.37 L578.20 221.30 L579.20 221.23 L580.20 221.17 L581.20 221.11 L582.20 221.05 L583.20 220.99 L584.20 220.93 L585.20 220.87 L586.20 220.82 L587.20 220.77 L588.20 220.72 L589.20 220.68 L590.20 220.64 L591.20 220.60 L592.20 220.56 L593.20 220.53 L594.20 220.50 L595.21 220.47 L596.21 220.45 L597.22 220.43 L598.23 220.41 L599.23 220.39 L600.24 220.38 L601.24 220.36 L602.25 220.35 L603.26 220.33 L604.26 220.32 L605.27 220.30 L606.27 220.28 L607.28 220.27 L608.29 220.25 L609.29 220.22 L610.30 220.20 L611.37 220.17 L612.43 220.15 L613.50 220.12 L614.57 220.09 L615.63 220.06 L616.70 220.03 L617.77 219.99 L618.83 219.94 L619.90 219.89 L620.97 219.84 L622.03 219.77 L623.10 219.70 L624.18 219.59 L625.27 219.40 L626.35 219.16 L627.43 218.86 L628.52 218.50 L629.60 218.10 L630.80 217.50 L632.00 216.64 L633.20 215.51 L634.40 214.10 L635.47 212.29 L636.53 209.63 L637.60 206.10 L639.20 196.40 Q638.90 194.80 640.10 194.80 H642.90"/>
<path d="M438.20 265.80 L439.23 265.74 L440.27 265.69 L441.30 265.63 L442.33 265.58 L443.37 265.52 L444.40 265.47 L445.43 265.41 L446.47 265.35 L447.50 265.29 L448.53 265.23 L449.57 265.17 L450.60 265.10 L451.64 265.03 L452.69 264.96 L453.73 264.88 L454.77 264.80 L455.81 264.72 L456.86 264.64 L457.90 264.55 L458.94 264.47 L459.99 264.38 L461.03 264.29 L462.07 264.19 L463.11 264.10 L464.16 264.00 L465.20 263.90 L466.24 263.80 L467.29 263.69 L468.33 263.58 L469.37 263.46 L470.41 263.34 L471.46 263.22 L472.50 263.10 L473.54 262.97 L474.59 262.85 L475.63 262.72 L476.67 262.59 L477.71 262.46 L478.76 262.33 L479.80 262.20 L480.84 262.07 L481.89 261.94 L482.93 261.80 L483.97 261.67 L485.01 261.53 L486.06 261.40 L487.10 261.26 L488.14 261.12 L489.19 260.98 L490.23 260.84 L491.27 260.70 L492.31 260.57 L493.36 260.43 L494.40 260.30 L495.44 260.17 L496.49 260.04 L497.53 259.91 L498.57 259.78 L499.61 259.65 L500.66 259.53 L501.70 259.40 L502.74 259.27 L503.79 259.15 L504.83 259.02 L505.87 258.89 L506.91 258.76 L507.96 258.63 L509.00 258.50 L510.04 258.37 L511.09 258.23 L512.13 258.09 L513.17 257.95 L514.21 257.81 L515.26 257.67 L516.30 257.53 L517.34 257.39 L518.39 257.26 L519.43 257.12 L520.47 256.98 L521.51 256.85 L522.56 256.72 L523.60 256.60 L524.67 256.48 L525.73 256.37 L526.80 256.26 L527.87 256.14 L528.93 256.03 L530.00 255.90 L531.01 255.77 L532.01 255.63 L533.02 255.49 L534.02 255.34 L535.03 255.19 L536.04 255.03 L537.04 254.87 L538.05 254.71 L539.06 254.54 L540.06 254.37 L541.07 254.21 L542.08 254.04 L543.08 253.88 L544.09 253.71 L545.09 253.56 L546.10 253.40 L547.10 253.25 L548.10 253.09 L549.10 252.92 L550.10 252.76 L551.10 252.60 L552.10 252.43 L553.10 252.27 L554.10 252.10 L555.10 251.95 L556.10 251.79 L557.10 251.64 L558.10 251.50 L559.10 251.36 L560.10 251.23 L561.10 251.11 L562.10 251.00 L563.11 250.90 L564.11 250.79 L565.12 250.69 L566.12 250.60 L567.13 250.50 L568.14 250.41 L569.14 250.33 L570.15 250.24 L571.16 250.16 L572.16 250.08 L573.17 250.01 L574.18 249.94 L575.18 249.87 L576.19 249.81 L577.19 249.75 L578.20 249.70 L579.20 249.65 L580.20 249.60 L581.20 249.55 L582.20 249.51 L583.20 249.46 L584.20 249.42 L585.20 249.37 L586.20 249.33 L587.20 249.30 L588.20 249.26 L589.20 249.23 L590.20 249.20 L591.20 249.17 L592.20 249.14 L593.20 249.12 L594.20 249.10 L595.21 249.08 L596.21 249.07 L597.22 249.05 L598.23 249.04 L599.23 249.03 L600.24 249.02 L601.24 249.01 L602.25 249.01 L603.26 249.00 L604.26 248.99 L605.27 248.98 L606.27 248.97 L607.28 248.95 L608.29 248.94 L609.29 248.92 L610.30 248.90 L611.37 248.87 L612.43 248.84 L613.50 248.80 L614.57 248.76 L615.63 248.70 L616.70 248.64 L617.77 248.57 L618.83 248.50 L619.90 248.41 L620.97 248.32 L622.03 248.21 L623.10 248.10 L624.18 247.95 L625.27 247.72 L626.35 247.44 L627.43 247.09 L628.52 246.67 L629.60 246.20 L630.80 245.49 L632.00 244.45 L633.20 243.09 L634.40 241.40 L635.47 239.16 L636.53 235.90 L637.60 231.80 L639.20 222.10 Q638.90 220.70 640.10 220.70 H642.90"/>
<path d="M650.10 194.80 H669.70 V127.40 L676.60 129.30"/>
<path d="M650.10 220.70 H669.70 V244.70 L676.60 246.30"/>
</g>
<line x1="437.90" y1="224.50" x2="676.60" y2="224.50" stroke="#f2f2f2" stroke-width="1.1" stroke-dasharray="4.2 1.5 1.8 1.5"/>
<path d="M646.10 191.80 C644.30 191.00 642.20 193.65 644.60 194.80 C647.00 195.96 644.90 198.60 643.10 197.80" fill="none" stroke="#f2f2f2" stroke-width="1.1" stroke-linecap="round"/>
<path d="M650.10 191.80 C648.30 191.00 646.20 193.65 648.60 194.80 C651.00 195.96 648.90 198.60 647.10 197.80" fill="none" stroke="#f2f2f2" stroke-width="1.1" stroke-linecap="round"/>
<path d="M646.10 216.80 C644.30 216.00 642.20 218.38 644.60 219.40 C647.00 220.41 644.90 222.80 643.10 222.00 M646.10 222.80 C644.30 222.00 642.20 224.38 644.60 225.40 C647.00 226.41 644.90 228.80 643.10 228.00" fill="none" stroke="#f2f2f2" stroke-width="1.1" stroke-linecap="round"/>
<path d="M650.10 216.80 C648.30 216.00 646.20 218.38 648.60 219.40 C651.00 220.41 648.90 222.80 647.10 222.00 M650.10 222.80 C648.30 222.00 646.20 224.38 648.60 225.40 C651.00 226.41 648.90 228.80 647.10 228.00" fill="none" stroke="#f2f2f2" stroke-width="1.1" stroke-linecap="round"/>
<text x="654.10" y="188.70" font-size="10.60" fill="#f2f2f2" text-anchor="start" font-weight="normal" >E<tspan font-size="7.4" dy="2.0">C</tspan></text>
<text x="653.50" y="215.80" font-size="10.60" fill="#f2f2f2" text-anchor="start" font-weight="normal" >E<tspan font-size="7.4" dy="2.0">V</tspan></text>
<text x="530.50" y="136.50" font-size="11.60" fill="#f2f2f2" text-anchor="start" font-weight="normal" >h = 350 nm</text>
<rect x="437.70" y="280.10" width="239.00" height="143.60" fill="url(#g6)"/>
<rect x="668.60" y="280.10" width="3.00" height="143.60" fill="url(#spk)"/>
<path d="M437.70 284.40h2.2 M437.70 300.70h2.2 M437.70 317.00h2.2 M437.70 333.30h2.2 M437.70 349.60h2.2 M437.70 365.90h2.2 M437.70 382.20h2.2 M437.70 398.50h2.2 M437.70 414.80h2.2 M479.90 423.70v-2.2 M522.10 423.70v-2.2 M564.30 423.70v-2.2 M606.50 423.70v-2.2 M648.70 423.70v-2.2" stroke="#000" stroke-opacity="0.15" stroke-width="0.9" fill="none"/>
<rect x="676.30" y="280.10" width="1.3" height="143.60" fill="#d6d6d6"/>
<g fill="none" stroke="#f2f2f2" stroke-width="1.55" stroke-linejoin="round">
<path d="M438.20 393.60 L439.23 393.54 L440.27 393.48 L441.30 393.43 L442.33 393.37 L443.37 393.31 L444.40 393.26 L445.43 393.20 L446.47 393.14 L447.50 393.08 L448.53 393.02 L449.57 392.96 L450.60 392.90 L451.64 392.84 L452.69 392.77 L453.73 392.71 L454.77 392.64 L455.81 392.57 L456.86 392.51 L457.90 392.44 L458.94 392.37 L459.99 392.29 L461.03 392.22 L462.07 392.14 L463.11 392.07 L464.16 391.98 L465.20 391.90 L466.24 391.81 L467.29 391.72 L468.33 391.62 L469.37 391.53 L470.41 391.42 L471.46 391.32 L472.50 391.21 L473.54 391.10 L474.59 390.99 L475.63 390.87 L476.67 390.76 L477.71 390.64 L478.76 390.52 L479.80 390.40 L480.84 390.28 L481.89 390.15 L482.93 390.02 L483.97 389.88 L485.01 389.75 L486.06 389.61 L487.10 389.46 L488.14 389.32 L489.19 389.18 L490.23 389.04 L491.27 388.90 L492.31 388.76 L493.36 388.63 L494.40 388.50 L495.44 388.37 L496.49 388.25 L497.53 388.12 L498.57 388.00 L499.61 387.88 L500.66 387.76 L501.70 387.64 L502.74 387.53 L503.79 387.41 L504.83 387.29 L505.87 387.17 L506.91 387.05 L507.96 386.92 L509.00 386.80 L510.04 386.67 L511.09 386.55 L512.13 386.42 L513.17 386.29 L514.21 386.15 L515.26 386.02 L516.30 385.89 L517.34 385.76 L518.39 385.63 L519.43 385.50 L520.47 385.37 L521.51 385.25 L522.56 385.12 L523.60 385.00 L524.67 384.88 L525.73 384.77 L526.80 384.66 L527.87 384.54 L528.93 384.43 L530.00 384.30 L531.04 384.17 L532.09 384.04 L533.13 383.91 L534.17 383.77 L535.21 383.64 L536.26 383.49 L537.30 383.35 L538.34 383.20 L539.39 383.04 L540.43 382.89 L541.47 382.72 L542.51 382.55 L543.56 382.38 L544.60 382.20 L545.64 382.01 L546.69 381.80 L547.73 381.59 L548.77 381.36 L549.81 381.13 L550.86 380.88 L551.90 380.64 L552.94 380.38 L553.99 380.13 L555.03 379.88 L556.07 379.63 L557.11 379.38 L558.16 379.14 L559.20 378.90 L560.24 378.67 L561.29 378.44 L562.33 378.22 L563.37 377.99 L564.41 377.77 L565.46 377.55 L566.50 377.32 L567.54 377.10 L568.59 376.87 L569.63 376.65 L570.67 376.41 L571.71 376.18 L572.76 375.94 L573.80 375.70 L574.84 375.45 L575.89 375.21 L576.93 374.95 L577.97 374.70 L579.01 374.44 L580.06 374.19 L581.10 373.92 L582.14 373.66 L583.19 373.39 L584.23 373.12 L585.27 372.84 L586.31 372.57 L587.36 372.29 L588.40 372.00 L589.44 371.71 L590.49 371.43 L591.53 371.14 L592.57 370.85 L593.61 370.55 L594.66 370.26 L595.70 369.95 L596.74 369.64 L597.79 369.33 L598.83 369.00 L599.87 368.67 L600.91 368.32 L601.96 367.97 L603.00 367.60 L604.06 367.22 L605.13 366.83 L606.19 366.42 L607.25 366.01 L608.32 365.58 L609.38 365.13 L610.45 364.66 L611.51 364.17 L612.57 363.64 L613.64 363.09 L614.70 362.50 L615.86 361.82 L617.02 361.09 L618.18 360.26 L619.34 359.27 L620.50 358.10 L621.95 355.59 L623.40 353.00 L624.50 351.90 Q623.80 352.00 625.00 352.00 H633.20"/>
<path d="M438.20 422.30 L439.23 422.22 L440.27 422.15 L441.30 422.07 L442.33 422.00 L443.37 421.92 L444.40 421.85 L445.43 421.77 L446.47 421.70 L447.50 421.62 L448.53 421.55 L449.57 421.47 L450.60 421.40 L451.64 421.33 L452.69 421.26 L453.73 421.19 L454.77 421.12 L455.81 421.05 L456.86 420.99 L457.90 420.92 L458.94 420.85 L459.99 420.78 L461.03 420.71 L462.07 420.64 L463.11 420.56 L464.16 420.48 L465.20 420.40 L466.24 420.31 L467.29 420.22 L468.33 420.12 L469.37 420.03 L470.41 419.92 L471.46 419.82 L472.50 419.71 L473.54 419.60 L474.59 419.49 L475.63 419.37 L476.67 419.26 L477.71 419.14 L478.76 419.02 L479.80 418.90 L480.84 418.78 L481.89 418.65 L482.93 418.52 L483.97 418.38 L485.01 418.25 L486.06 418.11 L487.10 417.96 L488.14 417.82 L489.19 417.68 L490.23 417.54 L491.27 417.40 L492.31 417.26 L493.36 417.13 L494.40 417.00 L495.44 416.87 L496.49 416.75 L497.53 416.62 L498.57 416.50 L499.61 416.38 L500.66 416.26 L501.70 416.14 L502.74 416.03 L503.79 415.91 L504.83 415.79 L505.87 415.67 L506.91 415.55 L507.96 415.42 L509.00 415.30 L510.04 415.18 L511.09 415.05 L512.13 414.93 L513.17 414.80 L514.21 414.68 L515.26 414.55 L516.30 414.42 L517.34 414.30 L518.39 414.17 L519.43 414.04 L520.47 413.91 L521.51 413.77 L522.56 413.64 L523.60 413.50 L524.67 413.36 L525.73 413.21 L526.80 413.06 L527.87 412.91 L528.93 412.75 L530.00 412.60 L531.04 412.45 L532.09 412.30 L533.13 412.16 L534.17 412.01 L535.21 411.87 L536.26 411.72 L537.30 411.57 L538.34 411.42 L539.39 411.26 L540.43 411.10 L541.47 410.94 L542.51 410.77 L543.56 410.59 L544.60 410.40 L545.64 410.20 L546.69 409.99 L547.73 409.77 L548.77 409.53 L549.81 409.29 L550.86 409.04 L551.90 408.78 L552.94 408.53 L553.99 408.27 L555.03 408.01 L556.07 407.75 L557.11 407.49 L558.16 407.24 L559.20 407.00 L560.24 406.76 L561.29 406.53 L562.33 406.29 L563.37 406.06 L564.41 405.82 L565.46 405.59 L566.50 405.36 L567.54 405.12 L568.59 404.89 L569.63 404.65 L570.67 404.42 L571.71 404.18 L572.76 403.94 L573.80 403.70 L574.84 403.46 L575.89 403.22 L576.93 402.97 L577.97 402.73 L579.01 402.49 L580.06 402.24 L581.10 402.00 L582.14 401.75 L583.19 401.50 L584.23 401.25 L585.27 400.99 L586.31 400.73 L587.36 400.47 L588.40 400.20 L589.44 399.93 L590.49 399.66 L591.53 399.40 L592.57 399.13 L593.61 398.86 L594.66 398.59 L595.70 398.31 L596.74 398.02 L597.79 397.73 L598.83 397.43 L599.87 397.11 L600.91 396.79 L601.96 396.45 L603.00 396.10 L604.06 395.73 L605.13 395.36 L606.19 394.97 L607.25 394.57 L608.32 394.15 L609.38 393.71 L610.45 393.24 L611.51 392.74 L612.57 392.20 L613.64 391.62 L614.70 391.00 L615.86 390.26 L617.02 389.41 L618.18 388.43 L619.34 387.27 L620.50 385.90 L621.95 383.21 L623.40 380.00 L624.50 377.80 Q623.80 377.50 625.00 377.50 H633.20"/>
<path d="M640.40 352.00 H667.90 V285.60 L676.70 286.60"/>
<path d="M640.40 377.50 H667.90 V399.50 L676.70 400.60"/>
</g>
<line x1="437.70" y1="380.50" x2="676.70" y2="380.50" stroke="#f2f2f2" stroke-width="1.1" stroke-dasharray="4.2 1.5 1.8 1.5"/>
<path d="M636.40 349.00 C634.60 348.20 632.50 350.85 634.90 352.00 C637.30 353.15 635.20 355.80 633.40 355.00" fill="none" stroke="#f2f2f2" stroke-width="1.1" stroke-linecap="round"/>
<path d="M640.40 349.00 C638.60 348.20 636.50 350.85 638.90 352.00 C641.30 353.15 639.20 355.80 637.40 355.00" fill="none" stroke="#f2f2f2" stroke-width="1.1" stroke-linecap="round"/>
<path d="M636.40 373.60 C634.60 372.80 632.50 375.19 634.90 376.20 C637.30 377.21 635.20 379.60 633.40 378.80 M636.40 379.60 C634.60 378.80 632.50 381.19 634.90 382.20 C637.30 383.21 635.20 385.60 633.40 384.80" fill="none" stroke="#f2f2f2" stroke-width="1.1" stroke-linecap="round"/>
<path d="M640.40 373.60 C638.60 372.80 636.50 375.19 638.90 376.20 C641.30 377.21 639.20 379.60 637.40 378.80 M640.40 379.60 C638.60 378.80 636.50 381.19 638.90 382.20 C641.30 383.21 639.20 385.60 637.40 384.80" fill="none" stroke="#f2f2f2" stroke-width="1.1" stroke-linecap="round"/>
<text x="652.60" y="347.20" font-size="10.60" fill="#f2f2f2" text-anchor="start" font-weight="normal" >E<tspan font-size="7.4" dy="2.0">C</tspan></text>
<text x="652.60" y="373.70" font-size="10.60" fill="#f2f2f2" text-anchor="start" font-weight="normal" >E<tspan font-size="7.4" dy="2.0">V</tspan></text>
<text x="652.60" y="393.60" font-size="10.60" fill="#f2f2f2" text-anchor="start" font-weight="normal" >E<tspan font-size="7.4" dy="2.0">F</tspan></text>
<text x="530.50" y="293.30" font-size="11.60" fill="#f2f2f2" text-anchor="start" font-weight="normal" >h = 200 nm</text>
<rect x="437.20" y="439.00" width="239.80" height="143.80" fill="url(#g7)"/>
<rect x="672.00" y="439.00" width="3.00" height="143.80" fill="url(#spk)"/>
<path d="M437.20 443.30h2.2 M437.20 459.60h2.2 M437.20 475.90h2.2 M437.20 492.20h2.2 M437.20 508.50h2.2 M437.20 524.80h2.2 M437.20 541.10h2.2 M437.20 557.40h2.2 M437.20 573.70h2.2 M479.40 582.80v-2.2 M521.60 582.80v-2.2 M563.80 582.80v-2.2 M606.00 582.80v-2.2 M648.20 582.80v-2.2" stroke="#000" stroke-opacity="0.15" stroke-width="0.9" fill="none"/>
<rect x="676.60" y="439.00" width="1.3" height="143.80" fill="#d6d6d6"/>
<g fill="none" stroke="#f2f2f2" stroke-width="1.55" stroke-linejoin="round">
<path d="M437.30 553.00 L438.37 552.94 L439.45 552.87 L440.52 552.81 L441.59 552.75 L442.66 552.69 L443.74 552.62 L444.81 552.56 L445.88 552.50 L446.95 552.43 L448.03 552.37 L449.10 552.30 L450.12 552.24 L451.13 552.17 L452.15 552.11 L453.16 552.05 L454.18 551.98 L455.19 551.92 L456.21 551.85 L457.22 551.78 L458.24 551.71 L459.25 551.64 L460.27 551.56 L461.28 551.48 L462.30 551.40 L463.31 551.31 L464.32 551.22 L465.32 551.12 L466.33 551.02 L467.34 550.91 L468.35 550.81 L469.35 550.69 L470.36 550.58 L471.37 550.46 L472.38 550.35 L473.38 550.23 L474.39 550.12 L475.40 550.00 L476.42 549.88 L477.43 549.77 L478.45 549.64 L479.46 549.52 L480.48 549.40 L481.49 549.28 L482.51 549.15 L483.52 549.03 L484.54 548.90 L485.55 548.77 L486.57 548.65 L487.58 548.52 L488.60 548.40 L489.61 548.28 L490.62 548.15 L491.62 548.03 L492.63 547.90 L493.64 547.78 L494.65 547.65 L495.65 547.52 L496.66 547.40 L497.67 547.28 L498.68 547.15 L499.68 547.03 L500.69 546.92 L501.70 546.80 L502.71 546.69 L503.72 546.58 L504.72 546.47 L505.73 546.37 L506.74 546.26 L507.75 546.16 L508.75 546.06 L509.76 545.95 L510.77 545.85 L511.78 545.74 L512.78 545.63 L513.79 545.52 L514.80 545.40 L515.82 545.28 L516.83 545.16 L517.85 545.03 L518.87 544.91 L519.88 544.78 L520.90 544.66 L521.92 544.53 L522.93 544.40 L523.95 544.26 L524.97 544.13 L525.98 543.99 L527.00 543.84 L528.02 543.70 L529.03 543.55 L530.05 543.39 L531.07 543.23 L532.08 543.07 L533.10 542.90 L534.12 542.72 L535.13 542.54 L536.15 542.35 L537.16 542.15 L538.18 541.94 L539.19 541.73 L540.21 541.51 L541.22 541.28 L542.24 541.05 L543.25 540.82 L544.27 540.58 L545.28 540.34 L546.30 540.10 L547.31 539.86 L548.32 539.61 L549.32 539.35 L550.33 539.09 L551.34 538.82 L552.35 538.55 L553.35 538.27 L554.36 537.99 L555.37 537.70 L556.38 537.41 L557.38 537.11 L558.39 536.81 L559.40 536.50 L560.42 536.19 L561.43 535.86 L562.45 535.54 L563.46 535.20 L564.48 534.86 L565.49 534.52 L566.51 534.16 L567.52 533.80 L568.54 533.44 L569.55 533.06 L570.57 532.68 L571.58 532.30 L572.60 531.90 L573.61 531.50 L574.62 531.09 L575.62 530.67 L576.63 530.24 L577.64 529.80 L578.65 529.36 L579.65 528.90 L580.66 528.44 L581.67 527.96 L582.68 527.48 L583.68 527.00 L584.69 526.50 L585.70 526.00 L586.75 525.47 L587.80 524.92 L588.85 524.37 L589.90 523.80 L590.95 523.21 L592.00 522.62 L593.05 522.01 L594.10 521.39 L595.15 520.75 L596.20 520.10 L597.30 519.43 L598.40 518.77 L599.50 518.09 L600.60 517.34 L601.70 516.49 L602.80 515.50 L604.10 513.71 L605.40 511.90 L606.50 511.00 Q606.00 510.80 607.20 510.80 H619.70"/>
<path d="M437.30 581.90 L438.37 581.84 L439.45 581.77 L440.52 581.71 L441.59 581.65 L442.66 581.59 L443.74 581.52 L444.81 581.46 L445.88 581.40 L446.95 581.33 L448.03 581.27 L449.10 581.20 L450.12 581.14 L451.13 581.07 L452.15 581.01 L453.16 580.95 L454.18 580.88 L455.19 580.82 L456.21 580.75 L457.22 580.68 L458.24 580.61 L459.25 580.54 L460.27 580.46 L461.28 580.38 L462.30 580.30 L463.31 580.21 L464.32 580.12 L465.32 580.02 L466.33 579.92 L467.34 579.81 L468.35 579.71 L469.35 579.59 L470.36 579.48 L471.37 579.36 L472.38 579.25 L473.38 579.13 L474.39 579.02 L475.40 578.90 L476.42 578.78 L477.43 578.66 L478.45 578.54 L479.46 578.41 L480.48 578.28 L481.49 578.16 L482.51 578.03 L483.52 577.90 L484.54 577.78 L485.55 577.65 L486.57 577.53 L487.58 577.41 L488.60 577.30 L489.61 577.19 L490.62 577.09 L491.62 576.99 L492.63 576.89 L493.64 576.79 L494.65 576.70 L495.65 576.60 L496.66 576.51 L497.67 576.41 L498.68 576.31 L499.68 576.21 L500.69 576.11 L501.70 576.00 L502.71 575.89 L503.72 575.78 L504.72 575.66 L505.73 575.55 L506.74 575.43 L507.75 575.31 L508.75 575.19 L509.76 575.07 L510.77 574.94 L511.78 574.81 L512.78 574.68 L513.79 574.54 L514.80 574.40 L515.82 574.25 L516.83 574.10 L517.85 573.95 L518.87 573.80 L519.88 573.64 L520.90 573.48 L521.92 573.31 L522.93 573.14 L523.95 572.97 L524.97 572.79 L525.98 572.61 L527.00 572.42 L528.02 572.23 L529.03 572.03 L530.05 571.83 L531.07 571.63 L532.08 571.42 L533.10 571.20 L534.12 570.97 L535.13 570.73 L536.15 570.48 L537.16 570.22 L538.18 569.94 L539.19 569.66 L540.21 569.38 L541.22 569.08 L542.24 568.79 L543.25 568.49 L544.27 568.19 L545.28 567.89 L546.30 567.60 L547.31 567.31 L548.32 567.02 L549.32 566.72 L550.33 566.42 L551.34 566.12 L552.35 565.82 L553.35 565.51 L554.36 565.20 L555.37 564.89 L556.38 564.57 L557.38 564.25 L558.39 563.93 L559.40 563.60 L560.42 563.27 L561.43 562.93 L562.45 562.59 L563.46 562.24 L564.48 561.89 L565.49 561.54 L566.51 561.18 L567.52 560.82 L568.54 560.45 L569.55 560.07 L570.57 559.69 L571.58 559.30 L572.60 558.90 L573.61 558.50 L574.62 558.09 L575.62 557.69 L576.63 557.27 L577.64 556.85 L578.65 556.42 L579.65 555.98 L580.66 555.52 L581.67 555.05 L582.68 554.57 L583.68 554.07 L584.69 553.54 L585.70 553.00 L586.75 552.40 L587.80 551.75 L588.85 551.06 L589.90 550.35 L590.95 549.60 L592.00 548.84 L593.05 548.06 L594.10 547.27 L595.15 546.48 L596.20 545.70 L597.30 544.89 L598.40 544.09 L599.50 543.27 L600.60 542.41 L601.70 541.50 L602.80 540.50 L604.10 539.02 L605.40 537.60 L606.50 536.80 Q606.00 536.60 607.20 536.60 H619.70"/>
<path d="M626.90 510.80 H671.20 V443.70 L677.00 444.70"/>
<path d="M626.90 536.60 H671.20 V559.30 L677.00 560.40"/>
</g>
<line x1="437.20" y1="540.50" x2="677.00" y2="540.50" stroke="#f2f2f2" stroke-width="1.1" stroke-dasharray="4.2 1.5 1.8 1.5"/>
<path d="M622.90 507.80 C621.10 507.00 619.00 509.65 621.40 510.80 C623.80 511.95 621.70 514.60 619.90 513.80" fill="none" stroke="#f2f2f2" stroke-width="1.1" stroke-linecap="round"/>
<path d="M626.90 507.80 C625.10 507.00 623.00 509.65 625.40 510.80 C627.80 511.95 625.70 514.60 623.90 513.80" fill="none" stroke="#f2f2f2" stroke-width="1.1" stroke-linecap="round"/>
<path d="M622.90 532.80 C621.10 532.00 619.00 534.39 621.40 535.40 C623.80 536.42 621.70 538.80 619.90 538.00 M622.90 538.80 C621.10 538.00 619.00 540.39 621.40 541.40 C623.80 542.42 621.70 544.80 619.90 544.00" fill="none" stroke="#f2f2f2" stroke-width="1.1" stroke-linecap="round"/>
<path d="M626.90 532.80 C625.10 532.00 623.00 534.39 625.40 535.40 C627.80 536.42 625.70 538.80 623.90 538.00 M626.90 538.80 C625.10 538.00 623.00 540.39 625.40 541.40 C627.80 542.42 625.70 544.80 623.90 544.00" fill="none" stroke="#f2f2f2" stroke-width="1.1" stroke-linecap="round"/>
<text x="654.20" y="501.80" font-size="10.60" fill="#f2f2f2" text-anchor="start" font-weight="normal" >E<tspan font-size="7.4" dy="2.0">C</tspan></text>
<text x="655.10" y="530.30" font-size="10.60" fill="#f2f2f2" text-anchor="start" font-weight="normal" >E<tspan font-size="7.4" dy="2.0">V</tspan></text>
<text x="656.10" y="553.30" font-size="10.60" fill="#f2f2f2" text-anchor="start" font-weight="normal" >E<tspan font-size="7.4" dy="2.0">F</tspan></text>
<text x="530.50" y="452.50" font-size="11.60" fill="#f2f2f2" text-anchor="start" font-weight="normal" >h = 100 nm</text>
<rect x="436.90" y="598.00" width="238.60" height="145.60" fill="url(#g8)"/>
<rect x="665.00" y="598.00" width="3.40" height="145.60" fill="url(#spk)"/>
<path d="M436.90 602.30h2.2 M436.90 618.60h2.2 M436.90 634.90h2.2 M436.90 651.20h2.2 M436.90 667.50h2.2 M436.90 683.80h2.2 M436.90 700.10h2.2 M436.90 716.40h2.2 M436.90 732.70h2.2 M479.10 743.60v-2.2 M521.30 743.60v-2.2 M563.50 743.60v-2.2 M605.70 743.60v-2.2 M647.90 743.60v-2.2" stroke="#000" stroke-opacity="0.15" stroke-width="0.9" fill="none"/>
<rect x="675.10" y="598.00" width="1.3" height="145.60" fill="#d6d6d6"/>
<g fill="none" stroke="#f2f2f2" stroke-width="1.55" stroke-linejoin="round">
<path d="M437.00 701.00 L438.00 700.53 L439.00 700.06 L440.00 699.59 L441.00 699.12 L442.00 698.65 L443.00 698.19 L444.00 697.74 L445.00 697.30 L446.01 696.87 L447.02 696.45 L448.04 696.04 L449.05 695.64 L450.06 695.24 L451.08 694.83 L452.09 694.42 L453.10 694.00 L454.10 693.58 L455.10 693.17 L456.10 692.75 L457.10 692.33 L458.10 691.90 L459.10 691.46 L460.10 690.99 L461.10 690.50 L462.10 689.97 L463.10 689.41 L464.10 688.81 L465.10 688.19 L466.10 687.57 L467.10 686.94 L468.10 686.31 L469.10 685.70 L470.10 685.09 L471.10 684.48 L472.10 683.86 L473.10 683.25 L474.10 682.64 L475.10 682.04 L476.10 681.46 L477.10 680.90 L478.13 680.34 L479.15 679.77 L480.18 679.21 L481.21 678.66 L482.24 678.11 L483.26 677.58 L484.29 677.07 L485.32 676.58 L486.35 676.12 L487.37 675.69 L488.40 675.30 L489.47 674.92 L490.53 674.55 L491.60 674.20 L492.67 673.87 L493.73 673.55 L494.80 673.26 L495.87 672.98 L496.93 672.73 L498.00 672.50 L499.01 672.29 L500.02 672.09 L501.04 671.90 L502.05 671.73 L503.06 671.56 L504.08 671.42 L505.09 671.30 L506.10 671.20 L507.12 671.12 L508.14 671.04 L509.15 670.97 L510.17 670.90 L511.19 670.83 L512.21 670.78 L513.23 670.72 L514.25 670.68 L515.26 670.65 L516.28 670.62 L517.30 670.60 L518.32 670.59 L519.35 670.57 L520.37 670.56 L521.40 670.55 L522.42 670.54 L523.44 670.53 L524.47 670.51 L525.49 670.50 L526.52 670.49 L527.54 670.49 L528.57 670.48 L529.59 670.47 L530.61 670.46 L531.64 670.45 L532.66 670.45 L533.69 670.44 L534.71 670.43 L535.73 670.43 L536.76 670.42 L537.78 670.42 L538.81 670.42 L539.83 670.41 L540.86 670.41 L541.88 670.41 L542.90 670.40 L543.93 670.40 L544.95 670.40 L545.98 670.40 L547.00 670.40 L548.00 670.40 L549.01 670.40 L550.01 670.40 L551.01 670.40 L552.01 670.40 L553.02 670.40 L554.02 670.40 L555.02 670.40 L556.02 670.40 L557.03 670.40 L558.03 670.40 L559.03 670.40 L560.03 670.40 L561.04 670.40 L562.04 670.40 L563.04 670.40 L564.04 670.40 L565.05 670.40 L566.05 670.40 L567.05 670.40 L568.05 670.40 L569.06 670.40 L570.06 670.40 L571.06 670.40 L572.06 670.40 L573.07 670.40 L574.07 670.40 L575.07 670.40 L576.07 670.40 L577.08 670.40 L578.08 670.40 L579.08 670.40 L580.08 670.40 L581.09 670.40 L582.09 670.40 L583.09 670.40 L584.09 670.40 L585.10 670.40 L586.10 670.40 L587.10 670.40 L588.11 670.40 L589.11 670.40 L590.11 670.40 L591.11 670.40 L592.12 670.40 L593.12 670.40 L594.12 670.40 L595.12 670.40 L596.13 670.40 L597.13 670.40 L598.13 670.40 L599.13 670.40 L600.14 670.40 L601.14 670.40 L602.14 670.40 L603.14 670.40 L604.15 670.40 L605.15 670.40 L606.15 670.40 L607.15 670.40 L608.16 670.40 L609.16 670.40 L610.16 670.40 L611.16 670.40 L612.17 670.40 L613.17 670.40 L614.17 670.40 L615.17 670.40 L616.18 670.40 L617.18 670.40 L618.18 670.40 L619.18 670.40 L620.19 670.40 L621.19 670.40 L622.19 670.40 L623.19 670.40 L624.20 670.40 L625.20 670.40 L626.20 670.40 L627.21 670.40 L628.21 670.40 L629.21 670.40 L630.21 670.40 L631.22 670.40 L632.22 670.40 L633.22 670.40 L634.22 670.40 L635.23 670.40 L636.23 670.40 L637.23 670.40 L638.23 670.40 L639.24 670.40 L640.24 670.40 L641.24 670.40 L642.24 670.40 L643.25 670.40 L644.25 670.40 L645.25 670.40 L646.25 670.40 L647.26 670.40 L648.26 670.40 L649.26 670.40 L650.26 670.40 L651.27 670.40 L652.27 670.40 L653.27 670.40 L654.27 670.40 L655.28 670.40 L656.28 670.40 L657.28 670.40 L658.28 670.40 L659.29 670.40 L660.29 670.40 L661.29 670.40 L662.29 670.40 L663.30 670.40 L664.30 670.40 V602.40 L675.50 604.30"/>
<path d="M437.00 727.40 L438.00 726.97 L439.00 726.55 L440.00 726.12 L441.00 725.69 L442.00 725.26 L443.00 724.84 L444.00 724.42 L445.00 724.00 L446.01 723.58 L447.02 723.17 L448.04 722.77 L449.05 722.37 L450.06 721.96 L451.08 721.55 L452.09 721.13 L453.10 720.70 L454.10 720.27 L455.10 719.83 L456.10 719.39 L457.10 718.94 L458.10 718.48 L459.10 718.00 L460.10 717.51 L461.10 717.00 L462.10 716.46 L463.10 715.89 L464.10 715.29 L465.10 714.68 L466.10 714.05 L467.10 713.43 L468.10 712.81 L469.10 712.20 L470.10 711.60 L471.10 710.99 L472.10 710.38 L473.10 709.77 L474.10 709.16 L475.10 708.56 L476.10 707.97 L477.10 707.40 L478.13 706.81 L479.15 706.21 L480.18 705.61 L481.21 705.01 L482.24 704.42 L483.26 703.85 L484.29 703.29 L485.32 702.76 L486.35 702.27 L487.37 701.81 L488.40 701.40 L489.47 701.00 L490.53 700.60 L491.60 700.20 L492.67 699.82 L493.73 699.45 L494.80 699.10 L495.87 698.78 L496.93 698.48 L498.00 698.23 L499.07 698.00 L500.13 697.83 L501.20 697.70 L502.21 697.61 L503.21 697.51 L504.22 697.43 L505.22 697.35 L506.23 697.27 L507.24 697.20 L508.24 697.13 L509.25 697.07 L510.26 697.01 L511.26 696.97 L512.27 696.92 L513.27 696.88 L514.28 696.85 L515.29 696.83 L516.29 696.81 L517.30 696.80 L518.32 696.79 L519.35 696.79 L520.37 696.78 L521.40 696.77 L522.42 696.77 L523.44 696.76 L524.47 696.76 L525.49 696.75 L526.52 696.75 L527.54 696.74 L528.57 696.74 L529.59 696.73 L530.61 696.73 L531.64 696.73 L532.66 696.72 L533.69 696.72 L534.71 696.72 L535.73 696.71 L536.76 696.71 L537.78 696.71 L538.81 696.71 L539.83 696.71 L540.86 696.70 L541.88 696.70 L542.90 696.70 L543.93 696.70 L544.95 696.70 L545.98 696.70 L547.00 696.70 L548.00 696.70 L549.01 696.70 L550.01 696.70 L551.01 696.70 L552.01 696.70 L553.02 696.70 L554.02 696.70 L555.02 696.70 L556.02 696.70 L557.03 696.70 L558.03 696.70 L559.03 696.70 L560.03 696.70 L561.04 696.70 L562.04 696.70 L563.04 696.70 L564.04 696.70 L565.05 696.70 L566.05 696.70 L567.05 696.70 L568.05 696.70 L569.06 696.70 L570.06 696.70 L571.06 696.70 L572.06 696.70 L573.07 696.70 L574.07 696.70 L575.07 696.70 L576.07 696.70 L577.08 696.70 L578.08 696.70 L579.08 696.70 L580.08 696.70 L581.09 696.70 L582.09 696.70 L583.09 696.70 L584.09 696.70 L585.10 696.70 L586.10 696.70 L587.10 696.70 L588.11 696.70 L589.11 696.70 L590.11 696.70 L591.11 696.70 L592.12 696.70 L593.12 696.70 L594.12 696.70 L595.12 696.70 L596.13 696.70 L597.13 696.70 L598.13 696.70 L599.13 696.70 L600.14 696.70 L601.14 696.70 L602.14 696.70 L603.14 696.70 L604.15 696.70 L605.15 696.70 L606.15 696.70 L607.15 696.70 L608.16 696.70 L609.16 696.70 L610.16 696.70 L611.16 696.70 L612.17 696.70 L613.17 696.70 L614.17 696.70 L615.17 696.70 L616.18 696.70 L617.18 696.70 L618.18 696.70 L619.18 696.70 L620.19 696.70 L621.19 696.70 L622.19 696.70 L623.19 696.70 L624.20 696.70 L625.20 696.70 L626.20 696.70 L627.21 696.70 L628.21 696.70 L629.21 696.70 L630.21 696.70 L631.22 696.70 L632.22 696.70 L633.22 696.70 L634.22 696.70 L635.23 696.70 L636.23 696.70 L637.23 696.70 L638.23 696.70 L639.24 696.70 L640.24 696.70 L641.24 696.70 L642.24 696.70 L643.25 696.70 L644.25 696.70 L645.25 696.70 L646.25 696.70 L647.26 696.70 L648.26 696.70 L649.26 696.70 L650.26 696.70 L651.27 696.70 L652.27 696.70 L653.27 696.70 L654.27 696.70 L655.28 696.70 L656.28 696.70 L657.28 696.70 L658.28 696.70 L659.29 696.70 L660.29 696.70 L661.29 696.70 L662.29 696.70 L663.30 696.70 L664.30 696.70 V719.30 L675.50 721.00"/>
</g>
<line x1="436.90" y1="700.50" x2="675.50" y2="700.50" stroke="#f2f2f2" stroke-width="1.1" stroke-dasharray="4.2 1.5 1.8 1.5"/>
<text x="649.70" y="665.40" font-size="10.60" fill="#f2f2f2" text-anchor="start" font-weight="normal" >E<tspan font-size="7.4" dy="2.0">C</tspan></text>
<text x="649.00" y="693.10" font-size="10.60" fill="#f2f2f2" text-anchor="start" font-weight="normal" >E<tspan font-size="7.4" dy="2.0">V</tspan></text>
<text x="650.10" y="716.10" font-size="10.60" fill="#f2f2f2" text-anchor="start" font-weight="normal" >E<tspan font-size="7.4" dy="2.0">F</tspan></text>
<text x="530.50" y="613.60" font-size="11.60" fill="#f2f2f2" text-anchor="start" font-weight="normal" >h = 0</text>
<text x="77.00" y="756.50" font-size="10.50" fill="#1a1a1a" text-anchor="middle" font-weight="normal" >1</text>
<text x="163.80" y="756.50" font-size="10.50" fill="#1a1a1a" text-anchor="middle" font-weight="normal" >10</text>
<text x="249.50" y="756.50" font-size="10.50" fill="#1a1a1a" text-anchor="middle" font-weight="normal" >100</text>
<text x="439.00" y="756.50" font-size="10.50" fill="#1a1a1a" text-anchor="middle" font-weight="normal" >1</text>
<text x="525.60" y="756.50" font-size="10.50" fill="#1a1a1a" text-anchor="middle" font-weight="normal" >10</text>
<text x="611.00" y="756.50" font-size="10.50" fill="#1a1a1a" text-anchor="middle" font-weight="normal" >100</text>
<text x="205.50" y="770.20" font-size="12.00" fill="#1a1a1a" text-anchor="middle" font-weight="normal" >Position (nm)</text>
<text x="568.00" y="770.20" font-size="12.00" fill="#1a1a1a" text-anchor="middle" font-weight="normal" >Position (nm)</text>
<rect x="18" y="303.2" width="17" height="268.3" fill="url(#cb)" stroke="#a0a0a0" stroke-width="1"/>
<line x1="32" y1="370.30" x2="35" y2="370.30" stroke="#333" stroke-width="0.8"/>
<line x1="32" y1="437.40" x2="35" y2="437.40" stroke="#333" stroke-width="0.8"/>
<line x1="32" y1="504.50" x2="35" y2="504.50" stroke="#333" stroke-width="0.8"/>
<text x="36.60" y="310.00" font-size="12.00" fill="#1a1a1a" text-anchor="start" font-weight="normal" >10<tspan font-size="8.5" dx="-1.2" dy="-4.0">4</tspan></text>
<text x="36.60" y="375.80" font-size="12.00" fill="#1a1a1a" text-anchor="start" font-weight="normal" >10<tspan font-size="8.5" dx="-1.2" dy="-4.0">3</tspan></text>
<text x="36.60" y="442.80" font-size="12.00" fill="#1a1a1a" text-anchor="start" font-weight="normal" >10<tspan font-size="8.5" dx="-1.2" dy="-4.0">2</tspan></text>
<text x="36.60" y="509.80" font-size="12.00" fill="#1a1a1a" text-anchor="start" font-weight="normal" >10<tspan font-size="8.5" dx="-1.2" dy="-4.0">1</tspan></text>
<text x="36.60" y="572.60" font-size="12.00" fill="#1a1a1a" text-anchor="start" font-weight="normal" >10<tspan font-size="8.5" dx="-1.2" dy="-4.0">0</tspan></text>
<text transform="translate(9.5 430.8) rotate(-90)" font-size="12" fill="#1a1a1a" text-anchor="middle">Electric field (kV/cm)</text>
<path d="M73.90 913.10 C74.13 914.13 74.35 917.10 75.30 919.30 C76.25 921.50 78.30 924.70 79.60 926.30 C80.90 927.90 81.93 927.88 83.10 928.90 C84.27 929.92 85.13 930.50 86.60 932.40 C88.07 934.30 90.28 938.27 91.90 940.30 C93.52 942.33 94.70 943.43 96.30 944.60 C97.90 945.77 99.75 946.42 101.50 947.30 C103.25 948.18 105.05 948.88 106.80 949.90 C108.55 950.92 110.40 951.83 112.00 953.40 C113.60 954.97 115.08 956.93 116.40 959.30 C117.72 961.67 118.58 964.58 119.90 967.60 C121.22 970.62 122.68 974.52 124.30 977.40 C125.92 980.28 127.55 982.87 129.60 984.90 C131.65 986.93 134.27 988.43 136.60 989.60 C138.93 990.77 140.98 990.93 143.60 991.90 C146.22 992.87 149.68 994.08 152.30 995.40 C154.92 996.72 156.67 998.25 159.30 999.80 C161.93 1001.35 165.17 1003.68 168.10 1004.70 C171.03 1005.72 174.27 1005.50 176.90 1005.90 C179.53 1006.30 181.72 1006.60 183.90 1007.10 C186.08 1007.60 187.58 1008.03 190.00 1008.90 C192.42 1009.77 194.95 1011.57 198.40 1012.30 C201.85 1013.03 207.63 1012.82 210.70 1013.30 C213.77 1013.78 215.10 1014.62 216.80 1015.20 C218.50 1015.78 219.20 1016.73 220.90 1016.80 C222.60 1016.87 224.97 1015.67 227.00 1015.60 C229.03 1015.53 227.60 1016.07 233.10 1016.40 C238.60 1016.73 248.42 1017.30 260.00 1017.60 C271.58 1017.90 295.50 1018.10 302.60 1018.20 L302.60 1018.50 L73.90 1018.50 Z" fill="#cc3366" stroke="none"/>
<path d="M73.90 939.90 C74.42 940.40 76.05 942.02 77.00 942.90 C77.95 943.78 78.58 944.92 79.60 945.20 C80.62 945.48 81.93 944.32 83.10 944.60 C84.27 944.88 85.28 945.07 86.60 946.90 C87.92 948.73 89.38 952.85 91.00 955.60 C92.62 958.35 94.40 960.90 96.30 963.40 C98.20 965.90 100.50 968.23 102.40 970.60 C104.30 972.97 105.95 975.15 107.70 977.60 C109.45 980.05 111.30 982.90 112.90 985.30 C114.50 987.70 115.68 989.80 117.30 992.00 C118.92 994.20 120.85 996.85 122.60 998.50 C124.35 1000.15 126.05 1001.33 127.80 1001.90 C129.55 1002.47 131.50 1002.02 133.10 1001.90 C134.70 1001.78 136.08 1001.12 137.40 1001.20 C138.72 1001.28 139.68 1001.47 141.00 1002.40 C142.32 1003.33 143.70 1005.33 145.30 1006.80 C146.90 1008.27 148.55 1010.27 150.60 1011.20 C152.65 1012.13 155.27 1012.12 157.60 1012.40 C159.93 1012.68 161.70 1012.67 164.60 1012.90 C167.50 1013.13 170.77 1013.37 175.00 1013.80 C179.23 1014.23 184.17 1015.00 190.00 1015.50 C195.83 1016.00 203.33 1016.42 210.00 1016.80 C216.67 1017.18 214.57 1017.53 230.00 1017.80 C245.43 1018.07 290.50 1018.30 302.60 1018.40 L302.60 1018.50 L73.90 1018.50 Z" fill="#6680b3" stroke="none"/>
<path d="M73.90 1015.80 C78.25 1015.75 90.65 1015.67 100.00 1015.50 C109.35 1015.33 121.67 1014.97 130.00 1014.80 C138.33 1014.63 144.17 1014.80 150.00 1014.50 C155.83 1014.20 160.00 1013.13 165.00 1013.00 C170.00 1012.87 174.10 1013.42 180.00 1013.70 C185.90 1013.98 193.58 1014.12 200.40 1014.70 C207.22 1015.28 214.30 1016.68 220.90 1017.20 C227.50 1017.72 226.38 1017.60 240.00 1017.80 C253.62 1018.00 292.17 1018.30 302.60 1018.40 L302.60 1018.50 L73.90 1018.50 Z" fill="#0505f0" stroke="none"/>
<path d="M73.90 913.10 C74.13 914.13 74.35 917.10 75.30 919.30 C76.25 921.50 78.30 924.70 79.60 926.30 C80.90 927.90 81.93 927.88 83.10 928.90 C84.27 929.92 85.13 930.50 86.60 932.40 C88.07 934.30 90.28 938.27 91.90 940.30 C93.52 942.33 94.70 943.43 96.30 944.60 C97.90 945.77 99.75 946.42 101.50 947.30 C103.25 948.18 105.05 948.88 106.80 949.90 C108.55 950.92 110.40 951.83 112.00 953.40 C113.60 954.97 115.08 956.93 116.40 959.30 C117.72 961.67 118.58 964.58 119.90 967.60 C121.22 970.62 122.68 974.52 124.30 977.40 C125.92 980.28 127.55 982.87 129.60 984.90 C131.65 986.93 134.27 988.43 136.60 989.60 C138.93 990.77 140.98 990.93 143.60 991.90 C146.22 992.87 149.68 994.08 152.30 995.40 C154.92 996.72 156.67 998.25 159.30 999.80 C161.93 1001.35 165.17 1003.68 168.10 1004.70 C171.03 1005.72 174.27 1005.50 176.90 1005.90 C179.53 1006.30 181.72 1006.60 183.90 1007.10 C186.08 1007.60 187.58 1008.03 190.00 1008.90 C192.42 1009.77 194.95 1011.57 198.40 1012.30 C201.85 1013.03 207.63 1012.82 210.70 1013.30 C213.77 1013.78 215.10 1014.62 216.80 1015.20 C218.50 1015.78 219.20 1016.73 220.90 1016.80 C222.60 1016.87 224.97 1015.67 227.00 1015.60 C229.03 1015.53 227.60 1016.07 233.10 1016.40 C238.60 1016.73 248.42 1017.30 260.00 1017.60 C271.58 1017.90 295.50 1018.10 302.60 1018.20" fill="none" stroke="#000" stroke-width="1.1"/>
<path d="M73.90 939.90 C74.42 940.40 76.05 942.02 77.00 942.90 C77.95 943.78 78.58 944.92 79.60 945.20 C80.62 945.48 81.93 944.32 83.10 944.60 C84.27 944.88 85.28 945.07 86.60 946.90 C87.92 948.73 89.38 952.85 91.00 955.60 C92.62 958.35 94.40 960.90 96.30 963.40 C98.20 965.90 100.50 968.23 102.40 970.60 C104.30 972.97 105.95 975.15 107.70 977.60 C109.45 980.05 111.30 982.90 112.90 985.30 C114.50 987.70 115.68 989.80 117.30 992.00 C118.92 994.20 120.85 996.85 122.60 998.50 C124.35 1000.15 126.05 1001.33 127.80 1001.90 C129.55 1002.47 131.50 1002.02 133.10 1001.90 C134.70 1001.78 136.08 1001.12 137.40 1001.20 C138.72 1001.28 139.68 1001.47 141.00 1002.40 C142.32 1003.33 143.70 1005.33 145.30 1006.80 C146.90 1008.27 148.55 1010.27 150.60 1011.20 C152.65 1012.13 155.27 1012.12 157.60 1012.40 C159.93 1012.68 161.70 1012.67 164.60 1012.90 C167.50 1013.13 170.77 1013.37 175.00 1013.80 C179.23 1014.23 184.17 1015.00 190.00 1015.50 C195.83 1016.00 203.33 1016.42 210.00 1016.80 C216.67 1017.18 214.57 1017.53 230.00 1017.80 C245.43 1018.07 290.50 1018.30 302.60 1018.40" fill="none" stroke="#000" stroke-width="1.1"/>
<path d="M73.90 1015.80 C78.25 1015.75 90.65 1015.67 100.00 1015.50 C109.35 1015.33 121.67 1014.97 130.00 1014.80 C138.33 1014.63 144.17 1014.80 150.00 1014.50 C155.83 1014.20 160.00 1013.13 165.00 1013.00 C170.00 1012.87 174.10 1013.42 180.00 1013.70 C185.90 1013.98 193.58 1014.12 200.40 1014.70 C207.22 1015.28 214.30 1016.68 220.90 1017.20 C227.50 1017.72 226.38 1017.60 240.00 1017.80 C253.62 1018.00 292.17 1018.30 302.60 1018.40" fill="none" stroke="#000" stroke-width="1.1"/>
<path d="M73.40 842.60 V1018.50 H304.76" fill="none" stroke="#222" stroke-width="1.1"/>
<line x1="73.40" y1="959.87" x2="76.40" y2="959.87" stroke="#222" stroke-width="1"/>
<text x="69.90" y="963.47" font-size="10.00" fill="#222" text-anchor="end" font-weight="normal" >50</text>
<line x1="73.40" y1="901.23" x2="76.40" y2="901.23" stroke="#222" stroke-width="1"/>
<text x="69.90" y="904.83" font-size="10.00" fill="#222" text-anchor="end" font-weight="normal" >100</text>
<line x1="73.40" y1="842.60" x2="76.40" y2="842.60" stroke="#222" stroke-width="1"/>
<text x="69.90" y="846.20" font-size="10.00" fill="#222" text-anchor="end" font-weight="normal" >150</text>
<line x1="73.40" y1="1018.50" x2="73.40" y2="1015.50" stroke="#222" stroke-width="1"/>
<text x="73.40" y="1029.00" font-size="10.00" fill="#222" text-anchor="middle" font-weight="normal" >0.2</text>
<line x1="173.04" y1="1018.50" x2="173.04" y2="1015.50" stroke="#222" stroke-width="1"/>
<text x="173.04" y="1029.00" font-size="10.00" fill="#222" text-anchor="middle" font-weight="normal" >0.4</text>
<line x1="231.33" y1="1018.50" x2="231.33" y2="1015.50" stroke="#222" stroke-width="1"/>
<text x="231.33" y="1029.00" font-size="10.00" fill="#222" text-anchor="middle" font-weight="normal" >0.6</text>
<line x1="272.68" y1="1018.50" x2="272.68" y2="1015.50" stroke="#222" stroke-width="1"/>
<text x="272.68" y="1029.00" font-size="10.00" fill="#222" text-anchor="middle" font-weight="normal" >0.8</text>
<line x1="304.76" y1="1018.50" x2="304.76" y2="1015.50" stroke="#222" stroke-width="1"/>
<text x="304.76" y="1029.00" font-size="10.00" fill="#222" text-anchor="middle" font-weight="normal" >1.0</text>
<text x="207.00" y="1045.70" font-size="12.00" fill="#1a1a1a" text-anchor="middle" font-weight="normal" >Frequency (THz)</text>
<text transform="translate(50.00 928.6) rotate(-90)" font-size="12" fill="#1a1a1a" text-anchor="middle">Power spectrum (arb .units)</text>
<text x="72.20" y="813.30" font-size="14.00" fill="#000" text-anchor="start" font-weight="bold" >b</text>
<rect x="167.20" y="852.60" width="18.80" height="11.20" fill="#cc3366" stroke="#111" stroke-width="1.2"/>
<text x="192.30" y="863.00" font-size="11.70" fill="#1a1a1a" text-anchor="start" font-weight="normal" >p = 10<tspan font-size="8" dy="-4.5">19</tspan><tspan dy="4.5"> cm</tspan><tspan font-size="8" dy="-4.5">-3</tspan></text>
<rect x="167.20" y="871.30" width="18.80" height="11.20" fill="#6680b3" stroke="#111" stroke-width="1.2"/>
<text x="192.30" y="881.90" font-size="11.70" fill="#1a1a1a" text-anchor="start" font-weight="normal" >p = 10<tspan font-size="8" dy="-4.5">18</tspan><tspan dy="4.5"> cm</tspan><tspan font-size="8" dy="-4.5">-3</tspan></text>
<rect x="167.20" y="890.00" width="18.80" height="11.20" fill="#0505f0" stroke="#111" stroke-width="1.2"/>
<text x="192.30" y="900.80" font-size="11.70" fill="#1a1a1a" text-anchor="start" font-weight="normal" >p = 10<tspan font-size="8" dy="-4.5">17</tspan><tspan dy="4.5"> cm</tspan><tspan font-size="8" dy="-4.5">-3</tspan><tspan dy="4.5"> (x20)</tspan></text>
<path d="M443.90 858.00 C444.13 858.65 444.63 861.08 445.30 861.90 C445.97 862.72 446.88 862.82 447.90 862.90 C448.92 862.98 450.15 862.48 451.40 862.40 C452.65 862.32 454.38 862.10 455.40 862.40 C456.42 862.70 456.57 863.12 457.50 864.20 C458.43 865.28 459.73 867.30 461.00 868.90 C462.27 870.50 463.93 873.42 465.10 873.80 C466.27 874.18 466.93 872.22 468.00 871.20 C469.07 870.18 470.33 868.87 471.50 867.70 C472.67 866.53 473.68 865.52 475.00 864.20 C476.32 862.88 478.08 860.30 479.40 859.80 C480.72 859.30 481.63 860.18 482.90 861.20 C484.17 862.22 485.83 863.52 487.00 865.90 C488.17 868.28 488.97 872.13 489.90 875.50 C490.83 878.87 491.57 882.30 492.60 886.10 C493.63 889.90 494.80 894.95 496.10 898.30 C497.40 901.65 498.65 904.10 500.40 906.20 C502.15 908.30 504.40 909.65 506.60 910.90 C508.80 912.15 511.57 912.73 513.60 913.70 C515.63 914.67 517.05 916.07 518.80 916.70 C520.55 917.33 522.63 916.92 524.10 917.50 C525.57 918.08 526.43 918.43 527.60 920.20 C528.77 921.97 529.83 924.35 531.10 928.10 C532.37 931.85 533.55 938.72 535.20 942.70 C536.85 946.68 539.05 950.17 541.00 952.00 C542.95 953.83 544.57 952.92 546.90 953.70 C549.23 954.48 552.48 954.63 555.00 956.70 C557.52 958.77 559.65 962.78 562.00 966.10 C564.35 969.42 566.75 973.88 569.10 976.60 C571.45 979.32 573.97 981.35 576.10 982.40 C578.23 983.45 580.35 981.73 581.90 982.90 C583.45 984.07 584.23 986.57 585.40 989.40 C586.57 992.23 587.82 997.57 588.90 999.90 C589.98 1002.23 590.73 1003.67 591.90 1003.40 C593.07 1003.13 594.25 999.38 595.90 998.30 C597.55 997.22 599.85 996.63 601.80 996.90 C603.75 997.17 605.67 998.82 607.60 999.90 C609.53 1000.98 610.87 1002.42 613.40 1003.40 C615.93 1004.38 620.07 1004.93 622.80 1005.80 C625.53 1006.67 627.85 1007.63 629.80 1008.60 C631.75 1009.57 633.33 1011.02 634.50 1011.60 C635.67 1012.18 635.83 1012.37 636.80 1012.10 C637.77 1011.83 638.75 1010.00 640.30 1010.00 C641.85 1010.00 643.57 1011.52 646.10 1012.10 C648.63 1012.68 652.38 1013.00 655.50 1013.50 C658.62 1014.00 661.50 1014.63 664.80 1015.10 C668.10 1015.57 673.55 1016.10 675.30 1016.30 L675.30 1018.00 L443.90 1018.00 Z" fill="#ff3300" stroke="none"/>
<path d="M443.60 913.10 C443.97 914.32 444.70 918.33 445.80 920.40 C446.90 922.47 448.73 924.15 450.20 925.50 C451.67 926.85 453.13 926.92 454.60 928.50 C456.07 930.08 457.53 933.18 459.00 935.00 C460.47 936.82 461.70 937.93 463.40 939.40 C465.10 940.87 467.27 942.47 469.20 943.80 C471.13 945.13 473.30 946.30 475.00 947.40 C476.70 948.50 477.93 949.18 479.40 950.40 C480.87 951.62 482.58 953.48 483.80 954.70 C485.02 955.92 485.97 956.48 486.70 957.70 C487.43 958.92 487.22 960.18 488.20 962.00 C489.18 963.82 490.90 966.52 492.60 968.60 C494.30 970.68 496.22 972.80 498.40 974.50 C500.58 976.20 503.27 977.58 505.70 978.80 C508.13 980.02 510.08 980.87 513.00 981.80 C515.92 982.73 520.52 983.43 523.20 984.40 C525.88 985.37 526.90 985.85 529.10 987.60 C531.30 989.35 534.42 993.03 536.40 994.90 C538.38 996.77 539.07 997.97 541.00 998.80 C542.93 999.63 545.27 999.13 548.00 999.90 C550.73 1000.67 554.28 1002.03 557.40 1003.40 C560.52 1004.77 563.98 1006.93 566.70 1008.10 C569.42 1009.27 570.97 1009.82 573.70 1010.40 C576.43 1010.98 580.37 1010.82 583.10 1011.60 C585.83 1012.38 585.62 1014.28 590.10 1015.10 C594.58 1015.92 595.80 1016.10 610.00 1016.50 C624.20 1016.90 664.42 1017.33 675.30 1017.50 L675.30 1018.00 L443.60 1018.00 Z" fill="#cc3366" stroke="none"/>
<path d="M443.60 950.40 C444.47 951.00 446.97 953.03 448.80 954.00 C450.63 954.97 452.67 955.47 454.60 956.20 C456.53 956.93 458.70 957.83 460.40 958.40 C462.10 958.97 463.33 959.72 464.80 959.60 C466.27 959.48 467.50 958.32 469.20 957.70 C470.90 957.08 473.30 956.22 475.00 955.90 C476.70 955.58 477.93 955.50 479.40 955.80 C480.87 956.10 482.33 956.67 483.80 957.70 C485.27 958.73 486.73 960.18 488.20 962.00 C489.67 963.82 490.90 966.52 492.60 968.60 C494.30 970.68 496.22 972.80 498.40 974.50 C500.58 976.20 503.27 977.58 505.70 978.80 C508.13 980.02 510.08 980.87 513.00 981.80 C515.92 982.73 520.52 983.43 523.20 984.40 C525.88 985.37 526.90 985.85 529.10 987.60 C531.30 989.35 534.42 993.03 536.40 994.90 C538.38 996.77 539.07 997.97 541.00 998.80 C542.93 999.63 545.27 999.13 548.00 999.90 C550.73 1000.67 554.28 1002.03 557.40 1003.40 C560.52 1004.77 563.98 1006.93 566.70 1008.10 C569.42 1009.27 570.97 1009.82 573.70 1010.40 C576.43 1010.98 580.37 1010.82 583.10 1011.60 C585.83 1012.38 585.62 1014.28 590.10 1015.10 C594.58 1015.92 595.80 1016.10 610.00 1016.50 C624.20 1016.90 664.42 1017.33 675.30 1017.50 L675.30 1018.00 L443.60 1018.00 Z" fill="#1f7fe0" stroke="none"/>
<path d="M443.60 985.40 C444.47 985.65 446.97 986.48 448.80 986.90 C450.63 987.32 451.93 987.50 454.60 987.90 C457.27 988.30 461.88 989.25 464.80 989.30 C467.72 989.35 469.67 988.48 472.10 988.20 C474.53 987.92 476.97 987.58 479.40 987.60 C481.83 987.62 484.50 987.57 486.70 988.30 C488.90 989.03 490.40 990.78 492.60 992.00 C494.80 993.22 497.23 994.58 499.90 995.60 C502.57 996.62 505.45 997.43 508.60 998.10 C511.75 998.77 516.12 999.33 518.80 999.60 C521.48 999.87 523.00 999.52 524.70 999.70 C526.40 999.88 527.30 1000.05 529.00 1000.70 C530.70 1001.35 533.07 1002.75 534.90 1003.60 C536.73 1004.45 538.58 1005.37 540.00 1005.80 C541.42 1006.23 540.50 1005.82 543.40 1006.20 C546.30 1006.58 553.52 1007.47 557.40 1008.10 C561.28 1008.73 562.82 1009.22 566.70 1010.00 C570.58 1010.78 576.80 1011.87 580.70 1012.80 C584.60 1013.73 586.58 1015.30 590.10 1015.60 C593.62 1015.90 597.92 1014.48 601.80 1014.60 C605.68 1014.72 601.15 1015.80 613.40 1016.30 C625.65 1016.80 664.98 1017.38 675.30 1017.60 L675.30 1018.00 L443.60 1018.00 Z" fill="#0000f5" stroke="none"/>
<path d="M443.90 858.00 C444.13 858.65 444.63 861.08 445.30 861.90 C445.97 862.72 446.88 862.82 447.90 862.90 C448.92 862.98 450.15 862.48 451.40 862.40 C452.65 862.32 454.38 862.10 455.40 862.40 C456.42 862.70 456.57 863.12 457.50 864.20 C458.43 865.28 459.73 867.30 461.00 868.90 C462.27 870.50 463.93 873.42 465.10 873.80 C466.27 874.18 466.93 872.22 468.00 871.20 C469.07 870.18 470.33 868.87 471.50 867.70 C472.67 866.53 473.68 865.52 475.00 864.20 C476.32 862.88 478.08 860.30 479.40 859.80 C480.72 859.30 481.63 860.18 482.90 861.20 C484.17 862.22 485.83 863.52 487.00 865.90 C488.17 868.28 488.97 872.13 489.90 875.50 C490.83 878.87 491.57 882.30 492.60 886.10 C493.63 889.90 494.80 894.95 496.10 898.30 C497.40 901.65 498.65 904.10 500.40 906.20 C502.15 908.30 504.40 909.65 506.60 910.90 C508.80 912.15 511.57 912.73 513.60 913.70 C515.63 914.67 517.05 916.07 518.80 916.70 C520.55 917.33 522.63 916.92 524.10 917.50 C525.57 918.08 526.43 918.43 527.60 920.20 C528.77 921.97 529.83 924.35 531.10 928.10 C532.37 931.85 533.55 938.72 535.20 942.70 C536.85 946.68 539.05 950.17 541.00 952.00 C542.95 953.83 544.57 952.92 546.90 953.70 C549.23 954.48 552.48 954.63 555.00 956.70 C557.52 958.77 559.65 962.78 562.00 966.10 C564.35 969.42 566.75 973.88 569.10 976.60 C571.45 979.32 573.97 981.35 576.10 982.40 C578.23 983.45 580.35 981.73 581.90 982.90 C583.45 984.07 584.23 986.57 585.40 989.40 C586.57 992.23 587.82 997.57 588.90 999.90 C589.98 1002.23 590.73 1003.67 591.90 1003.40 C593.07 1003.13 594.25 999.38 595.90 998.30 C597.55 997.22 599.85 996.63 601.80 996.90 C603.75 997.17 605.67 998.82 607.60 999.90 C609.53 1000.98 610.87 1002.42 613.40 1003.40 C615.93 1004.38 620.07 1004.93 622.80 1005.80 C625.53 1006.67 627.85 1007.63 629.80 1008.60 C631.75 1009.57 633.33 1011.02 634.50 1011.60 C635.67 1012.18 635.83 1012.37 636.80 1012.10 C637.77 1011.83 638.75 1010.00 640.30 1010.00 C641.85 1010.00 643.57 1011.52 646.10 1012.10 C648.63 1012.68 652.38 1013.00 655.50 1013.50 C658.62 1014.00 661.50 1014.63 664.80 1015.10 C668.10 1015.57 673.55 1016.10 675.30 1016.30" fill="none" stroke="#000" stroke-width="1.1"/>
<path d="M443.60 913.10 C443.97 914.32 444.70 918.33 445.80 920.40 C446.90 922.47 448.73 924.15 450.20 925.50 C451.67 926.85 453.13 926.92 454.60 928.50 C456.07 930.08 457.53 933.18 459.00 935.00 C460.47 936.82 461.70 937.93 463.40 939.40 C465.10 940.87 467.27 942.47 469.20 943.80 C471.13 945.13 473.30 946.30 475.00 947.40 C476.70 948.50 477.93 949.18 479.40 950.40 C480.87 951.62 482.58 953.48 483.80 954.70 C485.02 955.92 485.97 956.48 486.70 957.70 C487.43 958.92 487.22 960.18 488.20 962.00 C489.18 963.82 490.90 966.52 492.60 968.60 C494.30 970.68 496.22 972.80 498.40 974.50 C500.58 976.20 503.27 977.58 505.70 978.80 C508.13 980.02 510.08 980.87 513.00 981.80 C515.92 982.73 520.52 983.43 523.20 984.40 C525.88 985.37 526.90 985.85 529.10 987.60 C531.30 989.35 534.42 993.03 536.40 994.90 C538.38 996.77 539.07 997.97 541.00 998.80 C542.93 999.63 545.27 999.13 548.00 999.90 C550.73 1000.67 554.28 1002.03 557.40 1003.40 C560.52 1004.77 563.98 1006.93 566.70 1008.10 C569.42 1009.27 570.97 1009.82 573.70 1010.40 C576.43 1010.98 580.37 1010.82 583.10 1011.60 C585.83 1012.38 585.62 1014.28 590.10 1015.10 C594.58 1015.92 595.80 1016.10 610.00 1016.50 C624.20 1016.90 664.42 1017.33 675.30 1017.50" fill="none" stroke="#000" stroke-width="1.1"/>
<path d="M443.60 950.40 C444.47 951.00 446.97 953.03 448.80 954.00 C450.63 954.97 452.67 955.47 454.60 956.20 C456.53 956.93 458.70 957.83 460.40 958.40 C462.10 958.97 463.33 959.72 464.80 959.60 C466.27 959.48 467.50 958.32 469.20 957.70 C470.90 957.08 473.30 956.22 475.00 955.90 C476.70 955.58 477.93 955.50 479.40 955.80 C480.87 956.10 482.33 956.67 483.80 957.70 C485.27 958.73 486.73 960.18 488.20 962.00 C489.67 963.82 490.90 966.52 492.60 968.60 C494.30 970.68 496.22 972.80 498.40 974.50 C500.58 976.20 503.27 977.58 505.70 978.80 C508.13 980.02 510.08 980.87 513.00 981.80 C515.92 982.73 520.52 983.43 523.20 984.40 C525.88 985.37 526.90 985.85 529.10 987.60 C531.30 989.35 534.42 993.03 536.40 994.90 C538.38 996.77 539.07 997.97 541.00 998.80 C542.93 999.63 545.27 999.13 548.00 999.90 C550.73 1000.67 554.28 1002.03 557.40 1003.40 C560.52 1004.77 563.98 1006.93 566.70 1008.10 C569.42 1009.27 570.97 1009.82 573.70 1010.40 C576.43 1010.98 580.37 1010.82 583.10 1011.60 C585.83 1012.38 585.62 1014.28 590.10 1015.10 C594.58 1015.92 595.80 1016.10 610.00 1016.50 C624.20 1016.90 664.42 1017.33 675.30 1017.50" fill="none" stroke="#000" stroke-width="1.1"/>
<path d="M443.60 985.40 C444.47 985.65 446.97 986.48 448.80 986.90 C450.63 987.32 451.93 987.50 454.60 987.90 C457.27 988.30 461.88 989.25 464.80 989.30 C467.72 989.35 469.67 988.48 472.10 988.20 C474.53 987.92 476.97 987.58 479.40 987.60 C481.83 987.62 484.50 987.57 486.70 988.30 C488.90 989.03 490.40 990.78 492.60 992.00 C494.80 993.22 497.23 994.58 499.90 995.60 C502.57 996.62 505.45 997.43 508.60 998.10 C511.75 998.77 516.12 999.33 518.80 999.60 C521.48 999.87 523.00 999.52 524.70 999.70 C526.40 999.88 527.30 1000.05 529.00 1000.70 C530.70 1001.35 533.07 1002.75 534.90 1003.60 C536.73 1004.45 538.58 1005.37 540.00 1005.80 C541.42 1006.23 540.50 1005.82 543.40 1006.20 C546.30 1006.58 553.52 1007.47 557.40 1008.10 C561.28 1008.73 562.82 1009.22 566.70 1010.00 C570.58 1010.78 576.80 1011.87 580.70 1012.80 C584.60 1013.73 586.58 1015.30 590.10 1015.60 C593.62 1015.90 597.92 1014.48 601.80 1014.60 C605.68 1014.72 601.15 1015.80 613.40 1016.30 C625.65 1016.80 664.98 1017.38 675.30 1017.60" fill="none" stroke="#000" stroke-width="1.1"/>
<path d="M443.40 841.20 V1018.00 H676.02" fill="none" stroke="#222" stroke-width="1.1"/>
<line x1="443.40" y1="959.07" x2="446.40" y2="959.07" stroke="#222" stroke-width="1"/>
<text x="439.90" y="962.67" font-size="10.00" fill="#222" text-anchor="end" font-weight="normal" >50</text>
<line x1="443.40" y1="900.13" x2="446.40" y2="900.13" stroke="#222" stroke-width="1"/>
<text x="439.90" y="903.73" font-size="10.00" fill="#222" text-anchor="end" font-weight="normal" >100</text>
<line x1="443.40" y1="841.20" x2="446.40" y2="841.20" stroke="#222" stroke-width="1"/>
<text x="439.90" y="844.80" font-size="10.00" fill="#222" text-anchor="end" font-weight="normal" >150</text>
<line x1="443.40" y1="1018.00" x2="443.40" y2="1015.00" stroke="#222" stroke-width="1"/>
<text x="443.40" y="1028.50" font-size="10.00" fill="#222" text-anchor="middle" font-weight="normal" >0.2</text>
<line x1="543.58" y1="1018.00" x2="543.58" y2="1015.00" stroke="#222" stroke-width="1"/>
<text x="543.58" y="1028.50" font-size="10.00" fill="#222" text-anchor="middle" font-weight="normal" >0.4</text>
<line x1="602.19" y1="1018.00" x2="602.19" y2="1015.00" stroke="#222" stroke-width="1"/>
<text x="602.19" y="1028.50" font-size="10.00" fill="#222" text-anchor="middle" font-weight="normal" >0.6</text>
<line x1="643.77" y1="1018.00" x2="643.77" y2="1015.00" stroke="#222" stroke-width="1"/>
<text x="643.77" y="1028.50" font-size="10.00" fill="#222" text-anchor="middle" font-weight="normal" >0.8</text>
<line x1="676.02" y1="1018.00" x2="676.02" y2="1015.00" stroke="#222" stroke-width="1"/>
<text x="676.02" y="1028.50" font-size="10.00" fill="#222" text-anchor="middle" font-weight="normal" >1.0</text>
<text x="557.00" y="1045.70" font-size="12.00" fill="#1a1a1a" text-anchor="middle" font-weight="normal" >Frequency (THz)</text>
<text transform="translate(417.30 928.6) rotate(-90)" font-size="12" fill="#1a1a1a" text-anchor="middle">Power spectrum (arb .units)</text>
<text x="438.20" y="813.30" font-size="14.00" fill="#000" text-anchor="start" font-weight="bold" >d</text>
<rect x="584.30" y="849.60" width="18.30" height="11.20" fill="#cc3366" stroke="#111" stroke-width="1.2"/>
<text x="608.70" y="859.40" font-size="11.90" fill="#1a1a1a" text-anchor="start" font-weight="normal" >h = 0 nm</text>
<rect x="584.30" y="864.50" width="18.30" height="11.20" fill="#ff3300" stroke="#111" stroke-width="1.2"/>
<text x="608.70" y="874.60" font-size="11.90" fill="#1a1a1a" text-anchor="start" font-weight="normal" >h = 100 nm</text>
<rect x="584.30" y="879.40" width="18.30" height="11.20" fill="#1f7fe0" stroke="#111" stroke-width="1.2"/>
<text x="608.70" y="890.20" font-size="11.90" fill="#1a1a1a" text-anchor="start" font-weight="normal" >h = 200 nm</text>
<rect x="584.30" y="894.30" width="18.30" height="11.20" fill="#0000f5" stroke="#111" stroke-width="1.2"/>
<text x="608.70" y="905.80" font-size="11.90" fill="#1a1a1a" text-anchor="start" font-weight="normal" >h = 350 nm</text></svg>
</body></html>
